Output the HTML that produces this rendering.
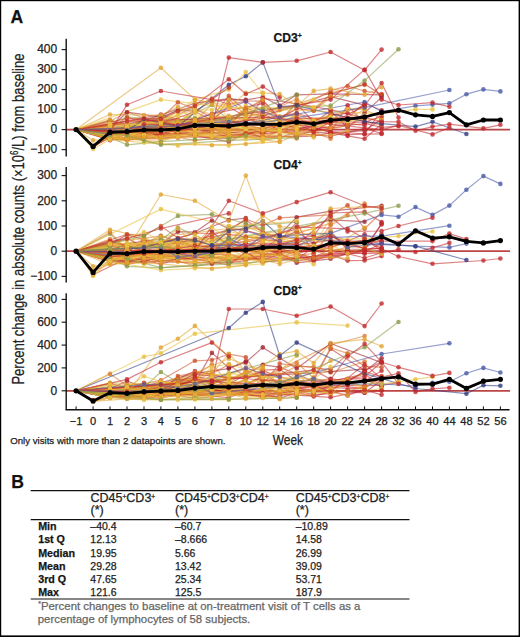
<!DOCTYPE html><html><head><meta charset="utf-8"><style>html,body{margin:0;padding:0;background:#fff}svg{display:block}text{font-family:"Liberation Sans",sans-serif;stroke:#222;stroke-width:0.25px}text.g{stroke:#666}</style></head><body>
<svg width="520" height="637" viewBox="0 0 520 637">
<rect x="0" y="0" width="520" height="637" fill="#fff"/>
<defs><filter id="bl" x="-5%" y="-5%" width="110%" height="110%"><feGaussianBlur stdDeviation="0.35"/></filter></defs><g filter="url(#bl)"><line x1="66.2" y1="129.6" x2="510" y2="129.6" stroke="#BC4444" stroke-width="1.8"/>
<line x1="66.2" y1="251.2" x2="510" y2="251.2" stroke="#BC4444" stroke-width="1.8"/>
<line x1="66.2" y1="390.8" x2="510" y2="390.8" stroke="#BC4444" stroke-width="1.8"/>
<g fill="none" stroke-width="1.2" stroke-opacity="0.58" stroke-linejoin="round"><polyline points="76.1,129.6 110.0,133.2 127.0,139.3 144.0,137.7 160.9,138.0 177.9,131.5 228.8,127.0 262.8,133.1 279.7,124.2 296.7,128.2 313.7,127.1 330.6,131.8 347.6,105.3 364.6,123.3 381.6,121.7" stroke="#C22A2D"/><polyline points="76.1,129.6 127.0,134.3 144.0,133.4 160.9,137.0 177.9,131.9 194.9,134.1 211.9,128.9 228.8,134.6 245.8,133.8 262.8,137.0 279.7,137.7 296.7,131.7 330.6,133.2 364.6,130.7 381.6,119.3" stroke="#A0242F"/><polyline points="76.1,129.6 110.0,140.2 127.0,137.1 177.9,137.8 194.9,135.2 211.9,130.1 228.8,132.1 262.8,134.0 279.7,124.4 313.7,130.8 347.6,125.5 364.6,123.5 381.6,127.4 398.5,126.2" stroke="#C22A2D"/><polyline points="76.1,129.6 110.0,135.8 127.0,133.7 144.0,132.5 160.9,129.7 194.9,133.5 228.8,136.4 245.8,133.3 296.7,128.8 330.6,122.2 364.6,125.2" stroke="#C22A2D"/><polyline points="76.1,129.6 110.0,126.8 127.0,127.9 144.0,126.7 160.9,121.6 177.9,122.0 194.9,120.3 228.8,123.2 245.8,120.3" stroke="#C22A2D"/><polyline points="76.1,129.6 110.0,138.6 127.0,134.6 144.0,138.1 160.9,135.8 228.8,138.2 245.8,134.3 262.8,130.3 279.7,127.7 296.7,136.6 313.7,136.1 330.6,132.9 347.6,135.9 364.6,138.8 381.6,124.0" stroke="#C22A2D"/><polyline points="76.1,129.6 110.0,133.0 127.0,131.4 144.0,137.0 160.9,130.1 245.8,130.4 262.8,133.5 296.7,131.4 347.6,124.1" stroke="#C22A2D"/><polyline points="76.1,129.6 110.0,132.3 160.9,129.7 211.9,126.8 228.8,128.2 262.8,114.6 279.7,120.7 296.7,103.6 313.7,122.4 330.6,111.1 347.6,127.6 364.6,112.7 381.6,97.4" stroke="#A0242F"/><polyline points="76.1,129.6 110.0,138.6 127.0,137.6 160.9,134.4 177.9,133.5 194.9,135.2 211.9,132.1 228.8,137.3 262.8,136.7 296.7,136.3 313.7,130.0 364.6,134.0 381.6,110.5" stroke="#C22A2D"/><polyline points="76.1,129.6 110.0,135.9 160.9,128.6 177.9,126.5 194.9,121.2 228.8,125.4 245.8,125.7 262.8,121.1 279.7,130.6 296.7,125.0 330.6,127.8" stroke="#C22A2D"/><polyline points="76.1,129.6 110.0,134.8 127.0,134.5 160.9,130.9 194.9,122.1 211.9,128.9 228.8,118.9 262.8,133.8 313.7,127.6 330.6,113.5 381.6,125.2" stroke="#D0532C"/><polyline points="76.1,129.6 144.0,129.1 160.9,125.4 177.9,120.0 194.9,119.1 211.9,113.9 262.8,103.6 279.7,119.6 296.7,121.9 313.7,120.9 330.6,115.7 347.6,113.2" stroke="#C22A2D"/><polyline points="76.1,129.6 110.0,123.6 127.0,117.1 160.9,119.2 177.9,109.6 194.9,109.2" stroke="#8A9C4A"/><polyline points="76.1,129.6 110.0,131.7 127.0,127.7 177.9,126.8 194.9,123.3 211.9,117.4 228.8,117.6 245.8,119.5 279.7,123.3 296.7,114.4 313.7,121.3 330.6,115.1 364.6,106.1" stroke="#DC7C2C"/><polyline points="76.1,129.6 127.0,139.4 144.0,131.6 160.9,135.7 211.9,132.4 228.8,132.9 245.8,130.6 262.8,138.0 296.7,123.9 313.7,127.6 330.6,132.1 347.6,134.6 364.6,134.2 381.6,133.9" stroke="#C22A2D"/><polyline points="76.1,129.6 110.0,127.0 144.0,131.5 160.9,133.9 177.9,130.1" stroke="#DC7C2C"/><polyline points="76.1,129.6 110.0,138.2 127.0,138.4 144.0,137.8 194.9,130.2 228.8,134.2 245.8,133.9 262.8,135.5 279.7,131.3 296.7,133.3 313.7,132.1 330.6,138.8" stroke="#DC7C2C"/><polyline points="76.1,129.6 110.0,130.0 127.0,125.8 160.9,127.0 194.9,125.9 211.9,122.7 228.8,121.0 245.8,112.8 262.8,115.6 330.6,96.7 364.6,105.2" stroke="#A0242F"/><polyline points="76.1,129.6 110.0,121.2 127.0,112.3 144.0,117.9 160.9,118.2 177.9,125.9 211.9,122.6 228.8,99.0 245.8,115.9 279.7,110.0 330.6,92.9 364.6,84.9" stroke="#DC7C2C"/><polyline points="76.1,129.6 110.0,139.3 127.0,136.7 144.0,135.5 160.9,136.1 177.9,134.5 194.9,134.2 211.9,136.5 228.8,136.3 245.8,136.8 262.8,139.7 279.7,141.9 296.7,134.8" stroke="#E2A532"/><polyline points="76.1,129.6 110.0,123.8 160.9,114.5 194.9,125.3 228.8,124.5 245.8,109.2 262.8,100.1 279.7,118.2 296.7,108.4 313.7,110.7 330.6,94.3 364.6,84.1 381.6,95.0" stroke="#C22A2D"/><polyline points="76.1,129.6 110.0,139.3 127.0,140.1 144.0,138.4 160.9,136.8 177.9,134.0 211.9,137.2 228.8,134.6" stroke="#D0532C"/><polyline points="76.1,129.6 110.0,128.3 127.0,112.2 160.9,117.1 177.9,110.5 194.9,110.9 211.9,101.5 228.8,99.6 245.8,99.9 262.8,97.0 279.7,105.6 296.7,94.8 330.6,93.9 381.6,94.9" stroke="#A0242F"/><polyline points="76.1,129.6 110.0,131.4 127.0,133.0 160.9,130.4 194.9,119.9 211.9,128.7 228.8,126.9 245.8,123.0 262.8,98.2 330.6,109.7 364.6,118.2 381.6,111.9" stroke="#C22A2D"/><polyline points="76.1,129.6 110.0,120.3 127.0,125.2 144.0,120.6 194.9,103.2 228.8,98.6 245.8,100.5" stroke="#A0242F"/><polyline points="76.1,129.6 110.0,128.6 127.0,117.6 144.0,120.8 160.9,123.4 194.9,106.3 211.9,98.6 228.8,104.4 245.8,101.2 262.8,100.9 279.7,118.3 330.6,90.7 347.6,86.0 364.6,91.0 381.6,94.0" stroke="#D0532C"/><polyline points="76.1,129.6 110.0,138.6 127.0,134.9 144.0,135.9 160.9,132.2 177.9,134.4 194.9,128.2 228.8,128.5" stroke="#E2A532"/><polyline points="76.1,129.6 127.0,120.9 160.9,120.3 177.9,112.3 194.9,106.6 211.9,99.9 228.8,117.9" stroke="#E9C13E"/><polyline points="76.1,129.6 110.0,133.5 127.0,132.8 160.9,133.4 211.9,134.3 228.8,133.8 296.7,129.4" stroke="#E9C13E"/><polyline points="76.1,129.6 110.0,132.8 127.0,129.5 144.0,122.0 160.9,121.2 177.9,126.4 194.9,121.1" stroke="#D0532C"/><polyline points="76.1,129.6 93.1,146.4 127.0,127.6 144.0,117.9 160.9,127.2 177.9,115.7 194.9,118.0 228.8,125.2 245.8,105.5 262.8,123.4 296.7,114.1" stroke="#E9C13E"/><polyline points="76.1,129.6 110.0,132.2 127.0,128.0 144.0,131.9 160.9,130.4 177.9,126.8 194.9,126.9 211.9,124.0 228.8,118.3 245.8,117.5 262.8,126.0 279.7,132.3 296.7,132.8 330.6,123.4 347.6,121.6 364.6,115.6" stroke="#E9C13E"/><polyline points="76.1,129.6 110.0,119.7 127.0,125.3 144.0,122.0 160.9,123.3 228.8,119.1 262.8,99.6" stroke="#E2A532"/><polyline points="76.1,129.6 110.0,137.2 127.0,134.2 160.9,133.6 177.9,127.0 194.9,127.2 228.8,132.9" stroke="#E9C13E"/><polyline points="76.1,129.6 93.1,145.9 110.0,138.2 127.0,140.6 144.0,136.0 160.9,139.5 194.9,131.6 262.8,137.9 296.7,136.1 313.7,134.3" stroke="#DC7C2C"/><polyline points="76.1,129.6 110.0,129.9 144.0,133.9 160.9,129.5 177.9,125.3 194.9,126.2 211.9,120.0 228.8,120.4 262.8,129.2 296.7,119.4 313.7,122.5 347.6,118.0 364.6,103.2 381.6,110.5" stroke="#C22A2D"/><polyline points="76.1,129.6 110.0,134.5 127.0,132.8 144.0,131.8 160.9,126.0 211.9,134.1 228.8,129.2 245.8,130.3 279.7,128.8 296.7,116.2 313.7,127.7 330.6,121.6 347.6,109.1 364.6,109.3 381.6,118.2" stroke="#E2A532"/><polyline points="76.1,129.6 110.0,134.1 127.0,129.2 160.9,124.1 194.9,118.3 228.8,120.0 245.8,129.3" stroke="#8A9C4A"/><polyline points="76.1,129.6 110.0,136.4 127.0,132.0 144.0,131.2 160.9,133.7 177.9,128.9 228.8,127.2" stroke="#DC7C2C"/><polyline points="76.1,129.6 110.0,131.4 127.0,134.6 160.9,130.9 177.9,125.4 194.9,127.4 228.8,129.9 262.8,121.1 279.7,119.8 296.7,125.5 313.7,119.8 330.6,117.0" stroke="#E2A532"/><polyline points="76.1,129.6 127.0,135.3 160.9,127.0 177.9,130.2 194.9,122.8 211.9,129.3 245.8,125.8 262.8,130.7 279.7,129.9" stroke="#E9C13E"/><polyline points="76.1,129.6 110.0,135.4 127.0,134.0 177.9,127.3 194.9,128.1 211.9,129.9 228.8,130.9 245.8,131.7 279.7,130.2 296.7,120.3" stroke="#E9C13E"/><polyline points="76.1,129.6 110.0,128.7 127.0,126.5 144.0,125.3 160.9,116.6 177.9,123.5 194.9,108.7 211.9,114.5 228.8,119.2 245.8,110.5 262.8,107.5 279.7,122.1 296.7,101.3 313.7,108.1 330.6,95.8" stroke="#E2A532"/><polyline points="76.1,129.6 110.0,129.1 127.0,123.8 144.0,123.3 160.9,115.9 177.9,121.5 211.9,105.0 228.8,120.1 296.7,94.9" stroke="#8A9C4A"/><polyline points="76.1,129.6 110.0,136.6 127.0,131.0 144.0,135.0 177.9,131.0 194.9,131.2 228.8,121.2 245.8,129.5 262.8,135.7 279.7,133.5 296.7,119.8 330.6,116.8 347.6,120.9 364.6,119.4 381.6,118.7" stroke="#E9C13E"/><polyline points="76.1,129.6 110.0,133.4 160.9,130.2 177.9,129.5 194.9,126.2 211.9,120.7 228.8,130.1 279.7,126.1 313.7,132.2 347.6,125.6 364.6,118.1" stroke="#DC7C2C"/><polyline points="76.1,129.6 110.0,114.5 144.0,115.1 160.9,115.4 177.9,106.9 194.9,121.3 211.9,104.5 228.8,107.6 245.8,92.7 262.8,92.8 279.7,94.1 296.7,106.4 313.7,90.9 330.6,88.6 364.6,94.7 381.6,87.3" stroke="#E2A532"/><polyline points="76.1,129.6 110.0,138.6 127.0,138.4 144.0,135.4 160.9,133.8 177.9,133.1 194.9,135.4 228.8,141.9 245.8,133.3 262.8,131.0 330.6,136.2 364.6,128.3 381.6,133.3" stroke="#C22A2D"/><polyline points="76.1,129.6 110.0,128.9 127.0,128.2 160.9,135.8" stroke="#C22A2D"/><polyline points="76.1,129.6 110.0,125.3 144.0,124.6 160.9,122.2 177.9,123.8 211.9,124.4" stroke="#E2A532"/><polyline points="76.1,129.6 110.0,137.4 127.0,139.3 144.0,137.6 160.9,138.4" stroke="#E9C13E"/><polyline points="76.1,129.6 110.0,138.2 160.9,141.4 177.9,135.6 194.9,135.0 211.9,137.7 228.8,136.3 245.8,136.8 262.8,140.4 279.7,137.5 296.7,133.8 330.6,135.3 347.6,130.8" stroke="#E2A532"/><polyline points="76.1,129.6 93.1,147.3 127.0,126.1 144.0,129.7 194.9,111.7 211.9,119.8 228.8,107.1 262.8,126.1 296.7,123.2 313.7,131.9 330.6,121.5 364.6,122.4 381.6,116.2" stroke="#C22A2D"/><polyline points="76.1,129.6 127.0,118.5 144.0,119.2 160.9,118.4 177.9,102.3 194.9,108.9 211.9,117.3 228.8,95.9 245.8,111.0 262.8,113.1" stroke="#D0532C"/><polyline points="76.1,129.6 110.0,133.6 127.0,127.3 144.0,136.0 160.9,126.3 177.9,130.9 194.9,126.8 211.9,129.3 228.8,124.7 245.8,127.0 262.8,127.7 279.7,126.4 296.7,115.3" stroke="#DC7C2C"/><polyline points="76.1,129.6 110.0,125.8 127.0,125.9 144.0,130.4 177.9,129.1 194.9,119.6 228.8,126.7 245.8,107.8 262.8,114.4 296.7,99.0 313.7,110.5 330.6,97.7 347.6,94.5" stroke="#DC7C2C"/><polyline points="76.1,129.6 110.0,134.6 127.0,138.3 144.0,134.2 160.9,138.5 177.9,130.9" stroke="#E9C13E"/><polyline points="76.1,129.6 110.0,128.9 127.0,131.5 194.9,119.9 228.8,131.1 262.8,127.2" stroke="#E2A532"/><polyline points="76.1,129.6 127.0,130.1 144.0,126.7 160.9,130.6 177.9,123.5 194.9,127.2 211.9,125.0 245.8,129.0 262.8,123.9 296.7,128.3 313.7,120.9 330.6,117.7" stroke="#E9C13E"/><polyline points="76.1,129.6 110.0,138.1 127.0,139.9 144.0,135.1 160.9,137.1 194.9,133.4 228.8,137.2 245.8,137.2 262.8,137.2 296.7,132.3 313.7,137.4" stroke="#E9C13E"/><polyline points="76.1,129.6 110.0,127.6 127.0,133.0 144.0,128.0 194.9,121.1 228.8,125.2 262.8,130.1 279.7,127.7 296.7,112.9" stroke="#E9C13E"/><polyline points="76.1,129.6 110.0,133.0 127.0,134.5 160.9,136.0 228.8,132.1 245.8,115.9 262.8,115.3 279.7,125.9" stroke="#E2A532"/><polyline points="76.1,129.6 110.0,123.9 127.0,124.4 144.0,122.6 177.9,125.9 194.9,111.0 211.9,121.3 228.8,99.5 262.8,118.8 296.7,127.0" stroke="#E9C13E"/><polyline points="76.1,129.6 110.0,139.0 127.0,139.3 144.0,138.7 160.9,138.8 177.9,137.2 194.9,140.6 245.8,134.9 262.8,136.1 279.7,135.5 296.7,138.4" stroke="#DC7C2C"/><polyline points="76.1,129.6 110.0,124.0 127.0,127.6 144.0,124.4 160.9,127.3 194.9,113.5 211.9,125.1 228.8,121.2 262.8,117.7 313.7,99.5 330.6,107.8" stroke="#E9C13E"/><polyline points="76.1,129.6 110.0,138.3 127.0,138.0 144.0,129.7 160.9,140.5 177.9,137.4 194.9,135.7 211.9,136.2 228.8,139.2 245.8,138.9 262.8,138.3 279.7,137.7" stroke="#E9C13E"/><polyline points="76.1,129.6 127.0,127.6 160.9,120.1 194.9,109.9 211.9,110.0 228.8,107.6 313.7,107.2" stroke="#E9C13E"/><polyline points="76.1,129.6 93.1,146.7 110.0,134.7 127.0,135.5 144.0,138.2 160.9,136.4 194.9,137.1" stroke="#E2A532"/><polyline points="76.1,129.6 110.0,126.6 127.0,129.3 144.0,120.2 160.9,126.9 211.9,116.9 228.8,115.9 245.8,124.7 279.7,116.2 296.7,124.6 313.7,123.1 330.6,128.0 364.6,109.6" stroke="#E2A532"/><polyline points="76.1,129.6 110.0,129.6 144.0,131.6 160.9,121.2 177.9,120.8 194.9,120.9 228.8,131.9 245.8,112.1 262.8,127.8" stroke="#E2A532"/><polyline points="76.1,129.6 110.0,137.2 127.0,137.6 144.0,137.2 160.9,130.8 194.9,131.9 211.9,124.3 228.8,136.8 245.8,136.5 262.8,130.6 296.7,133.9" stroke="#E2A532"/><polyline points="76.1,129.6 127.0,130.8 144.0,119.2 177.9,126.5 228.8,84.8 245.8,76.2 262.8,62.4 279.7,106.6 296.7,105.6 364.6,121.6 381.6,123.6 415.5,126.6 432.5,121.8 466.4,134.0" stroke="#2F3B82"/><polyline points="76.1,129.6 144.0,118.6 177.9,125.1 211.9,126.0 228.8,57.6 262.8,62.4 296.7,60.8 330.6,52.0 364.6,70.2 381.6,49.6" stroke="#C22A2D"/><polyline points="76.1,129.6 110.0,129.7 144.0,126.2 228.8,121.9 262.8,122.6 364.6,107.6 449.4,90.0" stroke="#4A5BA8"/><polyline points="76.1,129.6 110.0,134.1 127.0,130.2 177.9,128.8 245.8,123.2 364.6,102.0 381.6,111.6 415.5,105.8 432.5,104.6 449.4,103.4 466.4,94.2 483.4,89.4 500.4,91.4" stroke="#4A5BA8"/><polyline points="76.1,129.6 160.9,99.6 194.9,103.6 228.8,107.6 381.6,113.6 415.5,109.4 432.5,109.4" stroke="#E9C13E"/><polyline points="76.1,129.6 160.9,127.7 330.6,99.6 364.6,69.6 381.6,99.6 398.5,105.0 432.5,102.6 449.4,106.8" stroke="#C22A2D"/><polyline points="76.1,129.6 110.0,125.6 160.9,123.1 194.9,99.6 228.8,89.6 245.8,72.0 262.8,93.6" stroke="#E9C13E"/><polyline points="76.1,129.6 160.9,119.0 177.9,111.3 194.9,105.6 228.8,79.2 245.8,94.0 262.8,86.6 279.7,97.6" stroke="#C22A2D"/><polyline points="76.1,129.6 127.0,133.9 144.0,124.2 228.8,125.2 279.7,124.1 296.7,118.7 364.6,117.6 381.6,121.6 398.5,121.8 415.5,130.8 432.5,126.6 449.4,124.2 483.4,128.4 500.4,124.8" stroke="#C22A2D"/><polyline points="76.1,129.6 127.0,121.4 262.8,117.0 381.6,129.6 398.5,125.4 432.5,134.4 449.4,127.6" stroke="#C22A2D"/><polyline points="76.1,129.6 194.9,125.9 262.8,109.0 330.6,105.6 364.6,80.6 398.5,49.2" stroke="#8A9C4A"/><polyline points="76.1,129.6 127.0,131.8 160.9,133.1 296.7,113.3 330.6,123.8 364.6,105.6 381.6,83.0 398.5,117.6" stroke="#C22A2D"/><polyline points="76.1,129.6 160.9,67.8 194.9,99.6 228.8,105.6" stroke="#E2A532"/><polyline points="76.1,129.6 110.0,131.1 127.0,104.8 160.9,91.0 211.9,99.6 228.8,87.6" stroke="#C22A2D"/><polyline points="76.1,129.6 177.9,126.2 245.8,101.6 262.8,111.6 279.7,117.6 296.7,113.6" stroke="#6B4C94"/><polyline points="76.1,129.6 110.0,137.6 127.0,144.8 160.9,141.6 194.9,139.6 228.8,138.6 245.8,135.6" stroke="#8A9C4A"/><polyline points="76.1,129.6 93.1,149.0 110.0,139.6 144.0,142.6 177.9,145.6 194.9,143.6 228.8,145.6 262.8,141.6" stroke="#E9C13E"/><polyline points="76.1,129.6 93.1,140.4 127.0,137.6 160.9,143.6 211.9,145.2 245.8,144.0 279.7,141.6" stroke="#E2A532"/><polyline points="76.1,129.6 127.0,135.6 144.0,140.6 160.9,144.8 228.8,140.6 296.7,137.6" stroke="#8A9C4A"/></g>
<g fill-opacity="0.8"><g fill="#C22A2D"><circle cx="110.0" cy="133.2" r="2.3"/><circle cx="127.0" cy="139.3" r="2.3"/><circle cx="144.0" cy="137.7" r="2.3"/><circle cx="160.9" cy="138.0" r="2.3"/><circle cx="177.9" cy="131.5" r="2.3"/><circle cx="228.8" cy="127.0" r="2.3"/><circle cx="262.8" cy="133.1" r="2.3"/><circle cx="279.7" cy="124.2" r="2.3"/><circle cx="296.7" cy="128.2" r="2.3"/><circle cx="313.7" cy="127.1" r="2.3"/><circle cx="330.6" cy="131.8" r="2.3"/><circle cx="347.6" cy="105.3" r="2.3"/><circle cx="364.6" cy="123.3" r="2.3"/><circle cx="381.6" cy="121.7" r="2.3"/></g><g fill="#A0242F"><circle cx="127.0" cy="134.3" r="2.3"/><circle cx="144.0" cy="133.4" r="2.3"/><circle cx="160.9" cy="137.0" r="2.3"/><circle cx="177.9" cy="131.9" r="2.3"/><circle cx="194.9" cy="134.1" r="2.3"/><circle cx="211.9" cy="128.9" r="2.3"/><circle cx="228.8" cy="134.6" r="2.3"/><circle cx="245.8" cy="133.8" r="2.3"/><circle cx="262.8" cy="137.0" r="2.3"/><circle cx="279.7" cy="137.7" r="2.3"/><circle cx="296.7" cy="131.7" r="2.3"/><circle cx="330.6" cy="133.2" r="2.3"/><circle cx="364.6" cy="130.7" r="2.3"/><circle cx="381.6" cy="119.3" r="2.3"/></g><g fill="#C22A2D"><circle cx="110.0" cy="140.2" r="2.3"/><circle cx="127.0" cy="137.1" r="2.3"/><circle cx="177.9" cy="137.8" r="2.3"/><circle cx="194.9" cy="135.2" r="2.3"/><circle cx="211.9" cy="130.1" r="2.3"/><circle cx="228.8" cy="132.1" r="2.3"/><circle cx="262.8" cy="134.0" r="2.3"/><circle cx="279.7" cy="124.4" r="2.3"/><circle cx="313.7" cy="130.8" r="2.3"/><circle cx="347.6" cy="125.5" r="2.3"/><circle cx="364.6" cy="123.5" r="2.3"/><circle cx="381.6" cy="127.4" r="2.3"/><circle cx="398.5" cy="126.2" r="2.3"/></g><g fill="#C22A2D"><circle cx="110.0" cy="135.8" r="2.3"/><circle cx="127.0" cy="133.7" r="2.3"/><circle cx="144.0" cy="132.5" r="2.3"/><circle cx="160.9" cy="129.7" r="2.3"/><circle cx="194.9" cy="133.5" r="2.3"/><circle cx="228.8" cy="136.4" r="2.3"/><circle cx="245.8" cy="133.3" r="2.3"/><circle cx="296.7" cy="128.8" r="2.3"/><circle cx="330.6" cy="122.2" r="2.3"/><circle cx="364.6" cy="125.2" r="2.3"/></g><g fill="#C22A2D"><circle cx="110.0" cy="126.8" r="2.3"/><circle cx="127.0" cy="127.9" r="2.3"/><circle cx="144.0" cy="126.7" r="2.3"/><circle cx="160.9" cy="121.6" r="2.3"/><circle cx="177.9" cy="122.0" r="2.3"/><circle cx="194.9" cy="120.3" r="2.3"/><circle cx="228.8" cy="123.2" r="2.3"/><circle cx="245.8" cy="120.3" r="2.3"/></g><g fill="#C22A2D"><circle cx="110.0" cy="138.6" r="2.3"/><circle cx="127.0" cy="134.6" r="2.3"/><circle cx="144.0" cy="138.1" r="2.3"/><circle cx="160.9" cy="135.8" r="2.3"/><circle cx="228.8" cy="138.2" r="2.3"/><circle cx="245.8" cy="134.3" r="2.3"/><circle cx="262.8" cy="130.3" r="2.3"/><circle cx="279.7" cy="127.7" r="2.3"/><circle cx="296.7" cy="136.6" r="2.3"/><circle cx="313.7" cy="136.1" r="2.3"/><circle cx="330.6" cy="132.9" r="2.3"/><circle cx="347.6" cy="135.9" r="2.3"/><circle cx="364.6" cy="138.8" r="2.3"/><circle cx="381.6" cy="124.0" r="2.3"/></g><g fill="#C22A2D"><circle cx="110.0" cy="133.0" r="2.3"/><circle cx="127.0" cy="131.4" r="2.3"/><circle cx="144.0" cy="137.0" r="2.3"/><circle cx="160.9" cy="130.1" r="2.3"/><circle cx="245.8" cy="130.4" r="2.3"/><circle cx="262.8" cy="133.5" r="2.3"/><circle cx="296.7" cy="131.4" r="2.3"/><circle cx="347.6" cy="124.1" r="2.3"/></g><g fill="#A0242F"><circle cx="110.0" cy="132.3" r="2.3"/><circle cx="160.9" cy="129.7" r="2.3"/><circle cx="211.9" cy="126.8" r="2.3"/><circle cx="228.8" cy="128.2" r="2.3"/><circle cx="262.8" cy="114.6" r="2.3"/><circle cx="279.7" cy="120.7" r="2.3"/><circle cx="296.7" cy="103.6" r="2.3"/><circle cx="313.7" cy="122.4" r="2.3"/><circle cx="330.6" cy="111.1" r="2.3"/><circle cx="347.6" cy="127.6" r="2.3"/><circle cx="364.6" cy="112.7" r="2.3"/><circle cx="381.6" cy="97.4" r="2.3"/></g><g fill="#C22A2D"><circle cx="110.0" cy="138.6" r="2.3"/><circle cx="127.0" cy="137.6" r="2.3"/><circle cx="160.9" cy="134.4" r="2.3"/><circle cx="177.9" cy="133.5" r="2.3"/><circle cx="194.9" cy="135.2" r="2.3"/><circle cx="211.9" cy="132.1" r="2.3"/><circle cx="228.8" cy="137.3" r="2.3"/><circle cx="262.8" cy="136.7" r="2.3"/><circle cx="296.7" cy="136.3" r="2.3"/><circle cx="313.7" cy="130.0" r="2.3"/><circle cx="364.6" cy="134.0" r="2.3"/><circle cx="381.6" cy="110.5" r="2.3"/></g><g fill="#C22A2D"><circle cx="110.0" cy="135.9" r="2.3"/><circle cx="160.9" cy="128.6" r="2.3"/><circle cx="177.9" cy="126.5" r="2.3"/><circle cx="194.9" cy="121.2" r="2.3"/><circle cx="228.8" cy="125.4" r="2.3"/><circle cx="245.8" cy="125.7" r="2.3"/><circle cx="262.8" cy="121.1" r="2.3"/><circle cx="279.7" cy="130.6" r="2.3"/><circle cx="296.7" cy="125.0" r="2.3"/><circle cx="330.6" cy="127.8" r="2.3"/></g><g fill="#D0532C"><circle cx="110.0" cy="134.8" r="2.3"/><circle cx="127.0" cy="134.5" r="2.3"/><circle cx="160.9" cy="130.9" r="2.3"/><circle cx="194.9" cy="122.1" r="2.3"/><circle cx="211.9" cy="128.9" r="2.3"/><circle cx="228.8" cy="118.9" r="2.3"/><circle cx="262.8" cy="133.8" r="2.3"/><circle cx="313.7" cy="127.6" r="2.3"/><circle cx="330.6" cy="113.5" r="2.3"/><circle cx="381.6" cy="125.2" r="2.3"/></g><g fill="#C22A2D"><circle cx="144.0" cy="129.1" r="2.3"/><circle cx="160.9" cy="125.4" r="2.3"/><circle cx="177.9" cy="120.0" r="2.3"/><circle cx="194.9" cy="119.1" r="2.3"/><circle cx="211.9" cy="113.9" r="2.3"/><circle cx="262.8" cy="103.6" r="2.3"/><circle cx="279.7" cy="119.6" r="2.3"/><circle cx="296.7" cy="121.9" r="2.3"/><circle cx="313.7" cy="120.9" r="2.3"/><circle cx="330.6" cy="115.7" r="2.3"/><circle cx="347.6" cy="113.2" r="2.3"/></g><g fill="#8A9C4A"><circle cx="110.0" cy="123.6" r="2.3"/><circle cx="127.0" cy="117.1" r="2.3"/><circle cx="160.9" cy="119.2" r="2.3"/><circle cx="177.9" cy="109.6" r="2.3"/><circle cx="194.9" cy="109.2" r="2.3"/></g><g fill="#DC7C2C"><circle cx="110.0" cy="131.7" r="2.3"/><circle cx="127.0" cy="127.7" r="2.3"/><circle cx="177.9" cy="126.8" r="2.3"/><circle cx="194.9" cy="123.3" r="2.3"/><circle cx="211.9" cy="117.4" r="2.3"/><circle cx="228.8" cy="117.6" r="2.3"/><circle cx="245.8" cy="119.5" r="2.3"/><circle cx="279.7" cy="123.3" r="2.3"/><circle cx="296.7" cy="114.4" r="2.3"/><circle cx="313.7" cy="121.3" r="2.3"/><circle cx="330.6" cy="115.1" r="2.3"/><circle cx="364.6" cy="106.1" r="2.3"/></g><g fill="#C22A2D"><circle cx="127.0" cy="139.4" r="2.3"/><circle cx="144.0" cy="131.6" r="2.3"/><circle cx="160.9" cy="135.7" r="2.3"/><circle cx="211.9" cy="132.4" r="2.3"/><circle cx="228.8" cy="132.9" r="2.3"/><circle cx="245.8" cy="130.6" r="2.3"/><circle cx="262.8" cy="138.0" r="2.3"/><circle cx="296.7" cy="123.9" r="2.3"/><circle cx="313.7" cy="127.6" r="2.3"/><circle cx="330.6" cy="132.1" r="2.3"/><circle cx="347.6" cy="134.6" r="2.3"/><circle cx="364.6" cy="134.2" r="2.3"/><circle cx="381.6" cy="133.9" r="2.3"/></g><g fill="#DC7C2C"><circle cx="110.0" cy="127.0" r="2.3"/><circle cx="144.0" cy="131.5" r="2.3"/><circle cx="160.9" cy="133.9" r="2.3"/><circle cx="177.9" cy="130.1" r="2.3"/></g><g fill="#DC7C2C"><circle cx="110.0" cy="138.2" r="2.3"/><circle cx="127.0" cy="138.4" r="2.3"/><circle cx="144.0" cy="137.8" r="2.3"/><circle cx="194.9" cy="130.2" r="2.3"/><circle cx="228.8" cy="134.2" r="2.3"/><circle cx="245.8" cy="133.9" r="2.3"/><circle cx="262.8" cy="135.5" r="2.3"/><circle cx="279.7" cy="131.3" r="2.3"/><circle cx="296.7" cy="133.3" r="2.3"/><circle cx="313.7" cy="132.1" r="2.3"/><circle cx="330.6" cy="138.8" r="2.3"/></g><g fill="#A0242F"><circle cx="110.0" cy="130.0" r="2.3"/><circle cx="127.0" cy="125.8" r="2.3"/><circle cx="160.9" cy="127.0" r="2.3"/><circle cx="194.9" cy="125.9" r="2.3"/><circle cx="211.9" cy="122.7" r="2.3"/><circle cx="228.8" cy="121.0" r="2.3"/><circle cx="245.8" cy="112.8" r="2.3"/><circle cx="262.8" cy="115.6" r="2.3"/><circle cx="330.6" cy="96.7" r="2.3"/><circle cx="364.6" cy="105.2" r="2.3"/></g><g fill="#DC7C2C"><circle cx="110.0" cy="121.2" r="2.3"/><circle cx="127.0" cy="112.3" r="2.3"/><circle cx="144.0" cy="117.9" r="2.3"/><circle cx="160.9" cy="118.2" r="2.3"/><circle cx="177.9" cy="125.9" r="2.3"/><circle cx="211.9" cy="122.6" r="2.3"/><circle cx="228.8" cy="99.0" r="2.3"/><circle cx="245.8" cy="115.9" r="2.3"/><circle cx="279.7" cy="110.0" r="2.3"/><circle cx="330.6" cy="92.9" r="2.3"/><circle cx="364.6" cy="84.9" r="2.3"/></g><g fill="#E2A532"><circle cx="110.0" cy="139.3" r="2.3"/><circle cx="127.0" cy="136.7" r="2.3"/><circle cx="144.0" cy="135.5" r="2.3"/><circle cx="160.9" cy="136.1" r="2.3"/><circle cx="177.9" cy="134.5" r="2.3"/><circle cx="194.9" cy="134.2" r="2.3"/><circle cx="211.9" cy="136.5" r="2.3"/><circle cx="228.8" cy="136.3" r="2.3"/><circle cx="245.8" cy="136.8" r="2.3"/><circle cx="262.8" cy="139.7" r="2.3"/><circle cx="279.7" cy="141.9" r="2.3"/><circle cx="296.7" cy="134.8" r="2.3"/></g><g fill="#C22A2D"><circle cx="110.0" cy="123.8" r="2.3"/><circle cx="160.9" cy="114.5" r="2.3"/><circle cx="194.9" cy="125.3" r="2.3"/><circle cx="228.8" cy="124.5" r="2.3"/><circle cx="245.8" cy="109.2" r="2.3"/><circle cx="262.8" cy="100.1" r="2.3"/><circle cx="279.7" cy="118.2" r="2.3"/><circle cx="296.7" cy="108.4" r="2.3"/><circle cx="313.7" cy="110.7" r="2.3"/><circle cx="330.6" cy="94.3" r="2.3"/><circle cx="364.6" cy="84.1" r="2.3"/><circle cx="381.6" cy="95.0" r="2.3"/></g><g fill="#D0532C"><circle cx="110.0" cy="139.3" r="2.3"/><circle cx="127.0" cy="140.1" r="2.3"/><circle cx="144.0" cy="138.4" r="2.3"/><circle cx="160.9" cy="136.8" r="2.3"/><circle cx="177.9" cy="134.0" r="2.3"/><circle cx="211.9" cy="137.2" r="2.3"/><circle cx="228.8" cy="134.6" r="2.3"/></g><g fill="#A0242F"><circle cx="110.0" cy="128.3" r="2.3"/><circle cx="127.0" cy="112.2" r="2.3"/><circle cx="160.9" cy="117.1" r="2.3"/><circle cx="177.9" cy="110.5" r="2.3"/><circle cx="194.9" cy="110.9" r="2.3"/><circle cx="211.9" cy="101.5" r="2.3"/><circle cx="228.8" cy="99.6" r="2.3"/><circle cx="245.8" cy="99.9" r="2.3"/><circle cx="262.8" cy="97.0" r="2.3"/><circle cx="279.7" cy="105.6" r="2.3"/><circle cx="296.7" cy="94.8" r="2.3"/><circle cx="330.6" cy="93.9" r="2.3"/><circle cx="381.6" cy="94.9" r="2.3"/></g><g fill="#C22A2D"><circle cx="110.0" cy="131.4" r="2.3"/><circle cx="127.0" cy="133.0" r="2.3"/><circle cx="160.9" cy="130.4" r="2.3"/><circle cx="194.9" cy="119.9" r="2.3"/><circle cx="211.9" cy="128.7" r="2.3"/><circle cx="228.8" cy="126.9" r="2.3"/><circle cx="245.8" cy="123.0" r="2.3"/><circle cx="262.8" cy="98.2" r="2.3"/><circle cx="330.6" cy="109.7" r="2.3"/><circle cx="364.6" cy="118.2" r="2.3"/><circle cx="381.6" cy="111.9" r="2.3"/></g><g fill="#A0242F"><circle cx="110.0" cy="120.3" r="2.3"/><circle cx="127.0" cy="125.2" r="2.3"/><circle cx="144.0" cy="120.6" r="2.3"/><circle cx="194.9" cy="103.2" r="2.3"/><circle cx="228.8" cy="98.6" r="2.3"/><circle cx="245.8" cy="100.5" r="2.3"/></g><g fill="#D0532C"><circle cx="110.0" cy="128.6" r="2.3"/><circle cx="127.0" cy="117.6" r="2.3"/><circle cx="144.0" cy="120.8" r="2.3"/><circle cx="160.9" cy="123.4" r="2.3"/><circle cx="194.9" cy="106.3" r="2.3"/><circle cx="211.9" cy="98.6" r="2.3"/><circle cx="228.8" cy="104.4" r="2.3"/><circle cx="245.8" cy="101.2" r="2.3"/><circle cx="262.8" cy="100.9" r="2.3"/><circle cx="279.7" cy="118.3" r="2.3"/><circle cx="330.6" cy="90.7" r="2.3"/><circle cx="347.6" cy="86.0" r="2.3"/><circle cx="364.6" cy="91.0" r="2.3"/><circle cx="381.6" cy="94.0" r="2.3"/></g><g fill="#E2A532"><circle cx="110.0" cy="138.6" r="2.3"/><circle cx="127.0" cy="134.9" r="2.3"/><circle cx="144.0" cy="135.9" r="2.3"/><circle cx="160.9" cy="132.2" r="2.3"/><circle cx="177.9" cy="134.4" r="2.3"/><circle cx="194.9" cy="128.2" r="2.3"/><circle cx="228.8" cy="128.5" r="2.3"/></g><g fill="#E9C13E"><circle cx="127.0" cy="120.9" r="2.3"/><circle cx="160.9" cy="120.3" r="2.3"/><circle cx="177.9" cy="112.3" r="2.3"/><circle cx="194.9" cy="106.6" r="2.3"/><circle cx="211.9" cy="99.9" r="2.3"/><circle cx="228.8" cy="117.9" r="2.3"/></g><g fill="#E9C13E"><circle cx="110.0" cy="133.5" r="2.3"/><circle cx="127.0" cy="132.8" r="2.3"/><circle cx="160.9" cy="133.4" r="2.3"/><circle cx="211.9" cy="134.3" r="2.3"/><circle cx="228.8" cy="133.8" r="2.3"/><circle cx="296.7" cy="129.4" r="2.3"/></g><g fill="#D0532C"><circle cx="110.0" cy="132.8" r="2.3"/><circle cx="127.0" cy="129.5" r="2.3"/><circle cx="144.0" cy="122.0" r="2.3"/><circle cx="160.9" cy="121.2" r="2.3"/><circle cx="177.9" cy="126.4" r="2.3"/><circle cx="194.9" cy="121.1" r="2.3"/></g><g fill="#E9C13E"><circle cx="93.1" cy="146.4" r="2.3"/><circle cx="127.0" cy="127.6" r="2.3"/><circle cx="144.0" cy="117.9" r="2.3"/><circle cx="160.9" cy="127.2" r="2.3"/><circle cx="177.9" cy="115.7" r="2.3"/><circle cx="194.9" cy="118.0" r="2.3"/><circle cx="228.8" cy="125.2" r="2.3"/><circle cx="245.8" cy="105.5" r="2.3"/><circle cx="262.8" cy="123.4" r="2.3"/><circle cx="296.7" cy="114.1" r="2.3"/></g><g fill="#E9C13E"><circle cx="110.0" cy="132.2" r="2.3"/><circle cx="127.0" cy="128.0" r="2.3"/><circle cx="144.0" cy="131.9" r="2.3"/><circle cx="160.9" cy="130.4" r="2.3"/><circle cx="177.9" cy="126.8" r="2.3"/><circle cx="194.9" cy="126.9" r="2.3"/><circle cx="211.9" cy="124.0" r="2.3"/><circle cx="228.8" cy="118.3" r="2.3"/><circle cx="245.8" cy="117.5" r="2.3"/><circle cx="262.8" cy="126.0" r="2.3"/><circle cx="279.7" cy="132.3" r="2.3"/><circle cx="296.7" cy="132.8" r="2.3"/><circle cx="330.6" cy="123.4" r="2.3"/><circle cx="347.6" cy="121.6" r="2.3"/><circle cx="364.6" cy="115.6" r="2.3"/></g><g fill="#E2A532"><circle cx="110.0" cy="119.7" r="2.3"/><circle cx="127.0" cy="125.3" r="2.3"/><circle cx="144.0" cy="122.0" r="2.3"/><circle cx="160.9" cy="123.3" r="2.3"/><circle cx="228.8" cy="119.1" r="2.3"/><circle cx="262.8" cy="99.6" r="2.3"/></g><g fill="#E9C13E"><circle cx="110.0" cy="137.2" r="2.3"/><circle cx="127.0" cy="134.2" r="2.3"/><circle cx="160.9" cy="133.6" r="2.3"/><circle cx="177.9" cy="127.0" r="2.3"/><circle cx="194.9" cy="127.2" r="2.3"/><circle cx="228.8" cy="132.9" r="2.3"/></g><g fill="#DC7C2C"><circle cx="93.1" cy="145.9" r="2.3"/><circle cx="110.0" cy="138.2" r="2.3"/><circle cx="127.0" cy="140.6" r="2.3"/><circle cx="144.0" cy="136.0" r="2.3"/><circle cx="160.9" cy="139.5" r="2.3"/><circle cx="194.9" cy="131.6" r="2.3"/><circle cx="262.8" cy="137.9" r="2.3"/><circle cx="296.7" cy="136.1" r="2.3"/><circle cx="313.7" cy="134.3" r="2.3"/></g><g fill="#C22A2D"><circle cx="110.0" cy="129.9" r="2.3"/><circle cx="144.0" cy="133.9" r="2.3"/><circle cx="160.9" cy="129.5" r="2.3"/><circle cx="177.9" cy="125.3" r="2.3"/><circle cx="194.9" cy="126.2" r="2.3"/><circle cx="211.9" cy="120.0" r="2.3"/><circle cx="228.8" cy="120.4" r="2.3"/><circle cx="262.8" cy="129.2" r="2.3"/><circle cx="296.7" cy="119.4" r="2.3"/><circle cx="313.7" cy="122.5" r="2.3"/><circle cx="347.6" cy="118.0" r="2.3"/><circle cx="364.6" cy="103.2" r="2.3"/><circle cx="381.6" cy="110.5" r="2.3"/></g><g fill="#E2A532"><circle cx="110.0" cy="134.5" r="2.3"/><circle cx="127.0" cy="132.8" r="2.3"/><circle cx="144.0" cy="131.8" r="2.3"/><circle cx="160.9" cy="126.0" r="2.3"/><circle cx="211.9" cy="134.1" r="2.3"/><circle cx="228.8" cy="129.2" r="2.3"/><circle cx="245.8" cy="130.3" r="2.3"/><circle cx="279.7" cy="128.8" r="2.3"/><circle cx="296.7" cy="116.2" r="2.3"/><circle cx="313.7" cy="127.7" r="2.3"/><circle cx="330.6" cy="121.6" r="2.3"/><circle cx="347.6" cy="109.1" r="2.3"/><circle cx="364.6" cy="109.3" r="2.3"/><circle cx="381.6" cy="118.2" r="2.3"/></g><g fill="#8A9C4A"><circle cx="110.0" cy="134.1" r="2.3"/><circle cx="127.0" cy="129.2" r="2.3"/><circle cx="160.9" cy="124.1" r="2.3"/><circle cx="194.9" cy="118.3" r="2.3"/><circle cx="228.8" cy="120.0" r="2.3"/><circle cx="245.8" cy="129.3" r="2.3"/></g><g fill="#DC7C2C"><circle cx="110.0" cy="136.4" r="2.3"/><circle cx="127.0" cy="132.0" r="2.3"/><circle cx="144.0" cy="131.2" r="2.3"/><circle cx="160.9" cy="133.7" r="2.3"/><circle cx="177.9" cy="128.9" r="2.3"/><circle cx="228.8" cy="127.2" r="2.3"/></g><g fill="#E2A532"><circle cx="110.0" cy="131.4" r="2.3"/><circle cx="127.0" cy="134.6" r="2.3"/><circle cx="160.9" cy="130.9" r="2.3"/><circle cx="177.9" cy="125.4" r="2.3"/><circle cx="194.9" cy="127.4" r="2.3"/><circle cx="228.8" cy="129.9" r="2.3"/><circle cx="262.8" cy="121.1" r="2.3"/><circle cx="279.7" cy="119.8" r="2.3"/><circle cx="296.7" cy="125.5" r="2.3"/><circle cx="313.7" cy="119.8" r="2.3"/><circle cx="330.6" cy="117.0" r="2.3"/></g><g fill="#E9C13E"><circle cx="127.0" cy="135.3" r="2.3"/><circle cx="160.9" cy="127.0" r="2.3"/><circle cx="177.9" cy="130.2" r="2.3"/><circle cx="194.9" cy="122.8" r="2.3"/><circle cx="211.9" cy="129.3" r="2.3"/><circle cx="245.8" cy="125.8" r="2.3"/><circle cx="262.8" cy="130.7" r="2.3"/><circle cx="279.7" cy="129.9" r="2.3"/></g><g fill="#E9C13E"><circle cx="110.0" cy="135.4" r="2.3"/><circle cx="127.0" cy="134.0" r="2.3"/><circle cx="177.9" cy="127.3" r="2.3"/><circle cx="194.9" cy="128.1" r="2.3"/><circle cx="211.9" cy="129.9" r="2.3"/><circle cx="228.8" cy="130.9" r="2.3"/><circle cx="245.8" cy="131.7" r="2.3"/><circle cx="279.7" cy="130.2" r="2.3"/><circle cx="296.7" cy="120.3" r="2.3"/></g><g fill="#E2A532"><circle cx="110.0" cy="128.7" r="2.3"/><circle cx="127.0" cy="126.5" r="2.3"/><circle cx="144.0" cy="125.3" r="2.3"/><circle cx="160.9" cy="116.6" r="2.3"/><circle cx="177.9" cy="123.5" r="2.3"/><circle cx="194.9" cy="108.7" r="2.3"/><circle cx="211.9" cy="114.5" r="2.3"/><circle cx="228.8" cy="119.2" r="2.3"/><circle cx="245.8" cy="110.5" r="2.3"/><circle cx="262.8" cy="107.5" r="2.3"/><circle cx="279.7" cy="122.1" r="2.3"/><circle cx="296.7" cy="101.3" r="2.3"/><circle cx="313.7" cy="108.1" r="2.3"/><circle cx="330.6" cy="95.8" r="2.3"/></g><g fill="#8A9C4A"><circle cx="110.0" cy="129.1" r="2.3"/><circle cx="127.0" cy="123.8" r="2.3"/><circle cx="144.0" cy="123.3" r="2.3"/><circle cx="160.9" cy="115.9" r="2.3"/><circle cx="177.9" cy="121.5" r="2.3"/><circle cx="211.9" cy="105.0" r="2.3"/><circle cx="228.8" cy="120.1" r="2.3"/><circle cx="296.7" cy="94.9" r="2.3"/></g><g fill="#E9C13E"><circle cx="110.0" cy="136.6" r="2.3"/><circle cx="127.0" cy="131.0" r="2.3"/><circle cx="144.0" cy="135.0" r="2.3"/><circle cx="177.9" cy="131.0" r="2.3"/><circle cx="194.9" cy="131.2" r="2.3"/><circle cx="228.8" cy="121.2" r="2.3"/><circle cx="245.8" cy="129.5" r="2.3"/><circle cx="262.8" cy="135.7" r="2.3"/><circle cx="279.7" cy="133.5" r="2.3"/><circle cx="296.7" cy="119.8" r="2.3"/><circle cx="330.6" cy="116.8" r="2.3"/><circle cx="347.6" cy="120.9" r="2.3"/><circle cx="364.6" cy="119.4" r="2.3"/><circle cx="381.6" cy="118.7" r="2.3"/></g><g fill="#DC7C2C"><circle cx="110.0" cy="133.4" r="2.3"/><circle cx="160.9" cy="130.2" r="2.3"/><circle cx="177.9" cy="129.5" r="2.3"/><circle cx="194.9" cy="126.2" r="2.3"/><circle cx="211.9" cy="120.7" r="2.3"/><circle cx="228.8" cy="130.1" r="2.3"/><circle cx="279.7" cy="126.1" r="2.3"/><circle cx="313.7" cy="132.2" r="2.3"/><circle cx="347.6" cy="125.6" r="2.3"/><circle cx="364.6" cy="118.1" r="2.3"/></g><g fill="#E2A532"><circle cx="110.0" cy="114.5" r="2.3"/><circle cx="144.0" cy="115.1" r="2.3"/><circle cx="160.9" cy="115.4" r="2.3"/><circle cx="177.9" cy="106.9" r="2.3"/><circle cx="194.9" cy="121.3" r="2.3"/><circle cx="211.9" cy="104.5" r="2.3"/><circle cx="228.8" cy="107.6" r="2.3"/><circle cx="245.8" cy="92.7" r="2.3"/><circle cx="262.8" cy="92.8" r="2.3"/><circle cx="279.7" cy="94.1" r="2.3"/><circle cx="296.7" cy="106.4" r="2.3"/><circle cx="313.7" cy="90.9" r="2.3"/><circle cx="330.6" cy="88.6" r="2.3"/><circle cx="364.6" cy="94.7" r="2.3"/><circle cx="381.6" cy="87.3" r="2.3"/></g><g fill="#C22A2D"><circle cx="110.0" cy="138.6" r="2.3"/><circle cx="127.0" cy="138.4" r="2.3"/><circle cx="144.0" cy="135.4" r="2.3"/><circle cx="160.9" cy="133.8" r="2.3"/><circle cx="177.9" cy="133.1" r="2.3"/><circle cx="194.9" cy="135.4" r="2.3"/><circle cx="228.8" cy="141.9" r="2.3"/><circle cx="245.8" cy="133.3" r="2.3"/><circle cx="262.8" cy="131.0" r="2.3"/><circle cx="330.6" cy="136.2" r="2.3"/><circle cx="364.6" cy="128.3" r="2.3"/><circle cx="381.6" cy="133.3" r="2.3"/></g><g fill="#C22A2D"><circle cx="110.0" cy="128.9" r="2.3"/><circle cx="127.0" cy="128.2" r="2.3"/><circle cx="160.9" cy="135.8" r="2.3"/></g><g fill="#E2A532"><circle cx="110.0" cy="125.3" r="2.3"/><circle cx="144.0" cy="124.6" r="2.3"/><circle cx="160.9" cy="122.2" r="2.3"/><circle cx="177.9" cy="123.8" r="2.3"/><circle cx="211.9" cy="124.4" r="2.3"/></g><g fill="#E9C13E"><circle cx="110.0" cy="137.4" r="2.3"/><circle cx="127.0" cy="139.3" r="2.3"/><circle cx="144.0" cy="137.6" r="2.3"/><circle cx="160.9" cy="138.4" r="2.3"/></g><g fill="#E2A532"><circle cx="110.0" cy="138.2" r="2.3"/><circle cx="160.9" cy="141.4" r="2.3"/><circle cx="177.9" cy="135.6" r="2.3"/><circle cx="194.9" cy="135.0" r="2.3"/><circle cx="211.9" cy="137.7" r="2.3"/><circle cx="228.8" cy="136.3" r="2.3"/><circle cx="245.8" cy="136.8" r="2.3"/><circle cx="262.8" cy="140.4" r="2.3"/><circle cx="279.7" cy="137.5" r="2.3"/><circle cx="296.7" cy="133.8" r="2.3"/><circle cx="330.6" cy="135.3" r="2.3"/><circle cx="347.6" cy="130.8" r="2.3"/></g><g fill="#C22A2D"><circle cx="93.1" cy="147.3" r="2.3"/><circle cx="127.0" cy="126.1" r="2.3"/><circle cx="144.0" cy="129.7" r="2.3"/><circle cx="194.9" cy="111.7" r="2.3"/><circle cx="211.9" cy="119.8" r="2.3"/><circle cx="228.8" cy="107.1" r="2.3"/><circle cx="262.8" cy="126.1" r="2.3"/><circle cx="296.7" cy="123.2" r="2.3"/><circle cx="313.7" cy="131.9" r="2.3"/><circle cx="330.6" cy="121.5" r="2.3"/><circle cx="364.6" cy="122.4" r="2.3"/><circle cx="381.6" cy="116.2" r="2.3"/></g><g fill="#D0532C"><circle cx="127.0" cy="118.5" r="2.3"/><circle cx="144.0" cy="119.2" r="2.3"/><circle cx="160.9" cy="118.4" r="2.3"/><circle cx="177.9" cy="102.3" r="2.3"/><circle cx="194.9" cy="108.9" r="2.3"/><circle cx="211.9" cy="117.3" r="2.3"/><circle cx="228.8" cy="95.9" r="2.3"/><circle cx="245.8" cy="111.0" r="2.3"/><circle cx="262.8" cy="113.1" r="2.3"/></g><g fill="#DC7C2C"><circle cx="110.0" cy="133.6" r="2.3"/><circle cx="127.0" cy="127.3" r="2.3"/><circle cx="144.0" cy="136.0" r="2.3"/><circle cx="160.9" cy="126.3" r="2.3"/><circle cx="177.9" cy="130.9" r="2.3"/><circle cx="194.9" cy="126.8" r="2.3"/><circle cx="211.9" cy="129.3" r="2.3"/><circle cx="228.8" cy="124.7" r="2.3"/><circle cx="245.8" cy="127.0" r="2.3"/><circle cx="262.8" cy="127.7" r="2.3"/><circle cx="279.7" cy="126.4" r="2.3"/><circle cx="296.7" cy="115.3" r="2.3"/></g><g fill="#DC7C2C"><circle cx="110.0" cy="125.8" r="2.3"/><circle cx="127.0" cy="125.9" r="2.3"/><circle cx="144.0" cy="130.4" r="2.3"/><circle cx="177.9" cy="129.1" r="2.3"/><circle cx="194.9" cy="119.6" r="2.3"/><circle cx="228.8" cy="126.7" r="2.3"/><circle cx="245.8" cy="107.8" r="2.3"/><circle cx="262.8" cy="114.4" r="2.3"/><circle cx="296.7" cy="99.0" r="2.3"/><circle cx="313.7" cy="110.5" r="2.3"/><circle cx="330.6" cy="97.7" r="2.3"/><circle cx="347.6" cy="94.5" r="2.3"/></g><g fill="#E9C13E"><circle cx="110.0" cy="134.6" r="2.3"/><circle cx="127.0" cy="138.3" r="2.3"/><circle cx="144.0" cy="134.2" r="2.3"/><circle cx="160.9" cy="138.5" r="2.3"/><circle cx="177.9" cy="130.9" r="2.3"/></g><g fill="#E2A532"><circle cx="110.0" cy="128.9" r="2.3"/><circle cx="127.0" cy="131.5" r="2.3"/><circle cx="194.9" cy="119.9" r="2.3"/><circle cx="228.8" cy="131.1" r="2.3"/><circle cx="262.8" cy="127.2" r="2.3"/></g><g fill="#E9C13E"><circle cx="127.0" cy="130.1" r="2.3"/><circle cx="144.0" cy="126.7" r="2.3"/><circle cx="160.9" cy="130.6" r="2.3"/><circle cx="177.9" cy="123.5" r="2.3"/><circle cx="194.9" cy="127.2" r="2.3"/><circle cx="211.9" cy="125.0" r="2.3"/><circle cx="245.8" cy="129.0" r="2.3"/><circle cx="262.8" cy="123.9" r="2.3"/><circle cx="296.7" cy="128.3" r="2.3"/><circle cx="313.7" cy="120.9" r="2.3"/><circle cx="330.6" cy="117.7" r="2.3"/></g><g fill="#E9C13E"><circle cx="110.0" cy="138.1" r="2.3"/><circle cx="127.0" cy="139.9" r="2.3"/><circle cx="144.0" cy="135.1" r="2.3"/><circle cx="160.9" cy="137.1" r="2.3"/><circle cx="194.9" cy="133.4" r="2.3"/><circle cx="228.8" cy="137.2" r="2.3"/><circle cx="245.8" cy="137.2" r="2.3"/><circle cx="262.8" cy="137.2" r="2.3"/><circle cx="296.7" cy="132.3" r="2.3"/><circle cx="313.7" cy="137.4" r="2.3"/></g><g fill="#E9C13E"><circle cx="110.0" cy="127.6" r="2.3"/><circle cx="127.0" cy="133.0" r="2.3"/><circle cx="144.0" cy="128.0" r="2.3"/><circle cx="194.9" cy="121.1" r="2.3"/><circle cx="228.8" cy="125.2" r="2.3"/><circle cx="262.8" cy="130.1" r="2.3"/><circle cx="279.7" cy="127.7" r="2.3"/><circle cx="296.7" cy="112.9" r="2.3"/></g><g fill="#E2A532"><circle cx="110.0" cy="133.0" r="2.3"/><circle cx="127.0" cy="134.5" r="2.3"/><circle cx="160.9" cy="136.0" r="2.3"/><circle cx="228.8" cy="132.1" r="2.3"/><circle cx="245.8" cy="115.9" r="2.3"/><circle cx="262.8" cy="115.3" r="2.3"/><circle cx="279.7" cy="125.9" r="2.3"/></g><g fill="#E9C13E"><circle cx="110.0" cy="123.9" r="2.3"/><circle cx="127.0" cy="124.4" r="2.3"/><circle cx="144.0" cy="122.6" r="2.3"/><circle cx="177.9" cy="125.9" r="2.3"/><circle cx="194.9" cy="111.0" r="2.3"/><circle cx="211.9" cy="121.3" r="2.3"/><circle cx="228.8" cy="99.5" r="2.3"/><circle cx="262.8" cy="118.8" r="2.3"/><circle cx="296.7" cy="127.0" r="2.3"/></g><g fill="#DC7C2C"><circle cx="110.0" cy="139.0" r="2.3"/><circle cx="127.0" cy="139.3" r="2.3"/><circle cx="144.0" cy="138.7" r="2.3"/><circle cx="160.9" cy="138.8" r="2.3"/><circle cx="177.9" cy="137.2" r="2.3"/><circle cx="194.9" cy="140.6" r="2.3"/><circle cx="245.8" cy="134.9" r="2.3"/><circle cx="262.8" cy="136.1" r="2.3"/><circle cx="279.7" cy="135.5" r="2.3"/><circle cx="296.7" cy="138.4" r="2.3"/></g><g fill="#E9C13E"><circle cx="110.0" cy="124.0" r="2.3"/><circle cx="127.0" cy="127.6" r="2.3"/><circle cx="144.0" cy="124.4" r="2.3"/><circle cx="160.9" cy="127.3" r="2.3"/><circle cx="194.9" cy="113.5" r="2.3"/><circle cx="211.9" cy="125.1" r="2.3"/><circle cx="228.8" cy="121.2" r="2.3"/><circle cx="262.8" cy="117.7" r="2.3"/><circle cx="313.7" cy="99.5" r="2.3"/><circle cx="330.6" cy="107.8" r="2.3"/></g><g fill="#E9C13E"><circle cx="110.0" cy="138.3" r="2.3"/><circle cx="127.0" cy="138.0" r="2.3"/><circle cx="144.0" cy="129.7" r="2.3"/><circle cx="160.9" cy="140.5" r="2.3"/><circle cx="177.9" cy="137.4" r="2.3"/><circle cx="194.9" cy="135.7" r="2.3"/><circle cx="211.9" cy="136.2" r="2.3"/><circle cx="228.8" cy="139.2" r="2.3"/><circle cx="245.8" cy="138.9" r="2.3"/><circle cx="262.8" cy="138.3" r="2.3"/><circle cx="279.7" cy="137.7" r="2.3"/></g><g fill="#E9C13E"><circle cx="127.0" cy="127.6" r="2.3"/><circle cx="160.9" cy="120.1" r="2.3"/><circle cx="194.9" cy="109.9" r="2.3"/><circle cx="211.9" cy="110.0" r="2.3"/><circle cx="228.8" cy="107.6" r="2.3"/><circle cx="313.7" cy="107.2" r="2.3"/></g><g fill="#E2A532"><circle cx="93.1" cy="146.7" r="2.3"/><circle cx="110.0" cy="134.7" r="2.3"/><circle cx="127.0" cy="135.5" r="2.3"/><circle cx="144.0" cy="138.2" r="2.3"/><circle cx="160.9" cy="136.4" r="2.3"/><circle cx="194.9" cy="137.1" r="2.3"/></g><g fill="#E2A532"><circle cx="110.0" cy="126.6" r="2.3"/><circle cx="127.0" cy="129.3" r="2.3"/><circle cx="144.0" cy="120.2" r="2.3"/><circle cx="160.9" cy="126.9" r="2.3"/><circle cx="211.9" cy="116.9" r="2.3"/><circle cx="228.8" cy="115.9" r="2.3"/><circle cx="245.8" cy="124.7" r="2.3"/><circle cx="279.7" cy="116.2" r="2.3"/><circle cx="296.7" cy="124.6" r="2.3"/><circle cx="313.7" cy="123.1" r="2.3"/><circle cx="330.6" cy="128.0" r="2.3"/><circle cx="364.6" cy="109.6" r="2.3"/></g><g fill="#E2A532"><circle cx="110.0" cy="129.6" r="2.3"/><circle cx="144.0" cy="131.6" r="2.3"/><circle cx="160.9" cy="121.2" r="2.3"/><circle cx="177.9" cy="120.8" r="2.3"/><circle cx="194.9" cy="120.9" r="2.3"/><circle cx="228.8" cy="131.9" r="2.3"/><circle cx="245.8" cy="112.1" r="2.3"/><circle cx="262.8" cy="127.8" r="2.3"/></g><g fill="#E2A532"><circle cx="110.0" cy="137.2" r="2.3"/><circle cx="127.0" cy="137.6" r="2.3"/><circle cx="144.0" cy="137.2" r="2.3"/><circle cx="160.9" cy="130.8" r="2.3"/><circle cx="194.9" cy="131.9" r="2.3"/><circle cx="211.9" cy="124.3" r="2.3"/><circle cx="228.8" cy="136.8" r="2.3"/><circle cx="245.8" cy="136.5" r="2.3"/><circle cx="262.8" cy="130.6" r="2.3"/><circle cx="296.7" cy="133.9" r="2.3"/></g><g fill="#2F3B82"><circle cx="127.0" cy="130.8" r="2.3"/><circle cx="144.0" cy="119.2" r="2.3"/><circle cx="177.9" cy="126.5" r="2.3"/><circle cx="228.8" cy="84.8" r="2.3"/><circle cx="245.8" cy="76.2" r="2.3"/><circle cx="262.8" cy="62.4" r="2.3"/><circle cx="279.7" cy="106.6" r="2.3"/><circle cx="296.7" cy="105.6" r="2.3"/><circle cx="364.6" cy="121.6" r="2.3"/><circle cx="381.6" cy="123.6" r="2.3"/><circle cx="415.5" cy="126.6" r="2.3"/><circle cx="432.5" cy="121.8" r="2.3"/><circle cx="466.4" cy="134.0" r="2.3"/></g><g fill="#C22A2D"><circle cx="144.0" cy="118.6" r="2.3"/><circle cx="177.9" cy="125.1" r="2.3"/><circle cx="211.9" cy="126.0" r="2.3"/><circle cx="228.8" cy="57.6" r="2.3"/><circle cx="262.8" cy="62.4" r="2.3"/><circle cx="296.7" cy="60.8" r="2.3"/><circle cx="330.6" cy="52.0" r="2.3"/><circle cx="364.6" cy="70.2" r="2.3"/><circle cx="381.6" cy="49.6" r="2.3"/></g><g fill="#4A5BA8"><circle cx="110.0" cy="129.7" r="2.3"/><circle cx="144.0" cy="126.2" r="2.3"/><circle cx="228.8" cy="121.9" r="2.3"/><circle cx="262.8" cy="122.6" r="2.3"/><circle cx="364.6" cy="107.6" r="2.3"/><circle cx="449.4" cy="90.0" r="2.3"/></g><g fill="#4A5BA8"><circle cx="110.0" cy="134.1" r="2.3"/><circle cx="127.0" cy="130.2" r="2.3"/><circle cx="177.9" cy="128.8" r="2.3"/><circle cx="245.8" cy="123.2" r="2.3"/><circle cx="364.6" cy="102.0" r="2.3"/><circle cx="381.6" cy="111.6" r="2.3"/><circle cx="415.5" cy="105.8" r="2.3"/><circle cx="432.5" cy="104.6" r="2.3"/><circle cx="449.4" cy="103.4" r="2.3"/><circle cx="466.4" cy="94.2" r="2.3"/><circle cx="483.4" cy="89.4" r="2.3"/><circle cx="500.4" cy="91.4" r="2.3"/></g><g fill="#E9C13E"><circle cx="160.9" cy="99.6" r="2.3"/><circle cx="194.9" cy="103.6" r="2.3"/><circle cx="228.8" cy="107.6" r="2.3"/><circle cx="381.6" cy="113.6" r="2.3"/><circle cx="415.5" cy="109.4" r="2.3"/><circle cx="432.5" cy="109.4" r="2.3"/></g><g fill="#C22A2D"><circle cx="160.9" cy="127.7" r="2.3"/><circle cx="330.6" cy="99.6" r="2.3"/><circle cx="364.6" cy="69.6" r="2.3"/><circle cx="381.6" cy="99.6" r="2.3"/><circle cx="398.5" cy="105.0" r="2.3"/><circle cx="432.5" cy="102.6" r="2.3"/><circle cx="449.4" cy="106.8" r="2.3"/></g><g fill="#E9C13E"><circle cx="110.0" cy="125.6" r="2.3"/><circle cx="160.9" cy="123.1" r="2.3"/><circle cx="194.9" cy="99.6" r="2.3"/><circle cx="228.8" cy="89.6" r="2.3"/><circle cx="245.8" cy="72.0" r="2.3"/><circle cx="262.8" cy="93.6" r="2.3"/></g><g fill="#C22A2D"><circle cx="160.9" cy="119.0" r="2.3"/><circle cx="177.9" cy="111.3" r="2.3"/><circle cx="194.9" cy="105.6" r="2.3"/><circle cx="228.8" cy="79.2" r="2.3"/><circle cx="245.8" cy="94.0" r="2.3"/><circle cx="262.8" cy="86.6" r="2.3"/><circle cx="279.7" cy="97.6" r="2.3"/></g><g fill="#C22A2D"><circle cx="127.0" cy="133.9" r="2.3"/><circle cx="144.0" cy="124.2" r="2.3"/><circle cx="228.8" cy="125.2" r="2.3"/><circle cx="279.7" cy="124.1" r="2.3"/><circle cx="296.7" cy="118.7" r="2.3"/><circle cx="364.6" cy="117.6" r="2.3"/><circle cx="381.6" cy="121.6" r="2.3"/><circle cx="398.5" cy="121.8" r="2.3"/><circle cx="415.5" cy="130.8" r="2.3"/><circle cx="432.5" cy="126.6" r="2.3"/><circle cx="449.4" cy="124.2" r="2.3"/><circle cx="483.4" cy="128.4" r="2.3"/><circle cx="500.4" cy="124.8" r="2.3"/></g><g fill="#C22A2D"><circle cx="127.0" cy="121.4" r="2.3"/><circle cx="262.8" cy="117.0" r="2.3"/><circle cx="381.6" cy="129.6" r="2.3"/><circle cx="398.5" cy="125.4" r="2.3"/><circle cx="432.5" cy="134.4" r="2.3"/><circle cx="449.4" cy="127.6" r="2.3"/></g><g fill="#8A9C4A"><circle cx="194.9" cy="125.9" r="2.3"/><circle cx="262.8" cy="109.0" r="2.3"/><circle cx="330.6" cy="105.6" r="2.3"/><circle cx="364.6" cy="80.6" r="2.3"/><circle cx="398.5" cy="49.2" r="2.3"/></g><g fill="#C22A2D"><circle cx="127.0" cy="131.8" r="2.3"/><circle cx="160.9" cy="133.1" r="2.3"/><circle cx="296.7" cy="113.3" r="2.3"/><circle cx="330.6" cy="123.8" r="2.3"/><circle cx="364.6" cy="105.6" r="2.3"/><circle cx="381.6" cy="83.0" r="2.3"/><circle cx="398.5" cy="117.6" r="2.3"/></g><g fill="#E2A532"><circle cx="160.9" cy="67.8" r="2.3"/><circle cx="194.9" cy="99.6" r="2.3"/><circle cx="228.8" cy="105.6" r="2.3"/></g><g fill="#C22A2D"><circle cx="110.0" cy="131.1" r="2.3"/><circle cx="127.0" cy="104.8" r="2.3"/><circle cx="160.9" cy="91.0" r="2.3"/><circle cx="211.9" cy="99.6" r="2.3"/><circle cx="228.8" cy="87.6" r="2.3"/></g><g fill="#6B4C94"><circle cx="177.9" cy="126.2" r="2.3"/><circle cx="245.8" cy="101.6" r="2.3"/><circle cx="262.8" cy="111.6" r="2.3"/><circle cx="279.7" cy="117.6" r="2.3"/><circle cx="296.7" cy="113.6" r="2.3"/></g><g fill="#8A9C4A"><circle cx="110.0" cy="137.6" r="2.3"/><circle cx="127.0" cy="144.8" r="2.3"/><circle cx="160.9" cy="141.6" r="2.3"/><circle cx="194.9" cy="139.6" r="2.3"/><circle cx="228.8" cy="138.6" r="2.3"/><circle cx="245.8" cy="135.6" r="2.3"/></g><g fill="#E9C13E"><circle cx="93.1" cy="149.0" r="2.3"/><circle cx="110.0" cy="139.6" r="2.3"/><circle cx="144.0" cy="142.6" r="2.3"/><circle cx="177.9" cy="145.6" r="2.3"/><circle cx="194.9" cy="143.6" r="2.3"/><circle cx="228.8" cy="145.6" r="2.3"/><circle cx="262.8" cy="141.6" r="2.3"/></g><g fill="#E2A532"><circle cx="93.1" cy="140.4" r="2.3"/><circle cx="127.0" cy="137.6" r="2.3"/><circle cx="160.9" cy="143.6" r="2.3"/><circle cx="211.9" cy="145.2" r="2.3"/><circle cx="245.8" cy="144.0" r="2.3"/><circle cx="279.7" cy="141.6" r="2.3"/></g><g fill="#8A9C4A"><circle cx="127.0" cy="135.6" r="2.3"/><circle cx="144.0" cy="140.6" r="2.3"/><circle cx="160.9" cy="144.8" r="2.3"/><circle cx="228.8" cy="140.6" r="2.3"/><circle cx="296.7" cy="137.6" r="2.3"/></g></g>
<polyline points="76.1,129.6 93.1,146.4 110.0,132.4 127.0,131.6 144.0,130.0 160.9,130.0 177.9,129.0 194.9,125.4 211.9,125.4 228.8,126.0 245.8,123.8 262.8,124.4 279.7,124.4 296.7,122.2 313.7,123.8 330.6,120.2 347.6,119.2 364.6,117.0 381.6,112.6 398.5,110.2 415.5,114.8 432.5,116.4 449.4,112.6 466.4,124.8 483.4,120.0 500.4,120.0" fill="none" stroke="#000" stroke-width="2.8" stroke-linejoin="round"/>
<g fill="#000"><circle cx="76.1" cy="129.6" r="2.6"/><circle cx="93.1" cy="146.4" r="2.6"/><circle cx="110.0" cy="132.4" r="2.6"/><circle cx="127.0" cy="131.6" r="2.6"/><circle cx="144.0" cy="130.0" r="2.6"/><circle cx="160.9" cy="130.0" r="2.6"/><circle cx="177.9" cy="129.0" r="2.6"/><circle cx="194.9" cy="125.4" r="2.6"/><circle cx="211.9" cy="125.4" r="2.6"/><circle cx="228.8" cy="126.0" r="2.6"/><circle cx="245.8" cy="123.8" r="2.6"/><circle cx="262.8" cy="124.4" r="2.6"/><circle cx="279.7" cy="124.4" r="2.6"/><circle cx="296.7" cy="122.2" r="2.6"/><circle cx="313.7" cy="123.8" r="2.6"/><circle cx="330.6" cy="120.2" r="2.6"/><circle cx="347.6" cy="119.2" r="2.6"/><circle cx="364.6" cy="117.0" r="2.6"/><circle cx="381.6" cy="112.6" r="2.6"/><circle cx="398.5" cy="110.2" r="2.6"/><circle cx="415.5" cy="114.8" r="2.6"/><circle cx="432.5" cy="116.4" r="2.6"/><circle cx="449.4" cy="112.6" r="2.6"/><circle cx="466.4" cy="124.8" r="2.6"/><circle cx="483.4" cy="120.0" r="2.6"/><circle cx="500.4" cy="120.0" r="2.6"/></g>
<g fill="none" stroke-width="1.2" stroke-opacity="0.58" stroke-linejoin="round"><polyline points="76.1,251.2 110.0,256.7 127.0,262.6 144.0,256.4 160.9,256.7 177.9,250.5 228.8,242.0 262.8,254.2 279.7,252.4 296.7,251.1 313.7,249.5 330.6,246.3 347.6,243.5 364.6,240.0 381.6,248.4" stroke="#C22A2D"/><polyline points="76.1,251.2 127.0,257.8 144.0,252.7 160.9,253.4 177.9,259.8 194.9,257.6 211.9,257.7 228.8,258.6 245.8,260.0 262.8,259.0 279.7,254.8 296.7,262.8 330.6,258.8 364.6,248.7 381.6,234.3" stroke="#A0242F"/><polyline points="76.1,251.2 110.0,261.4 127.0,259.6 177.9,256.6 194.9,259.8 211.9,257.5 228.8,260.0 262.8,257.6 279.7,251.0 313.7,259.2 347.6,253.5 364.6,253.5 381.6,253.1 398.5,249.4" stroke="#C22A2D"/><polyline points="76.1,251.2 110.0,257.9 127.0,256.2 144.0,248.8 160.9,251.1 194.9,255.2 228.8,254.0 245.8,258.6 296.7,251.1 330.6,251.2 364.6,253.4" stroke="#C22A2D"/><polyline points="76.1,251.2 110.0,248.8 127.0,252.7 144.0,240.2 160.9,250.1 177.9,238.2 194.9,239.9 228.8,250.3 245.8,242.9" stroke="#C22A2D"/><polyline points="76.1,251.2 110.0,261.8 127.0,261.9 144.0,258.0 160.9,262.0 228.8,262.8 245.8,260.7 262.8,254.5 279.7,254.1 296.7,261.1 313.7,258.2 330.6,254.7 347.6,260.6 364.6,260.4 381.6,256.1" stroke="#C22A2D"/><polyline points="76.1,251.2 110.0,261.0 127.0,261.2 144.0,261.6 160.9,256.6 245.8,257.6 262.8,256.0 296.7,258.9 347.6,250.6" stroke="#C22A2D"/><polyline points="76.1,251.2 110.0,249.5 160.9,261.0 211.9,254.6 228.8,250.4 262.8,249.4 279.7,237.5 296.7,231.7 313.7,243.5 330.6,234.1 347.6,249.0 364.6,249.5 381.6,223.4" stroke="#A0242F"/><polyline points="76.1,251.2 110.0,260.0 127.0,264.3 160.9,257.2 177.9,258.2 194.9,249.7 211.9,263.8 228.8,258.5 262.8,258.6 296.7,257.2 313.7,259.3 364.6,251.4 381.6,243.7" stroke="#C22A2D"/><polyline points="76.1,251.2 110.0,252.1 160.9,250.4 177.9,241.2 194.9,248.1 228.8,244.2 245.8,255.1 262.8,249.2 279.7,248.3 296.7,253.6 330.6,245.0" stroke="#C22A2D"/><polyline points="76.1,251.2 110.0,253.4 127.0,259.5 160.9,257.4 194.9,249.9 211.9,252.0 228.8,250.9 262.8,244.7 313.7,257.6 330.6,249.0 381.6,252.8" stroke="#D0532C"/><polyline points="76.1,251.2 144.0,255.7 160.9,249.5 177.9,249.8 194.9,250.1 211.9,245.6 262.8,239.6 279.7,241.1 296.7,222.2 313.7,254.7 330.6,231.5 347.6,249.3" stroke="#C22A2D"/><polyline points="76.1,251.2 110.0,233.8 127.0,250.7 160.9,235.7 177.9,241.2 194.9,241.3" stroke="#8A9C4A"/><polyline points="76.1,251.2 110.0,248.7 127.0,248.7 177.9,246.8 194.9,248.1 211.9,249.7 228.8,226.6 245.8,239.4 279.7,241.2 296.7,231.2 313.7,236.7 330.6,235.7 364.6,244.9" stroke="#DC7C2C"/><polyline points="76.1,251.2 127.0,259.8 144.0,262.6 160.9,261.1 211.9,256.0 228.8,262.0 245.8,257.9 262.8,259.8 296.7,258.0 313.7,261.1 330.6,254.0 347.6,253.6 364.6,258.0 381.6,252.7" stroke="#C22A2D"/><polyline points="76.1,251.2 110.0,249.7 144.0,255.3 160.9,251.3 177.9,250.0" stroke="#DC7C2C"/><polyline points="76.1,251.2 110.0,258.6 127.0,260.2 144.0,260.2 194.9,256.7 228.8,259.8 245.8,257.5 262.8,258.9 279.7,261.1 296.7,247.0 313.7,250.8 330.6,255.1" stroke="#DC7C2C"/><polyline points="76.1,251.2 110.0,251.7 127.0,243.5 160.9,239.1 194.9,247.7 211.9,231.5 228.8,246.1 245.8,236.8 262.8,238.2 330.6,219.9 364.6,221.7" stroke="#A0242F"/><polyline points="76.1,251.2 110.0,232.2 127.0,249.3 144.0,238.4 160.9,235.8 177.9,242.6 211.9,235.7 228.8,243.8 245.8,224.1 279.7,238.4 330.6,223.4 364.6,203.6" stroke="#DC7C2C"/><polyline points="76.1,251.2 110.0,260.8 127.0,264.2 144.0,259.7 160.9,255.7 177.9,258.0 194.9,262.4 211.9,255.5 228.8,258.1 245.8,256.9 262.8,262.5 279.7,259.9 296.7,258.1" stroke="#E2A532"/><polyline points="76.1,251.2 110.0,243.7 160.9,244.1 194.9,241.7 228.8,229.3 245.8,219.9 262.8,232.0 279.7,242.7 296.7,239.5 313.7,235.6 330.6,213.0 364.6,211.9 381.6,222.0" stroke="#C22A2D"/><polyline points="76.1,251.2 110.0,256.5 127.0,261.3 144.0,258.6 160.9,252.7 177.9,253.2 211.9,251.6 228.8,256.0" stroke="#D0532C"/><polyline points="76.1,251.2 110.0,244.3 127.0,234.8 160.9,244.1 177.9,231.7 194.9,232.2 211.9,220.5 228.8,228.7 245.8,230.5 262.8,234.8 279.7,234.5 296.7,217.2 330.6,211.1 381.6,205.9" stroke="#A0242F"/><polyline points="76.1,251.2 110.0,246.3 127.0,246.3 160.9,257.2 194.9,248.7 211.9,251.0 228.8,252.1 245.8,242.8 262.8,249.5 330.6,240.4 364.6,248.3 381.6,224.4" stroke="#C22A2D"/><polyline points="76.1,251.2 110.0,241.6 127.0,238.2 144.0,247.1 194.9,233.3 228.8,220.0 245.8,218.1" stroke="#A0242F"/><polyline points="76.1,251.2 110.0,244.9 127.0,247.2 144.0,247.4 160.9,243.3 194.9,233.1 211.9,233.7 228.8,230.8 245.8,219.1 262.8,225.3 279.7,217.9 330.6,214.9 347.6,205.3 364.6,228.8 381.6,212.2" stroke="#D0532C"/><polyline points="76.1,251.2 110.0,255.3 127.0,255.8 144.0,256.5 160.9,253.7 177.9,253.6 194.9,259.9 228.8,257.3" stroke="#E2A532"/><polyline points="76.1,251.2 127.0,243.2 160.9,246.4 177.9,239.7 194.9,246.4 211.9,236.9 228.8,244.6" stroke="#E9C13E"/><polyline points="76.1,251.2 110.0,258.7 127.0,251.8 160.9,253.8 211.9,257.4 228.8,259.3 296.7,250.8" stroke="#E9C13E"/><polyline points="76.1,251.2 110.0,243.7 127.0,251.9 144.0,241.1 160.9,244.6 177.9,243.2 194.9,238.8" stroke="#D0532C"/><polyline points="76.1,251.2 93.1,274.2 127.0,246.6 144.0,242.5 160.9,239.0 177.9,246.7 194.9,243.0 228.8,245.7 245.8,236.2 262.8,240.3 296.7,238.3" stroke="#E9C13E"/><polyline points="76.1,251.2 110.0,251.4 127.0,251.2 144.0,253.6 160.9,254.3 177.9,241.7 194.9,248.6 211.9,249.9 228.8,245.3 245.8,248.1 262.8,251.9 279.7,248.2 296.7,249.3 330.6,248.5 347.6,240.6 364.6,243.7" stroke="#E9C13E"/><polyline points="76.1,251.2 110.0,244.2 127.0,244.7 144.0,243.8 160.9,236.9 228.8,228.5 262.8,228.7" stroke="#E2A532"/><polyline points="76.1,251.2 110.0,259.4 127.0,252.6 160.9,257.9 177.9,248.5 194.9,253.2 228.8,256.3" stroke="#E9C13E"/><polyline points="76.1,251.2 93.1,271.5 110.0,263.7 127.0,255.0 144.0,255.2 160.9,260.5 194.9,263.8 262.8,254.1 296.7,255.7 313.7,253.3" stroke="#DC7C2C"/><polyline points="76.1,251.2 110.0,246.1 144.0,254.7 160.9,255.0 177.9,255.1 194.9,250.3 211.9,254.9 228.8,251.7 262.8,248.9 296.7,259.5 313.7,247.1 347.6,241.3 364.6,240.5 381.6,243.6" stroke="#C22A2D"/><polyline points="76.1,251.2 110.0,260.7 127.0,250.7 144.0,251.9 160.9,255.6 211.9,255.6 228.8,249.6 245.8,256.3 279.7,246.7 296.7,247.0 313.7,245.9 330.6,252.2 347.6,247.8 364.6,242.3 381.6,239.1" stroke="#E2A532"/><polyline points="76.1,251.2 110.0,253.3 127.0,253.0 160.9,246.2 194.9,254.6 228.8,239.5 245.8,252.6" stroke="#8A9C4A"/><polyline points="76.1,251.2 110.0,256.0 127.0,255.8 144.0,253.3 160.9,257.6 177.9,250.3 228.8,248.3" stroke="#DC7C2C"/><polyline points="76.1,251.2 110.0,249.8 127.0,253.8 160.9,242.3 177.9,250.6 194.9,254.1 228.8,248.3 262.8,247.0 279.7,245.7 296.7,242.5 313.7,238.5 330.6,230.9" stroke="#E2A532"/><polyline points="76.1,251.2 127.0,260.7 160.9,248.5 177.9,250.5 194.9,255.3 211.9,253.3 245.8,250.3 262.8,251.3 279.7,239.6" stroke="#E9C13E"/><polyline points="76.1,251.2 110.0,257.8 127.0,257.8 177.9,254.1 194.9,256.6 211.9,249.3 228.8,257.9 245.8,255.3 279.7,255.3 296.7,260.4" stroke="#E9C13E"/><polyline points="76.1,251.2 110.0,247.8 127.0,253.1 144.0,246.5 160.9,241.1 177.9,238.7 194.9,240.6 211.9,237.8 228.8,241.9 245.8,241.6 262.8,233.4 279.7,231.3 296.7,235.8 313.7,232.7 330.6,234.4" stroke="#E2A532"/><polyline points="76.1,251.2 110.0,246.5 127.0,246.7 144.0,246.8 160.9,239.8 177.9,227.6 211.9,243.0 228.8,227.3 296.7,222.1" stroke="#8A9C4A"/><polyline points="76.1,251.2 110.0,260.2 127.0,257.5 144.0,255.9 177.9,258.0 194.9,260.0 228.8,259.5 245.8,256.1 262.8,252.9 279.7,244.9 296.7,247.0 330.6,244.5 347.6,253.6 364.6,248.0 381.6,253.8" stroke="#E9C13E"/><polyline points="76.1,251.2 110.0,254.9 160.9,258.5 177.9,258.2 194.9,254.9 211.9,249.3 228.8,257.4 279.7,249.7 313.7,258.0 347.6,246.5 364.6,247.6" stroke="#DC7C2C"/><polyline points="76.1,251.2 110.0,229.7 144.0,237.4 160.9,245.7 177.9,228.4 194.9,245.9 211.9,240.1 228.8,237.1 245.8,231.3 262.8,215.8 279.7,226.4 296.7,228.9 313.7,224.6 330.6,208.5 364.6,206.6 381.6,207.4" stroke="#E2A532"/><polyline points="76.1,251.2 110.0,256.6 127.0,258.4 144.0,259.9 160.9,264.1 177.9,258.8 194.9,258.8 228.8,265.0 245.8,251.9 262.8,262.2 330.6,254.6 364.6,250.1 381.6,247.8" stroke="#C22A2D"/><polyline points="76.1,251.2 110.0,254.9 127.0,252.9 160.9,253.8" stroke="#C22A2D"/><polyline points="76.1,251.2 110.0,242.2 144.0,238.6 160.9,247.1 177.9,239.9 211.9,238.3" stroke="#E2A532"/><polyline points="76.1,251.2 110.0,260.6 127.0,255.5 144.0,264.3 160.9,257.3" stroke="#E9C13E"/><polyline points="76.1,251.2 110.0,264.4 160.9,261.5 177.9,261.7 194.9,262.4 211.9,261.7 228.8,260.1 245.8,264.2 262.8,259.9 279.7,264.0 296.7,259.7 330.6,257.2 347.6,258.3" stroke="#E2A532"/><polyline points="76.1,251.2 93.1,274.7 127.0,258.3 144.0,253.2 194.9,252.4 211.9,245.3 228.8,244.8 262.8,243.4 296.7,243.8 313.7,251.7 330.6,247.7 364.6,234.2 381.6,241.6" stroke="#C22A2D"/><polyline points="76.1,251.2 127.0,234.4 144.0,235.7 160.9,226.0 177.9,238.3 194.9,248.0 211.9,236.8 228.8,234.2 245.8,237.0 262.8,238.7" stroke="#D0532C"/><polyline points="76.1,251.2 110.0,253.8 127.0,251.1 144.0,254.1 160.9,249.9 177.9,246.7 194.9,256.1 211.9,248.4 228.8,246.7 245.8,249.9 262.8,254.2 279.7,247.8 296.7,249.5" stroke="#DC7C2C"/><polyline points="76.1,251.2 110.0,239.1 127.0,249.8 144.0,246.5 177.9,248.7 194.9,253.0 228.8,252.2 245.8,250.1 262.8,234.0 296.7,239.5 313.7,246.6 330.6,225.4 347.6,215.3" stroke="#DC7C2C"/><polyline points="76.1,251.2 110.0,257.8 127.0,257.3 144.0,254.9 160.9,256.8 177.9,258.4" stroke="#E9C13E"/><polyline points="76.1,251.2 110.0,252.5 127.0,245.3 194.9,248.6 228.8,250.9 262.8,252.5" stroke="#E2A532"/><polyline points="76.1,251.2 127.0,244.7 144.0,247.2 160.9,248.6 177.9,255.3 194.9,258.5 211.9,253.1 245.8,255.3 262.8,246.2 296.7,249.2 313.7,249.4 330.6,235.4" stroke="#E9C13E"/><polyline points="76.1,251.2 110.0,259.5 127.0,259.1 144.0,258.5 160.9,258.6 194.9,255.3 228.8,257.3 245.8,260.4 262.8,259.1 296.7,256.9 313.7,264.3" stroke="#E9C13E"/><polyline points="76.1,251.2 110.0,254.8 127.0,251.7 144.0,255.7 194.9,246.8 228.8,251.6 262.8,248.8 279.7,256.2 296.7,253.4" stroke="#E9C13E"/><polyline points="76.1,251.2 110.0,249.7 127.0,251.5 160.9,250.0 228.8,237.9 245.8,239.8 262.8,249.4 279.7,243.6" stroke="#E2A532"/><polyline points="76.1,251.2 110.0,244.3 127.0,238.4 144.0,232.0 177.9,250.8 194.9,234.7 211.9,243.7 228.8,231.4 262.8,239.6 296.7,249.1" stroke="#E9C13E"/><polyline points="76.1,251.2 110.0,261.1 127.0,262.6 144.0,262.4 160.9,260.5 177.9,260.8 194.9,266.2 245.8,259.0 262.8,260.1 279.7,253.7 296.7,261.0" stroke="#DC7C2C"/><polyline points="76.1,251.2 110.0,251.4 127.0,246.6 144.0,249.5 160.9,242.8 194.9,242.1 211.9,244.0 228.8,238.6 262.8,234.3 313.7,246.3 330.6,217.7" stroke="#E9C13E"/><polyline points="76.1,251.2 110.0,256.6 127.0,259.2 144.0,255.6 160.9,257.9 177.9,258.1 194.9,264.1 211.9,259.9 228.8,265.0 245.8,264.1 262.8,260.3 279.7,260.4" stroke="#E9C13E"/><polyline points="76.1,251.2 127.0,243.8 160.9,242.4 194.9,244.5 211.9,226.9 228.8,239.7 313.7,229.1" stroke="#E9C13E"/><polyline points="76.1,251.2 93.1,270.4 110.0,260.4 127.0,254.6 144.0,256.0 160.9,256.2 194.9,255.8" stroke="#E2A532"/><polyline points="76.1,251.2 110.0,244.3 127.0,253.9 144.0,246.1 160.9,246.1 211.9,246.3 228.8,244.0 245.8,226.4 279.7,239.4 296.7,246.1 313.7,250.0 330.6,248.2 364.6,227.5" stroke="#E2A532"/><polyline points="76.1,251.2 110.0,250.6 144.0,245.1 160.9,249.2 177.9,243.0 194.9,244.1 228.8,248.3 245.8,248.5 262.8,240.5" stroke="#E2A532"/><polyline points="76.1,251.2 110.0,260.0 127.0,258.7 144.0,252.2 160.9,259.6 194.9,260.0 211.9,258.6 228.8,254.7 245.8,257.9 262.8,256.7 296.7,251.1" stroke="#E2A532"/><polyline points="76.1,251.2 110.0,241.1 144.0,250.7 194.9,251.5 228.8,200.8 262.8,213.4 296.7,202.1 330.6,192.2 364.6,205.8 381.6,208.4" stroke="#C22A2D"/><polyline points="76.1,251.2 110.0,255.0 160.9,251.0 194.9,252.6 211.9,245.5 296.7,245.6 381.6,214.9 398.5,216.7 415.5,207.1 432.5,214.9 449.4,205.6 466.4,189.7 483.4,176.1 500.4,183.9" stroke="#4A5BA8"/><polyline points="76.1,251.2 211.9,249.5 245.8,251.3 262.8,244.5 296.7,244.4 330.6,216.5 347.6,231.4 381.6,231.0 398.5,226.0 432.5,217.7" stroke="#C22A2D"/><polyline points="76.1,251.2 160.9,247.3 177.9,257.3 330.6,237.6 364.6,236.1 381.6,236.1 449.4,225.7" stroke="#4A5BA8"/><polyline points="76.1,251.2 110.0,243.5 160.9,243.4 245.8,251.1 262.8,242.5 364.6,238.6 398.5,236.1 432.5,231.5" stroke="#E9C13E"/><polyline points="76.1,251.2 110.0,256.9 160.9,251.2 177.9,250.2 296.7,246.8 381.6,241.1 432.5,241.1 449.4,233.6 466.4,239.1" stroke="#C22A2D"/><polyline points="76.1,251.2 211.9,252.7 228.8,238.3 245.8,246.9 262.8,236.5 330.6,233.3 347.6,247.2 381.6,243.6 415.5,246.2 449.4,247.4 466.4,243.6" stroke="#4A5BA8"/><polyline points="76.1,251.2 211.9,249.9 245.8,246.8 296.7,226.8 347.6,228.9 364.6,238.6 381.6,251.2 415.5,252.0 432.5,247.9 449.4,242.9" stroke="#C22A2D"/><polyline points="76.1,251.2 144.0,247.4 177.9,238.9 194.9,240.4 211.9,245.4 228.8,231.0 245.8,228.5 262.8,221.0 279.7,236.1 364.6,243.6 415.5,246.2 466.4,260.0" stroke="#2F3B82"/><polyline points="76.1,251.2 144.0,253.8 194.9,245.6 245.8,249.6 279.7,244.4 296.7,240.1 330.6,236.4 364.6,248.7 381.6,248.7 398.5,256.5 432.5,263.8 483.4,260.5 500.4,258.5" stroke="#C22A2D"/><polyline points="76.1,251.2 160.9,245.8 211.9,256.0 228.8,239.3 364.6,213.4 398.5,205.8" stroke="#8A9C4A"/><polyline points="76.1,251.2 144.0,236.1 177.9,215.9 211.9,214.4 245.8,223.5 262.8,228.5" stroke="#8A9C4A"/><polyline points="76.1,251.2 127.0,249.9 160.9,194.5 194.9,200.8 228.8,221.0 245.8,175.6 262.8,221.0" stroke="#E2A532"/><polyline points="76.1,251.2 160.9,209.1 228.8,226.0 296.7,221.0" stroke="#E9C13E"/><polyline points="76.1,251.2 127.0,238.6 160.9,228.5 228.8,213.4" stroke="#C22A2D"/><polyline points="76.1,251.2 160.9,251.8 194.9,256.4 228.8,245.7 245.8,231.0 262.8,236.1 279.7,241.1" stroke="#6B4C94"/><polyline points="76.1,251.2 110.0,258.8 127.0,266.3 160.9,267.8 194.9,265.1 228.8,261.3" stroke="#8A9C4A"/><polyline points="76.1,251.2 93.1,275.9 110.0,261.3 160.9,270.1 194.9,268.3 228.8,266.8 262.8,263.8" stroke="#E9C13E"/><polyline points="76.1,251.2 93.1,266.3 127.0,262.5 160.9,263.8 211.9,268.8 245.8,265.1" stroke="#E2A532"/><polyline points="76.1,251.2 110.0,248.7 127.0,258.8 160.9,267.6 228.8,263.8 296.7,260.0" stroke="#8A9C4A"/></g>
<g fill-opacity="0.8"><g fill="#C22A2D"><circle cx="110.0" cy="256.7" r="2.3"/><circle cx="127.0" cy="262.6" r="2.3"/><circle cx="144.0" cy="256.4" r="2.3"/><circle cx="160.9" cy="256.7" r="2.3"/><circle cx="177.9" cy="250.5" r="2.3"/><circle cx="228.8" cy="242.0" r="2.3"/><circle cx="262.8" cy="254.2" r="2.3"/><circle cx="279.7" cy="252.4" r="2.3"/><circle cx="296.7" cy="251.1" r="2.3"/><circle cx="313.7" cy="249.5" r="2.3"/><circle cx="330.6" cy="246.3" r="2.3"/><circle cx="347.6" cy="243.5" r="2.3"/><circle cx="364.6" cy="240.0" r="2.3"/><circle cx="381.6" cy="248.4" r="2.3"/></g><g fill="#A0242F"><circle cx="127.0" cy="257.8" r="2.3"/><circle cx="144.0" cy="252.7" r="2.3"/><circle cx="160.9" cy="253.4" r="2.3"/><circle cx="177.9" cy="259.8" r="2.3"/><circle cx="194.9" cy="257.6" r="2.3"/><circle cx="211.9" cy="257.7" r="2.3"/><circle cx="228.8" cy="258.6" r="2.3"/><circle cx="245.8" cy="260.0" r="2.3"/><circle cx="262.8" cy="259.0" r="2.3"/><circle cx="279.7" cy="254.8" r="2.3"/><circle cx="296.7" cy="262.8" r="2.3"/><circle cx="330.6" cy="258.8" r="2.3"/><circle cx="364.6" cy="248.7" r="2.3"/><circle cx="381.6" cy="234.3" r="2.3"/></g><g fill="#C22A2D"><circle cx="110.0" cy="261.4" r="2.3"/><circle cx="127.0" cy="259.6" r="2.3"/><circle cx="177.9" cy="256.6" r="2.3"/><circle cx="194.9" cy="259.8" r="2.3"/><circle cx="211.9" cy="257.5" r="2.3"/><circle cx="228.8" cy="260.0" r="2.3"/><circle cx="262.8" cy="257.6" r="2.3"/><circle cx="279.7" cy="251.0" r="2.3"/><circle cx="313.7" cy="259.2" r="2.3"/><circle cx="347.6" cy="253.5" r="2.3"/><circle cx="364.6" cy="253.5" r="2.3"/><circle cx="381.6" cy="253.1" r="2.3"/><circle cx="398.5" cy="249.4" r="2.3"/></g><g fill="#C22A2D"><circle cx="110.0" cy="257.9" r="2.3"/><circle cx="127.0" cy="256.2" r="2.3"/><circle cx="144.0" cy="248.8" r="2.3"/><circle cx="160.9" cy="251.1" r="2.3"/><circle cx="194.9" cy="255.2" r="2.3"/><circle cx="228.8" cy="254.0" r="2.3"/><circle cx="245.8" cy="258.6" r="2.3"/><circle cx="296.7" cy="251.1" r="2.3"/><circle cx="330.6" cy="251.2" r="2.3"/><circle cx="364.6" cy="253.4" r="2.3"/></g><g fill="#C22A2D"><circle cx="110.0" cy="248.8" r="2.3"/><circle cx="127.0" cy="252.7" r="2.3"/><circle cx="144.0" cy="240.2" r="2.3"/><circle cx="160.9" cy="250.1" r="2.3"/><circle cx="177.9" cy="238.2" r="2.3"/><circle cx="194.9" cy="239.9" r="2.3"/><circle cx="228.8" cy="250.3" r="2.3"/><circle cx="245.8" cy="242.9" r="2.3"/></g><g fill="#C22A2D"><circle cx="110.0" cy="261.8" r="2.3"/><circle cx="127.0" cy="261.9" r="2.3"/><circle cx="144.0" cy="258.0" r="2.3"/><circle cx="160.9" cy="262.0" r="2.3"/><circle cx="228.8" cy="262.8" r="2.3"/><circle cx="245.8" cy="260.7" r="2.3"/><circle cx="262.8" cy="254.5" r="2.3"/><circle cx="279.7" cy="254.1" r="2.3"/><circle cx="296.7" cy="261.1" r="2.3"/><circle cx="313.7" cy="258.2" r="2.3"/><circle cx="330.6" cy="254.7" r="2.3"/><circle cx="347.6" cy="260.6" r="2.3"/><circle cx="364.6" cy="260.4" r="2.3"/><circle cx="381.6" cy="256.1" r="2.3"/></g><g fill="#C22A2D"><circle cx="110.0" cy="261.0" r="2.3"/><circle cx="127.0" cy="261.2" r="2.3"/><circle cx="144.0" cy="261.6" r="2.3"/><circle cx="160.9" cy="256.6" r="2.3"/><circle cx="245.8" cy="257.6" r="2.3"/><circle cx="262.8" cy="256.0" r="2.3"/><circle cx="296.7" cy="258.9" r="2.3"/><circle cx="347.6" cy="250.6" r="2.3"/></g><g fill="#A0242F"><circle cx="110.0" cy="249.5" r="2.3"/><circle cx="160.9" cy="261.0" r="2.3"/><circle cx="211.9" cy="254.6" r="2.3"/><circle cx="228.8" cy="250.4" r="2.3"/><circle cx="262.8" cy="249.4" r="2.3"/><circle cx="279.7" cy="237.5" r="2.3"/><circle cx="296.7" cy="231.7" r="2.3"/><circle cx="313.7" cy="243.5" r="2.3"/><circle cx="330.6" cy="234.1" r="2.3"/><circle cx="347.6" cy="249.0" r="2.3"/><circle cx="364.6" cy="249.5" r="2.3"/><circle cx="381.6" cy="223.4" r="2.3"/></g><g fill="#C22A2D"><circle cx="110.0" cy="260.0" r="2.3"/><circle cx="127.0" cy="264.3" r="2.3"/><circle cx="160.9" cy="257.2" r="2.3"/><circle cx="177.9" cy="258.2" r="2.3"/><circle cx="194.9" cy="249.7" r="2.3"/><circle cx="211.9" cy="263.8" r="2.3"/><circle cx="228.8" cy="258.5" r="2.3"/><circle cx="262.8" cy="258.6" r="2.3"/><circle cx="296.7" cy="257.2" r="2.3"/><circle cx="313.7" cy="259.3" r="2.3"/><circle cx="364.6" cy="251.4" r="2.3"/><circle cx="381.6" cy="243.7" r="2.3"/></g><g fill="#C22A2D"><circle cx="110.0" cy="252.1" r="2.3"/><circle cx="160.9" cy="250.4" r="2.3"/><circle cx="177.9" cy="241.2" r="2.3"/><circle cx="194.9" cy="248.1" r="2.3"/><circle cx="228.8" cy="244.2" r="2.3"/><circle cx="245.8" cy="255.1" r="2.3"/><circle cx="262.8" cy="249.2" r="2.3"/><circle cx="279.7" cy="248.3" r="2.3"/><circle cx="296.7" cy="253.6" r="2.3"/><circle cx="330.6" cy="245.0" r="2.3"/></g><g fill="#D0532C"><circle cx="110.0" cy="253.4" r="2.3"/><circle cx="127.0" cy="259.5" r="2.3"/><circle cx="160.9" cy="257.4" r="2.3"/><circle cx="194.9" cy="249.9" r="2.3"/><circle cx="211.9" cy="252.0" r="2.3"/><circle cx="228.8" cy="250.9" r="2.3"/><circle cx="262.8" cy="244.7" r="2.3"/><circle cx="313.7" cy="257.6" r="2.3"/><circle cx="330.6" cy="249.0" r="2.3"/><circle cx="381.6" cy="252.8" r="2.3"/></g><g fill="#C22A2D"><circle cx="144.0" cy="255.7" r="2.3"/><circle cx="160.9" cy="249.5" r="2.3"/><circle cx="177.9" cy="249.8" r="2.3"/><circle cx="194.9" cy="250.1" r="2.3"/><circle cx="211.9" cy="245.6" r="2.3"/><circle cx="262.8" cy="239.6" r="2.3"/><circle cx="279.7" cy="241.1" r="2.3"/><circle cx="296.7" cy="222.2" r="2.3"/><circle cx="313.7" cy="254.7" r="2.3"/><circle cx="330.6" cy="231.5" r="2.3"/><circle cx="347.6" cy="249.3" r="2.3"/></g><g fill="#8A9C4A"><circle cx="110.0" cy="233.8" r="2.3"/><circle cx="127.0" cy="250.7" r="2.3"/><circle cx="160.9" cy="235.7" r="2.3"/><circle cx="177.9" cy="241.2" r="2.3"/><circle cx="194.9" cy="241.3" r="2.3"/></g><g fill="#DC7C2C"><circle cx="110.0" cy="248.7" r="2.3"/><circle cx="127.0" cy="248.7" r="2.3"/><circle cx="177.9" cy="246.8" r="2.3"/><circle cx="194.9" cy="248.1" r="2.3"/><circle cx="211.9" cy="249.7" r="2.3"/><circle cx="228.8" cy="226.6" r="2.3"/><circle cx="245.8" cy="239.4" r="2.3"/><circle cx="279.7" cy="241.2" r="2.3"/><circle cx="296.7" cy="231.2" r="2.3"/><circle cx="313.7" cy="236.7" r="2.3"/><circle cx="330.6" cy="235.7" r="2.3"/><circle cx="364.6" cy="244.9" r="2.3"/></g><g fill="#C22A2D"><circle cx="127.0" cy="259.8" r="2.3"/><circle cx="144.0" cy="262.6" r="2.3"/><circle cx="160.9" cy="261.1" r="2.3"/><circle cx="211.9" cy="256.0" r="2.3"/><circle cx="228.8" cy="262.0" r="2.3"/><circle cx="245.8" cy="257.9" r="2.3"/><circle cx="262.8" cy="259.8" r="2.3"/><circle cx="296.7" cy="258.0" r="2.3"/><circle cx="313.7" cy="261.1" r="2.3"/><circle cx="330.6" cy="254.0" r="2.3"/><circle cx="347.6" cy="253.6" r="2.3"/><circle cx="364.6" cy="258.0" r="2.3"/><circle cx="381.6" cy="252.7" r="2.3"/></g><g fill="#DC7C2C"><circle cx="110.0" cy="249.7" r="2.3"/><circle cx="144.0" cy="255.3" r="2.3"/><circle cx="160.9" cy="251.3" r="2.3"/><circle cx="177.9" cy="250.0" r="2.3"/></g><g fill="#DC7C2C"><circle cx="110.0" cy="258.6" r="2.3"/><circle cx="127.0" cy="260.2" r="2.3"/><circle cx="144.0" cy="260.2" r="2.3"/><circle cx="194.9" cy="256.7" r="2.3"/><circle cx="228.8" cy="259.8" r="2.3"/><circle cx="245.8" cy="257.5" r="2.3"/><circle cx="262.8" cy="258.9" r="2.3"/><circle cx="279.7" cy="261.1" r="2.3"/><circle cx="296.7" cy="247.0" r="2.3"/><circle cx="313.7" cy="250.8" r="2.3"/><circle cx="330.6" cy="255.1" r="2.3"/></g><g fill="#A0242F"><circle cx="110.0" cy="251.7" r="2.3"/><circle cx="127.0" cy="243.5" r="2.3"/><circle cx="160.9" cy="239.1" r="2.3"/><circle cx="194.9" cy="247.7" r="2.3"/><circle cx="211.9" cy="231.5" r="2.3"/><circle cx="228.8" cy="246.1" r="2.3"/><circle cx="245.8" cy="236.8" r="2.3"/><circle cx="262.8" cy="238.2" r="2.3"/><circle cx="330.6" cy="219.9" r="2.3"/><circle cx="364.6" cy="221.7" r="2.3"/></g><g fill="#DC7C2C"><circle cx="110.0" cy="232.2" r="2.3"/><circle cx="127.0" cy="249.3" r="2.3"/><circle cx="144.0" cy="238.4" r="2.3"/><circle cx="160.9" cy="235.8" r="2.3"/><circle cx="177.9" cy="242.6" r="2.3"/><circle cx="211.9" cy="235.7" r="2.3"/><circle cx="228.8" cy="243.8" r="2.3"/><circle cx="245.8" cy="224.1" r="2.3"/><circle cx="279.7" cy="238.4" r="2.3"/><circle cx="330.6" cy="223.4" r="2.3"/><circle cx="364.6" cy="203.6" r="2.3"/></g><g fill="#E2A532"><circle cx="110.0" cy="260.8" r="2.3"/><circle cx="127.0" cy="264.2" r="2.3"/><circle cx="144.0" cy="259.7" r="2.3"/><circle cx="160.9" cy="255.7" r="2.3"/><circle cx="177.9" cy="258.0" r="2.3"/><circle cx="194.9" cy="262.4" r="2.3"/><circle cx="211.9" cy="255.5" r="2.3"/><circle cx="228.8" cy="258.1" r="2.3"/><circle cx="245.8" cy="256.9" r="2.3"/><circle cx="262.8" cy="262.5" r="2.3"/><circle cx="279.7" cy="259.9" r="2.3"/><circle cx="296.7" cy="258.1" r="2.3"/></g><g fill="#C22A2D"><circle cx="110.0" cy="243.7" r="2.3"/><circle cx="160.9" cy="244.1" r="2.3"/><circle cx="194.9" cy="241.7" r="2.3"/><circle cx="228.8" cy="229.3" r="2.3"/><circle cx="245.8" cy="219.9" r="2.3"/><circle cx="262.8" cy="232.0" r="2.3"/><circle cx="279.7" cy="242.7" r="2.3"/><circle cx="296.7" cy="239.5" r="2.3"/><circle cx="313.7" cy="235.6" r="2.3"/><circle cx="330.6" cy="213.0" r="2.3"/><circle cx="364.6" cy="211.9" r="2.3"/><circle cx="381.6" cy="222.0" r="2.3"/></g><g fill="#D0532C"><circle cx="110.0" cy="256.5" r="2.3"/><circle cx="127.0" cy="261.3" r="2.3"/><circle cx="144.0" cy="258.6" r="2.3"/><circle cx="160.9" cy="252.7" r="2.3"/><circle cx="177.9" cy="253.2" r="2.3"/><circle cx="211.9" cy="251.6" r="2.3"/><circle cx="228.8" cy="256.0" r="2.3"/></g><g fill="#A0242F"><circle cx="110.0" cy="244.3" r="2.3"/><circle cx="127.0" cy="234.8" r="2.3"/><circle cx="160.9" cy="244.1" r="2.3"/><circle cx="177.9" cy="231.7" r="2.3"/><circle cx="194.9" cy="232.2" r="2.3"/><circle cx="211.9" cy="220.5" r="2.3"/><circle cx="228.8" cy="228.7" r="2.3"/><circle cx="245.8" cy="230.5" r="2.3"/><circle cx="262.8" cy="234.8" r="2.3"/><circle cx="279.7" cy="234.5" r="2.3"/><circle cx="296.7" cy="217.2" r="2.3"/><circle cx="330.6" cy="211.1" r="2.3"/><circle cx="381.6" cy="205.9" r="2.3"/></g><g fill="#C22A2D"><circle cx="110.0" cy="246.3" r="2.3"/><circle cx="127.0" cy="246.3" r="2.3"/><circle cx="160.9" cy="257.2" r="2.3"/><circle cx="194.9" cy="248.7" r="2.3"/><circle cx="211.9" cy="251.0" r="2.3"/><circle cx="228.8" cy="252.1" r="2.3"/><circle cx="245.8" cy="242.8" r="2.3"/><circle cx="262.8" cy="249.5" r="2.3"/><circle cx="330.6" cy="240.4" r="2.3"/><circle cx="364.6" cy="248.3" r="2.3"/><circle cx="381.6" cy="224.4" r="2.3"/></g><g fill="#A0242F"><circle cx="110.0" cy="241.6" r="2.3"/><circle cx="127.0" cy="238.2" r="2.3"/><circle cx="144.0" cy="247.1" r="2.3"/><circle cx="194.9" cy="233.3" r="2.3"/><circle cx="228.8" cy="220.0" r="2.3"/><circle cx="245.8" cy="218.1" r="2.3"/></g><g fill="#D0532C"><circle cx="110.0" cy="244.9" r="2.3"/><circle cx="127.0" cy="247.2" r="2.3"/><circle cx="144.0" cy="247.4" r="2.3"/><circle cx="160.9" cy="243.3" r="2.3"/><circle cx="194.9" cy="233.1" r="2.3"/><circle cx="211.9" cy="233.7" r="2.3"/><circle cx="228.8" cy="230.8" r="2.3"/><circle cx="245.8" cy="219.1" r="2.3"/><circle cx="262.8" cy="225.3" r="2.3"/><circle cx="279.7" cy="217.9" r="2.3"/><circle cx="330.6" cy="214.9" r="2.3"/><circle cx="347.6" cy="205.3" r="2.3"/><circle cx="364.6" cy="228.8" r="2.3"/><circle cx="381.6" cy="212.2" r="2.3"/></g><g fill="#E2A532"><circle cx="110.0" cy="255.3" r="2.3"/><circle cx="127.0" cy="255.8" r="2.3"/><circle cx="144.0" cy="256.5" r="2.3"/><circle cx="160.9" cy="253.7" r="2.3"/><circle cx="177.9" cy="253.6" r="2.3"/><circle cx="194.9" cy="259.9" r="2.3"/><circle cx="228.8" cy="257.3" r="2.3"/></g><g fill="#E9C13E"><circle cx="127.0" cy="243.2" r="2.3"/><circle cx="160.9" cy="246.4" r="2.3"/><circle cx="177.9" cy="239.7" r="2.3"/><circle cx="194.9" cy="246.4" r="2.3"/><circle cx="211.9" cy="236.9" r="2.3"/><circle cx="228.8" cy="244.6" r="2.3"/></g><g fill="#E9C13E"><circle cx="110.0" cy="258.7" r="2.3"/><circle cx="127.0" cy="251.8" r="2.3"/><circle cx="160.9" cy="253.8" r="2.3"/><circle cx="211.9" cy="257.4" r="2.3"/><circle cx="228.8" cy="259.3" r="2.3"/><circle cx="296.7" cy="250.8" r="2.3"/></g><g fill="#D0532C"><circle cx="110.0" cy="243.7" r="2.3"/><circle cx="127.0" cy="251.9" r="2.3"/><circle cx="144.0" cy="241.1" r="2.3"/><circle cx="160.9" cy="244.6" r="2.3"/><circle cx="177.9" cy="243.2" r="2.3"/><circle cx="194.9" cy="238.8" r="2.3"/></g><g fill="#E9C13E"><circle cx="93.1" cy="274.2" r="2.3"/><circle cx="127.0" cy="246.6" r="2.3"/><circle cx="144.0" cy="242.5" r="2.3"/><circle cx="160.9" cy="239.0" r="2.3"/><circle cx="177.9" cy="246.7" r="2.3"/><circle cx="194.9" cy="243.0" r="2.3"/><circle cx="228.8" cy="245.7" r="2.3"/><circle cx="245.8" cy="236.2" r="2.3"/><circle cx="262.8" cy="240.3" r="2.3"/><circle cx="296.7" cy="238.3" r="2.3"/></g><g fill="#E9C13E"><circle cx="110.0" cy="251.4" r="2.3"/><circle cx="127.0" cy="251.2" r="2.3"/><circle cx="144.0" cy="253.6" r="2.3"/><circle cx="160.9" cy="254.3" r="2.3"/><circle cx="177.9" cy="241.7" r="2.3"/><circle cx="194.9" cy="248.6" r="2.3"/><circle cx="211.9" cy="249.9" r="2.3"/><circle cx="228.8" cy="245.3" r="2.3"/><circle cx="245.8" cy="248.1" r="2.3"/><circle cx="262.8" cy="251.9" r="2.3"/><circle cx="279.7" cy="248.2" r="2.3"/><circle cx="296.7" cy="249.3" r="2.3"/><circle cx="330.6" cy="248.5" r="2.3"/><circle cx="347.6" cy="240.6" r="2.3"/><circle cx="364.6" cy="243.7" r="2.3"/></g><g fill="#E2A532"><circle cx="110.0" cy="244.2" r="2.3"/><circle cx="127.0" cy="244.7" r="2.3"/><circle cx="144.0" cy="243.8" r="2.3"/><circle cx="160.9" cy="236.9" r="2.3"/><circle cx="228.8" cy="228.5" r="2.3"/><circle cx="262.8" cy="228.7" r="2.3"/></g><g fill="#E9C13E"><circle cx="110.0" cy="259.4" r="2.3"/><circle cx="127.0" cy="252.6" r="2.3"/><circle cx="160.9" cy="257.9" r="2.3"/><circle cx="177.9" cy="248.5" r="2.3"/><circle cx="194.9" cy="253.2" r="2.3"/><circle cx="228.8" cy="256.3" r="2.3"/></g><g fill="#DC7C2C"><circle cx="93.1" cy="271.5" r="2.3"/><circle cx="110.0" cy="263.7" r="2.3"/><circle cx="127.0" cy="255.0" r="2.3"/><circle cx="144.0" cy="255.2" r="2.3"/><circle cx="160.9" cy="260.5" r="2.3"/><circle cx="194.9" cy="263.8" r="2.3"/><circle cx="262.8" cy="254.1" r="2.3"/><circle cx="296.7" cy="255.7" r="2.3"/><circle cx="313.7" cy="253.3" r="2.3"/></g><g fill="#C22A2D"><circle cx="110.0" cy="246.1" r="2.3"/><circle cx="144.0" cy="254.7" r="2.3"/><circle cx="160.9" cy="255.0" r="2.3"/><circle cx="177.9" cy="255.1" r="2.3"/><circle cx="194.9" cy="250.3" r="2.3"/><circle cx="211.9" cy="254.9" r="2.3"/><circle cx="228.8" cy="251.7" r="2.3"/><circle cx="262.8" cy="248.9" r="2.3"/><circle cx="296.7" cy="259.5" r="2.3"/><circle cx="313.7" cy="247.1" r="2.3"/><circle cx="347.6" cy="241.3" r="2.3"/><circle cx="364.6" cy="240.5" r="2.3"/><circle cx="381.6" cy="243.6" r="2.3"/></g><g fill="#E2A532"><circle cx="110.0" cy="260.7" r="2.3"/><circle cx="127.0" cy="250.7" r="2.3"/><circle cx="144.0" cy="251.9" r="2.3"/><circle cx="160.9" cy="255.6" r="2.3"/><circle cx="211.9" cy="255.6" r="2.3"/><circle cx="228.8" cy="249.6" r="2.3"/><circle cx="245.8" cy="256.3" r="2.3"/><circle cx="279.7" cy="246.7" r="2.3"/><circle cx="296.7" cy="247.0" r="2.3"/><circle cx="313.7" cy="245.9" r="2.3"/><circle cx="330.6" cy="252.2" r="2.3"/><circle cx="347.6" cy="247.8" r="2.3"/><circle cx="364.6" cy="242.3" r="2.3"/><circle cx="381.6" cy="239.1" r="2.3"/></g><g fill="#8A9C4A"><circle cx="110.0" cy="253.3" r="2.3"/><circle cx="127.0" cy="253.0" r="2.3"/><circle cx="160.9" cy="246.2" r="2.3"/><circle cx="194.9" cy="254.6" r="2.3"/><circle cx="228.8" cy="239.5" r="2.3"/><circle cx="245.8" cy="252.6" r="2.3"/></g><g fill="#DC7C2C"><circle cx="110.0" cy="256.0" r="2.3"/><circle cx="127.0" cy="255.8" r="2.3"/><circle cx="144.0" cy="253.3" r="2.3"/><circle cx="160.9" cy="257.6" r="2.3"/><circle cx="177.9" cy="250.3" r="2.3"/><circle cx="228.8" cy="248.3" r="2.3"/></g><g fill="#E2A532"><circle cx="110.0" cy="249.8" r="2.3"/><circle cx="127.0" cy="253.8" r="2.3"/><circle cx="160.9" cy="242.3" r="2.3"/><circle cx="177.9" cy="250.6" r="2.3"/><circle cx="194.9" cy="254.1" r="2.3"/><circle cx="228.8" cy="248.3" r="2.3"/><circle cx="262.8" cy="247.0" r="2.3"/><circle cx="279.7" cy="245.7" r="2.3"/><circle cx="296.7" cy="242.5" r="2.3"/><circle cx="313.7" cy="238.5" r="2.3"/><circle cx="330.6" cy="230.9" r="2.3"/></g><g fill="#E9C13E"><circle cx="127.0" cy="260.7" r="2.3"/><circle cx="160.9" cy="248.5" r="2.3"/><circle cx="177.9" cy="250.5" r="2.3"/><circle cx="194.9" cy="255.3" r="2.3"/><circle cx="211.9" cy="253.3" r="2.3"/><circle cx="245.8" cy="250.3" r="2.3"/><circle cx="262.8" cy="251.3" r="2.3"/><circle cx="279.7" cy="239.6" r="2.3"/></g><g fill="#E9C13E"><circle cx="110.0" cy="257.8" r="2.3"/><circle cx="127.0" cy="257.8" r="2.3"/><circle cx="177.9" cy="254.1" r="2.3"/><circle cx="194.9" cy="256.6" r="2.3"/><circle cx="211.9" cy="249.3" r="2.3"/><circle cx="228.8" cy="257.9" r="2.3"/><circle cx="245.8" cy="255.3" r="2.3"/><circle cx="279.7" cy="255.3" r="2.3"/><circle cx="296.7" cy="260.4" r="2.3"/></g><g fill="#E2A532"><circle cx="110.0" cy="247.8" r="2.3"/><circle cx="127.0" cy="253.1" r="2.3"/><circle cx="144.0" cy="246.5" r="2.3"/><circle cx="160.9" cy="241.1" r="2.3"/><circle cx="177.9" cy="238.7" r="2.3"/><circle cx="194.9" cy="240.6" r="2.3"/><circle cx="211.9" cy="237.8" r="2.3"/><circle cx="228.8" cy="241.9" r="2.3"/><circle cx="245.8" cy="241.6" r="2.3"/><circle cx="262.8" cy="233.4" r="2.3"/><circle cx="279.7" cy="231.3" r="2.3"/><circle cx="296.7" cy="235.8" r="2.3"/><circle cx="313.7" cy="232.7" r="2.3"/><circle cx="330.6" cy="234.4" r="2.3"/></g><g fill="#8A9C4A"><circle cx="110.0" cy="246.5" r="2.3"/><circle cx="127.0" cy="246.7" r="2.3"/><circle cx="144.0" cy="246.8" r="2.3"/><circle cx="160.9" cy="239.8" r="2.3"/><circle cx="177.9" cy="227.6" r="2.3"/><circle cx="211.9" cy="243.0" r="2.3"/><circle cx="228.8" cy="227.3" r="2.3"/><circle cx="296.7" cy="222.1" r="2.3"/></g><g fill="#E9C13E"><circle cx="110.0" cy="260.2" r="2.3"/><circle cx="127.0" cy="257.5" r="2.3"/><circle cx="144.0" cy="255.9" r="2.3"/><circle cx="177.9" cy="258.0" r="2.3"/><circle cx="194.9" cy="260.0" r="2.3"/><circle cx="228.8" cy="259.5" r="2.3"/><circle cx="245.8" cy="256.1" r="2.3"/><circle cx="262.8" cy="252.9" r="2.3"/><circle cx="279.7" cy="244.9" r="2.3"/><circle cx="296.7" cy="247.0" r="2.3"/><circle cx="330.6" cy="244.5" r="2.3"/><circle cx="347.6" cy="253.6" r="2.3"/><circle cx="364.6" cy="248.0" r="2.3"/><circle cx="381.6" cy="253.8" r="2.3"/></g><g fill="#DC7C2C"><circle cx="110.0" cy="254.9" r="2.3"/><circle cx="160.9" cy="258.5" r="2.3"/><circle cx="177.9" cy="258.2" r="2.3"/><circle cx="194.9" cy="254.9" r="2.3"/><circle cx="211.9" cy="249.3" r="2.3"/><circle cx="228.8" cy="257.4" r="2.3"/><circle cx="279.7" cy="249.7" r="2.3"/><circle cx="313.7" cy="258.0" r="2.3"/><circle cx="347.6" cy="246.5" r="2.3"/><circle cx="364.6" cy="247.6" r="2.3"/></g><g fill="#E2A532"><circle cx="110.0" cy="229.7" r="2.3"/><circle cx="144.0" cy="237.4" r="2.3"/><circle cx="160.9" cy="245.7" r="2.3"/><circle cx="177.9" cy="228.4" r="2.3"/><circle cx="194.9" cy="245.9" r="2.3"/><circle cx="211.9" cy="240.1" r="2.3"/><circle cx="228.8" cy="237.1" r="2.3"/><circle cx="245.8" cy="231.3" r="2.3"/><circle cx="262.8" cy="215.8" r="2.3"/><circle cx="279.7" cy="226.4" r="2.3"/><circle cx="296.7" cy="228.9" r="2.3"/><circle cx="313.7" cy="224.6" r="2.3"/><circle cx="330.6" cy="208.5" r="2.3"/><circle cx="364.6" cy="206.6" r="2.3"/><circle cx="381.6" cy="207.4" r="2.3"/></g><g fill="#C22A2D"><circle cx="110.0" cy="256.6" r="2.3"/><circle cx="127.0" cy="258.4" r="2.3"/><circle cx="144.0" cy="259.9" r="2.3"/><circle cx="160.9" cy="264.1" r="2.3"/><circle cx="177.9" cy="258.8" r="2.3"/><circle cx="194.9" cy="258.8" r="2.3"/><circle cx="228.8" cy="265.0" r="2.3"/><circle cx="245.8" cy="251.9" r="2.3"/><circle cx="262.8" cy="262.2" r="2.3"/><circle cx="330.6" cy="254.6" r="2.3"/><circle cx="364.6" cy="250.1" r="2.3"/><circle cx="381.6" cy="247.8" r="2.3"/></g><g fill="#C22A2D"><circle cx="110.0" cy="254.9" r="2.3"/><circle cx="127.0" cy="252.9" r="2.3"/><circle cx="160.9" cy="253.8" r="2.3"/></g><g fill="#E2A532"><circle cx="110.0" cy="242.2" r="2.3"/><circle cx="144.0" cy="238.6" r="2.3"/><circle cx="160.9" cy="247.1" r="2.3"/><circle cx="177.9" cy="239.9" r="2.3"/><circle cx="211.9" cy="238.3" r="2.3"/></g><g fill="#E9C13E"><circle cx="110.0" cy="260.6" r="2.3"/><circle cx="127.0" cy="255.5" r="2.3"/><circle cx="144.0" cy="264.3" r="2.3"/><circle cx="160.9" cy="257.3" r="2.3"/></g><g fill="#E2A532"><circle cx="110.0" cy="264.4" r="2.3"/><circle cx="160.9" cy="261.5" r="2.3"/><circle cx="177.9" cy="261.7" r="2.3"/><circle cx="194.9" cy="262.4" r="2.3"/><circle cx="211.9" cy="261.7" r="2.3"/><circle cx="228.8" cy="260.1" r="2.3"/><circle cx="245.8" cy="264.2" r="2.3"/><circle cx="262.8" cy="259.9" r="2.3"/><circle cx="279.7" cy="264.0" r="2.3"/><circle cx="296.7" cy="259.7" r="2.3"/><circle cx="330.6" cy="257.2" r="2.3"/><circle cx="347.6" cy="258.3" r="2.3"/></g><g fill="#C22A2D"><circle cx="93.1" cy="274.7" r="2.3"/><circle cx="127.0" cy="258.3" r="2.3"/><circle cx="144.0" cy="253.2" r="2.3"/><circle cx="194.9" cy="252.4" r="2.3"/><circle cx="211.9" cy="245.3" r="2.3"/><circle cx="228.8" cy="244.8" r="2.3"/><circle cx="262.8" cy="243.4" r="2.3"/><circle cx="296.7" cy="243.8" r="2.3"/><circle cx="313.7" cy="251.7" r="2.3"/><circle cx="330.6" cy="247.7" r="2.3"/><circle cx="364.6" cy="234.2" r="2.3"/><circle cx="381.6" cy="241.6" r="2.3"/></g><g fill="#D0532C"><circle cx="127.0" cy="234.4" r="2.3"/><circle cx="144.0" cy="235.7" r="2.3"/><circle cx="160.9" cy="226.0" r="2.3"/><circle cx="177.9" cy="238.3" r="2.3"/><circle cx="194.9" cy="248.0" r="2.3"/><circle cx="211.9" cy="236.8" r="2.3"/><circle cx="228.8" cy="234.2" r="2.3"/><circle cx="245.8" cy="237.0" r="2.3"/><circle cx="262.8" cy="238.7" r="2.3"/></g><g fill="#DC7C2C"><circle cx="110.0" cy="253.8" r="2.3"/><circle cx="127.0" cy="251.1" r="2.3"/><circle cx="144.0" cy="254.1" r="2.3"/><circle cx="160.9" cy="249.9" r="2.3"/><circle cx="177.9" cy="246.7" r="2.3"/><circle cx="194.9" cy="256.1" r="2.3"/><circle cx="211.9" cy="248.4" r="2.3"/><circle cx="228.8" cy="246.7" r="2.3"/><circle cx="245.8" cy="249.9" r="2.3"/><circle cx="262.8" cy="254.2" r="2.3"/><circle cx="279.7" cy="247.8" r="2.3"/><circle cx="296.7" cy="249.5" r="2.3"/></g><g fill="#DC7C2C"><circle cx="110.0" cy="239.1" r="2.3"/><circle cx="127.0" cy="249.8" r="2.3"/><circle cx="144.0" cy="246.5" r="2.3"/><circle cx="177.9" cy="248.7" r="2.3"/><circle cx="194.9" cy="253.0" r="2.3"/><circle cx="228.8" cy="252.2" r="2.3"/><circle cx="245.8" cy="250.1" r="2.3"/><circle cx="262.8" cy="234.0" r="2.3"/><circle cx="296.7" cy="239.5" r="2.3"/><circle cx="313.7" cy="246.6" r="2.3"/><circle cx="330.6" cy="225.4" r="2.3"/><circle cx="347.6" cy="215.3" r="2.3"/></g><g fill="#E9C13E"><circle cx="110.0" cy="257.8" r="2.3"/><circle cx="127.0" cy="257.3" r="2.3"/><circle cx="144.0" cy="254.9" r="2.3"/><circle cx="160.9" cy="256.8" r="2.3"/><circle cx="177.9" cy="258.4" r="2.3"/></g><g fill="#E2A532"><circle cx="110.0" cy="252.5" r="2.3"/><circle cx="127.0" cy="245.3" r="2.3"/><circle cx="194.9" cy="248.6" r="2.3"/><circle cx="228.8" cy="250.9" r="2.3"/><circle cx="262.8" cy="252.5" r="2.3"/></g><g fill="#E9C13E"><circle cx="127.0" cy="244.7" r="2.3"/><circle cx="144.0" cy="247.2" r="2.3"/><circle cx="160.9" cy="248.6" r="2.3"/><circle cx="177.9" cy="255.3" r="2.3"/><circle cx="194.9" cy="258.5" r="2.3"/><circle cx="211.9" cy="253.1" r="2.3"/><circle cx="245.8" cy="255.3" r="2.3"/><circle cx="262.8" cy="246.2" r="2.3"/><circle cx="296.7" cy="249.2" r="2.3"/><circle cx="313.7" cy="249.4" r="2.3"/><circle cx="330.6" cy="235.4" r="2.3"/></g><g fill="#E9C13E"><circle cx="110.0" cy="259.5" r="2.3"/><circle cx="127.0" cy="259.1" r="2.3"/><circle cx="144.0" cy="258.5" r="2.3"/><circle cx="160.9" cy="258.6" r="2.3"/><circle cx="194.9" cy="255.3" r="2.3"/><circle cx="228.8" cy="257.3" r="2.3"/><circle cx="245.8" cy="260.4" r="2.3"/><circle cx="262.8" cy="259.1" r="2.3"/><circle cx="296.7" cy="256.9" r="2.3"/><circle cx="313.7" cy="264.3" r="2.3"/></g><g fill="#E9C13E"><circle cx="110.0" cy="254.8" r="2.3"/><circle cx="127.0" cy="251.7" r="2.3"/><circle cx="144.0" cy="255.7" r="2.3"/><circle cx="194.9" cy="246.8" r="2.3"/><circle cx="228.8" cy="251.6" r="2.3"/><circle cx="262.8" cy="248.8" r="2.3"/><circle cx="279.7" cy="256.2" r="2.3"/><circle cx="296.7" cy="253.4" r="2.3"/></g><g fill="#E2A532"><circle cx="110.0" cy="249.7" r="2.3"/><circle cx="127.0" cy="251.5" r="2.3"/><circle cx="160.9" cy="250.0" r="2.3"/><circle cx="228.8" cy="237.9" r="2.3"/><circle cx="245.8" cy="239.8" r="2.3"/><circle cx="262.8" cy="249.4" r="2.3"/><circle cx="279.7" cy="243.6" r="2.3"/></g><g fill="#E9C13E"><circle cx="110.0" cy="244.3" r="2.3"/><circle cx="127.0" cy="238.4" r="2.3"/><circle cx="144.0" cy="232.0" r="2.3"/><circle cx="177.9" cy="250.8" r="2.3"/><circle cx="194.9" cy="234.7" r="2.3"/><circle cx="211.9" cy="243.7" r="2.3"/><circle cx="228.8" cy="231.4" r="2.3"/><circle cx="262.8" cy="239.6" r="2.3"/><circle cx="296.7" cy="249.1" r="2.3"/></g><g fill="#DC7C2C"><circle cx="110.0" cy="261.1" r="2.3"/><circle cx="127.0" cy="262.6" r="2.3"/><circle cx="144.0" cy="262.4" r="2.3"/><circle cx="160.9" cy="260.5" r="2.3"/><circle cx="177.9" cy="260.8" r="2.3"/><circle cx="194.9" cy="266.2" r="2.3"/><circle cx="245.8" cy="259.0" r="2.3"/><circle cx="262.8" cy="260.1" r="2.3"/><circle cx="279.7" cy="253.7" r="2.3"/><circle cx="296.7" cy="261.0" r="2.3"/></g><g fill="#E9C13E"><circle cx="110.0" cy="251.4" r="2.3"/><circle cx="127.0" cy="246.6" r="2.3"/><circle cx="144.0" cy="249.5" r="2.3"/><circle cx="160.9" cy="242.8" r="2.3"/><circle cx="194.9" cy="242.1" r="2.3"/><circle cx="211.9" cy="244.0" r="2.3"/><circle cx="228.8" cy="238.6" r="2.3"/><circle cx="262.8" cy="234.3" r="2.3"/><circle cx="313.7" cy="246.3" r="2.3"/><circle cx="330.6" cy="217.7" r="2.3"/></g><g fill="#E9C13E"><circle cx="110.0" cy="256.6" r="2.3"/><circle cx="127.0" cy="259.2" r="2.3"/><circle cx="144.0" cy="255.6" r="2.3"/><circle cx="160.9" cy="257.9" r="2.3"/><circle cx="177.9" cy="258.1" r="2.3"/><circle cx="194.9" cy="264.1" r="2.3"/><circle cx="211.9" cy="259.9" r="2.3"/><circle cx="228.8" cy="265.0" r="2.3"/><circle cx="245.8" cy="264.1" r="2.3"/><circle cx="262.8" cy="260.3" r="2.3"/><circle cx="279.7" cy="260.4" r="2.3"/></g><g fill="#E9C13E"><circle cx="127.0" cy="243.8" r="2.3"/><circle cx="160.9" cy="242.4" r="2.3"/><circle cx="194.9" cy="244.5" r="2.3"/><circle cx="211.9" cy="226.9" r="2.3"/><circle cx="228.8" cy="239.7" r="2.3"/><circle cx="313.7" cy="229.1" r="2.3"/></g><g fill="#E2A532"><circle cx="93.1" cy="270.4" r="2.3"/><circle cx="110.0" cy="260.4" r="2.3"/><circle cx="127.0" cy="254.6" r="2.3"/><circle cx="144.0" cy="256.0" r="2.3"/><circle cx="160.9" cy="256.2" r="2.3"/><circle cx="194.9" cy="255.8" r="2.3"/></g><g fill="#E2A532"><circle cx="110.0" cy="244.3" r="2.3"/><circle cx="127.0" cy="253.9" r="2.3"/><circle cx="144.0" cy="246.1" r="2.3"/><circle cx="160.9" cy="246.1" r="2.3"/><circle cx="211.9" cy="246.3" r="2.3"/><circle cx="228.8" cy="244.0" r="2.3"/><circle cx="245.8" cy="226.4" r="2.3"/><circle cx="279.7" cy="239.4" r="2.3"/><circle cx="296.7" cy="246.1" r="2.3"/><circle cx="313.7" cy="250.0" r="2.3"/><circle cx="330.6" cy="248.2" r="2.3"/><circle cx="364.6" cy="227.5" r="2.3"/></g><g fill="#E2A532"><circle cx="110.0" cy="250.6" r="2.3"/><circle cx="144.0" cy="245.1" r="2.3"/><circle cx="160.9" cy="249.2" r="2.3"/><circle cx="177.9" cy="243.0" r="2.3"/><circle cx="194.9" cy="244.1" r="2.3"/><circle cx="228.8" cy="248.3" r="2.3"/><circle cx="245.8" cy="248.5" r="2.3"/><circle cx="262.8" cy="240.5" r="2.3"/></g><g fill="#E2A532"><circle cx="110.0" cy="260.0" r="2.3"/><circle cx="127.0" cy="258.7" r="2.3"/><circle cx="144.0" cy="252.2" r="2.3"/><circle cx="160.9" cy="259.6" r="2.3"/><circle cx="194.9" cy="260.0" r="2.3"/><circle cx="211.9" cy="258.6" r="2.3"/><circle cx="228.8" cy="254.7" r="2.3"/><circle cx="245.8" cy="257.9" r="2.3"/><circle cx="262.8" cy="256.7" r="2.3"/><circle cx="296.7" cy="251.1" r="2.3"/></g><g fill="#C22A2D"><circle cx="110.0" cy="241.1" r="2.3"/><circle cx="144.0" cy="250.7" r="2.3"/><circle cx="194.9" cy="251.5" r="2.3"/><circle cx="228.8" cy="200.8" r="2.3"/><circle cx="262.8" cy="213.4" r="2.3"/><circle cx="296.7" cy="202.1" r="2.3"/><circle cx="330.6" cy="192.2" r="2.3"/><circle cx="364.6" cy="205.8" r="2.3"/><circle cx="381.6" cy="208.4" r="2.3"/></g><g fill="#4A5BA8"><circle cx="110.0" cy="255.0" r="2.3"/><circle cx="160.9" cy="251.0" r="2.3"/><circle cx="194.9" cy="252.6" r="2.3"/><circle cx="211.9" cy="245.5" r="2.3"/><circle cx="296.7" cy="245.6" r="2.3"/><circle cx="381.6" cy="214.9" r="2.3"/><circle cx="398.5" cy="216.7" r="2.3"/><circle cx="415.5" cy="207.1" r="2.3"/><circle cx="432.5" cy="214.9" r="2.3"/><circle cx="449.4" cy="205.6" r="2.3"/><circle cx="466.4" cy="189.7" r="2.3"/><circle cx="483.4" cy="176.1" r="2.3"/><circle cx="500.4" cy="183.9" r="2.3"/></g><g fill="#C22A2D"><circle cx="211.9" cy="249.5" r="2.3"/><circle cx="245.8" cy="251.3" r="2.3"/><circle cx="262.8" cy="244.5" r="2.3"/><circle cx="296.7" cy="244.4" r="2.3"/><circle cx="330.6" cy="216.5" r="2.3"/><circle cx="347.6" cy="231.4" r="2.3"/><circle cx="381.6" cy="231.0" r="2.3"/><circle cx="398.5" cy="226.0" r="2.3"/><circle cx="432.5" cy="217.7" r="2.3"/></g><g fill="#4A5BA8"><circle cx="160.9" cy="247.3" r="2.3"/><circle cx="177.9" cy="257.3" r="2.3"/><circle cx="330.6" cy="237.6" r="2.3"/><circle cx="364.6" cy="236.1" r="2.3"/><circle cx="381.6" cy="236.1" r="2.3"/><circle cx="449.4" cy="225.7" r="2.3"/></g><g fill="#E9C13E"><circle cx="110.0" cy="243.5" r="2.3"/><circle cx="160.9" cy="243.4" r="2.3"/><circle cx="245.8" cy="251.1" r="2.3"/><circle cx="262.8" cy="242.5" r="2.3"/><circle cx="364.6" cy="238.6" r="2.3"/><circle cx="398.5" cy="236.1" r="2.3"/><circle cx="432.5" cy="231.5" r="2.3"/></g><g fill="#C22A2D"><circle cx="110.0" cy="256.9" r="2.3"/><circle cx="160.9" cy="251.2" r="2.3"/><circle cx="177.9" cy="250.2" r="2.3"/><circle cx="296.7" cy="246.8" r="2.3"/><circle cx="381.6" cy="241.1" r="2.3"/><circle cx="432.5" cy="241.1" r="2.3"/><circle cx="449.4" cy="233.6" r="2.3"/><circle cx="466.4" cy="239.1" r="2.3"/></g><g fill="#4A5BA8"><circle cx="211.9" cy="252.7" r="2.3"/><circle cx="228.8" cy="238.3" r="2.3"/><circle cx="245.8" cy="246.9" r="2.3"/><circle cx="262.8" cy="236.5" r="2.3"/><circle cx="330.6" cy="233.3" r="2.3"/><circle cx="347.6" cy="247.2" r="2.3"/><circle cx="381.6" cy="243.6" r="2.3"/><circle cx="415.5" cy="246.2" r="2.3"/><circle cx="449.4" cy="247.4" r="2.3"/><circle cx="466.4" cy="243.6" r="2.3"/></g><g fill="#C22A2D"><circle cx="211.9" cy="249.9" r="2.3"/><circle cx="245.8" cy="246.8" r="2.3"/><circle cx="296.7" cy="226.8" r="2.3"/><circle cx="347.6" cy="228.9" r="2.3"/><circle cx="364.6" cy="238.6" r="2.3"/><circle cx="381.6" cy="251.2" r="2.3"/><circle cx="415.5" cy="252.0" r="2.3"/><circle cx="432.5" cy="247.9" r="2.3"/><circle cx="449.4" cy="242.9" r="2.3"/></g><g fill="#2F3B82"><circle cx="144.0" cy="247.4" r="2.3"/><circle cx="177.9" cy="238.9" r="2.3"/><circle cx="194.9" cy="240.4" r="2.3"/><circle cx="211.9" cy="245.4" r="2.3"/><circle cx="228.8" cy="231.0" r="2.3"/><circle cx="245.8" cy="228.5" r="2.3"/><circle cx="262.8" cy="221.0" r="2.3"/><circle cx="279.7" cy="236.1" r="2.3"/><circle cx="364.6" cy="243.6" r="2.3"/><circle cx="415.5" cy="246.2" r="2.3"/><circle cx="466.4" cy="260.0" r="2.3"/></g><g fill="#C22A2D"><circle cx="144.0" cy="253.8" r="2.3"/><circle cx="194.9" cy="245.6" r="2.3"/><circle cx="245.8" cy="249.6" r="2.3"/><circle cx="279.7" cy="244.4" r="2.3"/><circle cx="296.7" cy="240.1" r="2.3"/><circle cx="330.6" cy="236.4" r="2.3"/><circle cx="364.6" cy="248.7" r="2.3"/><circle cx="381.6" cy="248.7" r="2.3"/><circle cx="398.5" cy="256.5" r="2.3"/><circle cx="432.5" cy="263.8" r="2.3"/><circle cx="483.4" cy="260.5" r="2.3"/><circle cx="500.4" cy="258.5" r="2.3"/></g><g fill="#8A9C4A"><circle cx="160.9" cy="245.8" r="2.3"/><circle cx="211.9" cy="256.0" r="2.3"/><circle cx="228.8" cy="239.3" r="2.3"/><circle cx="364.6" cy="213.4" r="2.3"/><circle cx="398.5" cy="205.8" r="2.3"/></g><g fill="#8A9C4A"><circle cx="144.0" cy="236.1" r="2.3"/><circle cx="177.9" cy="215.9" r="2.3"/><circle cx="211.9" cy="214.4" r="2.3"/><circle cx="245.8" cy="223.5" r="2.3"/><circle cx="262.8" cy="228.5" r="2.3"/></g><g fill="#E2A532"><circle cx="127.0" cy="249.9" r="2.3"/><circle cx="160.9" cy="194.5" r="2.3"/><circle cx="194.9" cy="200.8" r="2.3"/><circle cx="228.8" cy="221.0" r="2.3"/><circle cx="245.8" cy="175.6" r="2.3"/><circle cx="262.8" cy="221.0" r="2.3"/></g><g fill="#E9C13E"><circle cx="160.9" cy="209.1" r="2.3"/><circle cx="228.8" cy="226.0" r="2.3"/><circle cx="296.7" cy="221.0" r="2.3"/></g><g fill="#C22A2D"><circle cx="127.0" cy="238.6" r="2.3"/><circle cx="160.9" cy="228.5" r="2.3"/><circle cx="228.8" cy="213.4" r="2.3"/></g><g fill="#6B4C94"><circle cx="160.9" cy="251.8" r="2.3"/><circle cx="194.9" cy="256.4" r="2.3"/><circle cx="228.8" cy="245.7" r="2.3"/><circle cx="245.8" cy="231.0" r="2.3"/><circle cx="262.8" cy="236.1" r="2.3"/><circle cx="279.7" cy="241.1" r="2.3"/></g><g fill="#8A9C4A"><circle cx="110.0" cy="258.8" r="2.3"/><circle cx="127.0" cy="266.3" r="2.3"/><circle cx="160.9" cy="267.8" r="2.3"/><circle cx="194.9" cy="265.1" r="2.3"/><circle cx="228.8" cy="261.3" r="2.3"/></g><g fill="#E9C13E"><circle cx="93.1" cy="275.9" r="2.3"/><circle cx="110.0" cy="261.3" r="2.3"/><circle cx="160.9" cy="270.1" r="2.3"/><circle cx="194.9" cy="268.3" r="2.3"/><circle cx="228.8" cy="266.8" r="2.3"/><circle cx="262.8" cy="263.8" r="2.3"/></g><g fill="#E2A532"><circle cx="93.1" cy="266.3" r="2.3"/><circle cx="127.0" cy="262.5" r="2.3"/><circle cx="160.9" cy="263.8" r="2.3"/><circle cx="211.9" cy="268.8" r="2.3"/><circle cx="245.8" cy="265.1" r="2.3"/></g><g fill="#8A9C4A"><circle cx="110.0" cy="248.7" r="2.3"/><circle cx="127.0" cy="258.8" r="2.3"/><circle cx="160.9" cy="267.6" r="2.3"/><circle cx="228.8" cy="263.8" r="2.3"/><circle cx="296.7" cy="260.0" r="2.3"/></g></g>
<polyline points="76.1,251.2 93.1,272.4 110.0,253.2 127.0,253.7 144.0,251.7 160.9,251.7 177.9,251.7 194.9,251.2 211.9,251.2 228.8,250.2 245.8,250.2 262.8,247.7 279.7,247.2 296.7,247.7 313.7,249.2 330.6,242.9 347.6,243.6 364.6,242.4 381.6,236.8 398.5,244.1 415.5,230.8 432.5,238.1 449.4,236.8 466.4,241.4 483.4,242.9 500.4,240.6" fill="none" stroke="#000" stroke-width="2.8" stroke-linejoin="round"/>
<g fill="#000"><circle cx="76.1" cy="251.2" r="2.6"/><circle cx="93.1" cy="272.4" r="2.6"/><circle cx="110.0" cy="253.2" r="2.6"/><circle cx="127.0" cy="253.7" r="2.6"/><circle cx="144.0" cy="251.7" r="2.6"/><circle cx="160.9" cy="251.7" r="2.6"/><circle cx="177.9" cy="251.7" r="2.6"/><circle cx="194.9" cy="251.2" r="2.6"/><circle cx="211.9" cy="251.2" r="2.6"/><circle cx="228.8" cy="250.2" r="2.6"/><circle cx="245.8" cy="250.2" r="2.6"/><circle cx="262.8" cy="247.7" r="2.6"/><circle cx="279.7" cy="247.2" r="2.6"/><circle cx="296.7" cy="247.7" r="2.6"/><circle cx="313.7" cy="249.2" r="2.6"/><circle cx="330.6" cy="242.9" r="2.6"/><circle cx="347.6" cy="243.6" r="2.6"/><circle cx="364.6" cy="242.4" r="2.6"/><circle cx="381.6" cy="236.8" r="2.6"/><circle cx="398.5" cy="244.1" r="2.6"/><circle cx="415.5" cy="230.8" r="2.6"/><circle cx="432.5" cy="238.1" r="2.6"/><circle cx="449.4" cy="236.8" r="2.6"/><circle cx="466.4" cy="241.4" r="2.6"/><circle cx="483.4" cy="242.9" r="2.6"/><circle cx="500.4" cy="240.6" r="2.6"/></g>
<g fill="none" stroke-width="1.2" stroke-opacity="0.58" stroke-linejoin="round"><polyline points="76.1,390.8 110.0,393.0 127.0,395.3 144.0,395.9 160.9,395.6 177.9,392.7 228.8,391.1 262.8,394.1 279.7,389.4 296.7,387.3 313.7,393.0 330.6,385.1 347.6,378.7 364.6,378.9 381.6,387.0" stroke="#C22A2D"/><polyline points="76.1,390.8 127.0,393.9 144.0,391.3 160.9,393.5 177.9,393.7 194.9,394.0 211.9,388.4 228.8,393.8 245.8,394.2 262.8,396.5 279.7,396.2 296.7,390.1 330.6,390.8 364.6,392.8 381.6,380.2" stroke="#A0242F"/><polyline points="76.1,390.8 110.0,396.4 127.0,396.7 177.9,394.3 194.9,387.5 211.9,391.5 228.8,390.6 262.8,390.6 279.7,384.6 313.7,390.4 347.6,385.3 364.6,385.5 381.6,385.3 398.5,382.6" stroke="#C22A2D"/><polyline points="76.1,390.8 110.0,394.6 127.0,394.6 144.0,392.6 160.9,394.2 194.9,391.2 228.8,388.3 245.8,389.1 296.7,393.6 330.6,385.7 364.6,388.1" stroke="#C22A2D"/><polyline points="76.1,390.8 110.0,389.4 127.0,393.2 144.0,392.3 160.9,389.6 177.9,385.9 194.9,377.9 228.8,391.8 245.8,390.7" stroke="#C22A2D"/><polyline points="76.1,390.8 110.0,397.4 127.0,398.2 144.0,398.1 160.9,396.4 228.8,392.5 245.8,392.0 262.8,392.9 279.7,398.4 296.7,392.2 313.7,396.5 330.6,391.4 347.6,395.4 364.6,389.8 381.6,394.8" stroke="#C22A2D"/><polyline points="76.1,390.8 110.0,394.5 127.0,397.5 144.0,396.0 160.9,393.7 245.8,394.1 262.8,383.5 296.7,391.6 347.6,391.1" stroke="#C22A2D"/><polyline points="76.1,390.8 110.0,391.9 160.9,392.2 211.9,388.5 228.8,384.2 262.8,364.8 279.7,367.2 296.7,374.0 313.7,381.6 330.6,378.7 347.6,381.5 364.6,371.5 381.6,358.3" stroke="#A0242F"/><polyline points="76.1,390.8 110.0,397.3 127.0,397.2 160.9,394.8 177.9,389.8 194.9,397.0 211.9,392.7 228.8,394.3 262.8,395.8 296.7,387.9 313.7,387.0 364.6,388.8 381.6,376.1" stroke="#C22A2D"/><polyline points="76.1,390.8 110.0,396.1 160.9,394.0 177.9,390.5 194.9,386.8 228.8,391.9 245.8,389.5 262.8,392.2 279.7,386.3 296.7,383.8 330.6,391.5" stroke="#C22A2D"/><polyline points="76.1,390.8 110.0,395.8 127.0,395.8 160.9,389.8 194.9,392.4 211.9,390.8 228.8,384.6 262.8,386.2 313.7,387.8 330.6,382.7 381.6,380.8" stroke="#D0532C"/><polyline points="76.1,390.8 144.0,388.9 160.9,386.4 177.9,386.0 194.9,379.4 211.9,383.3 262.8,372.1 279.7,385.0 296.7,383.8 313.7,378.3 330.6,382.0 347.6,383.3" stroke="#C22A2D"/><polyline points="76.1,390.8 110.0,386.5 127.0,385.4 160.9,384.3 177.9,380.8 194.9,374.5" stroke="#8A9C4A"/><polyline points="76.1,390.8 110.0,393.1 127.0,389.7 177.9,388.0 194.9,376.8 211.9,381.3 228.8,377.4 245.8,376.1 279.7,374.9 296.7,366.3 313.7,366.7 330.6,372.5 364.6,361.6" stroke="#DC7C2C"/><polyline points="76.1,390.8 127.0,395.8 144.0,394.0 160.9,390.9 211.9,392.3 228.8,394.8 245.8,394.8 262.8,396.4 296.7,390.4 313.7,394.8 330.6,393.7 347.6,389.9 364.6,392.7 381.6,390.4" stroke="#C22A2D"/><polyline points="76.1,390.8 110.0,392.1 144.0,393.5 160.9,393.5 177.9,393.0" stroke="#DC7C2C"/><polyline points="76.1,390.8 110.0,395.7 127.0,396.8 144.0,393.7 194.9,393.8 228.8,393.4 245.8,394.0 262.8,394.5 279.7,393.1 296.7,389.1 313.7,391.6 330.6,394.1" stroke="#DC7C2C"/><polyline points="76.1,390.8 110.0,391.9 127.0,390.6 160.9,381.9 194.9,386.1 211.9,374.9 228.8,389.7 245.8,384.8 262.8,375.9 330.6,371.7 364.6,369.1" stroke="#A0242F"/><polyline points="76.1,390.8 110.0,373.9 127.0,385.4 144.0,387.5 160.9,383.5 177.9,387.1 211.9,364.2 228.8,382.8 245.8,384.4 279.7,369.2 330.6,344.9 364.6,336.0" stroke="#DC7C2C"/><polyline points="76.1,390.8 110.0,395.3 127.0,396.0 144.0,394.3 160.9,394.1 177.9,393.0 194.9,393.9 211.9,396.5 228.8,394.0 245.8,398.0 262.8,395.5 279.7,399.2 296.7,397.0" stroke="#E2A532"/><polyline points="76.1,390.8 110.0,387.6 160.9,386.5 194.9,371.0 228.8,378.0 245.8,378.3 262.8,370.1 279.7,369.3 296.7,381.1 313.7,380.1 330.6,348.7 364.6,370.6 381.6,361.9" stroke="#C22A2D"/><polyline points="76.1,390.8 110.0,397.5 127.0,395.7 144.0,396.3 160.9,392.9 177.9,392.9 211.9,393.8 228.8,388.7" stroke="#D0532C"/><polyline points="76.1,390.8 110.0,383.4 127.0,388.0 160.9,388.5 177.9,378.6 194.9,383.0 211.9,352.9 228.8,367.9 245.8,362.4 262.8,347.4 279.7,358.1 296.7,368.5 330.6,343.5 381.6,362.6" stroke="#A0242F"/><polyline points="76.1,390.8 110.0,394.6 127.0,393.2 160.9,391.8 194.9,380.1 211.9,387.5 228.8,388.4 245.8,389.7 262.8,379.8 330.6,381.3 364.6,374.1 381.6,386.3" stroke="#C22A2D"/><polyline points="76.1,390.8 110.0,388.8 127.0,381.0 144.0,387.4 194.9,373.3 228.8,368.6 245.8,361.3" stroke="#A0242F"/><polyline points="76.1,390.8 110.0,390.6 127.0,385.5 144.0,383.5 160.9,380.3 194.9,360.8 211.9,360.0 228.8,354.2 245.8,357.2 262.8,384.2 279.7,363.6 330.6,369.6 347.6,354.0 364.6,366.4 381.6,367.2" stroke="#D0532C"/><polyline points="76.1,390.8 110.0,394.9 127.0,390.2 144.0,393.2 160.9,391.3 177.9,391.6 194.9,388.2 228.8,389.8" stroke="#E2A532"/><polyline points="76.1,390.8 127.0,387.9 160.9,391.5 177.9,388.3 194.9,379.9 211.9,379.5 228.8,375.3" stroke="#E9C13E"/><polyline points="76.1,390.8 110.0,396.6 127.0,395.4 160.9,394.7 211.9,392.7 228.8,391.7 296.7,390.6" stroke="#E9C13E"/><polyline points="76.1,390.8 110.0,388.5 127.0,391.6 144.0,387.7 160.9,386.2 177.9,383.4 194.9,385.3" stroke="#D0532C"/><polyline points="76.1,390.8 93.1,400.0 127.0,387.8 144.0,384.0 160.9,381.4 177.9,384.8 194.9,372.5 228.8,375.1 245.8,368.6 262.8,385.8 296.7,355.7" stroke="#E9C13E"/><polyline points="76.1,390.8 110.0,392.5 127.0,393.6 144.0,392.8 160.9,387.6 177.9,386.8 194.9,388.3 211.9,388.4 228.8,382.8 245.8,392.8 262.8,388.3 279.7,384.9 296.7,391.6 330.6,389.2 347.6,382.1 364.6,388.0" stroke="#E9C13E"/><polyline points="76.1,390.8 110.0,384.8 127.0,384.8 144.0,383.6 160.9,387.2 228.8,358.7 262.8,370.7" stroke="#E2A532"/><polyline points="76.1,390.8 110.0,395.2 127.0,396.5 160.9,392.1 177.9,393.1 194.9,390.4 228.8,385.5" stroke="#E9C13E"/><polyline points="76.1,390.8 93.1,400.2 110.0,395.1 127.0,396.9 144.0,396.2 160.9,396.2 194.9,395.7 262.8,391.0 296.7,394.9 313.7,395.0" stroke="#DC7C2C"/><polyline points="76.1,390.8 110.0,394.4 144.0,395.6 160.9,393.6 177.9,395.5 194.9,389.8 211.9,383.5 228.8,386.0 262.8,383.8 296.7,382.5 313.7,386.3 347.6,384.7 364.6,381.0 381.6,370.8" stroke="#C22A2D"/><polyline points="76.1,390.8 110.0,393.5 127.0,391.2 144.0,396.2 160.9,393.6 211.9,393.6 228.8,390.5 245.8,389.1 279.7,385.7 296.7,372.4 313.7,390.1 330.6,384.6 347.6,379.3 364.6,388.0 381.6,376.9" stroke="#E2A532"/><polyline points="76.1,390.8 110.0,392.3 127.0,394.2 160.9,386.3 194.9,385.9 228.8,379.5 245.8,373.6" stroke="#8A9C4A"/><polyline points="76.1,390.8 110.0,394.8 127.0,392.3 144.0,393.5 160.9,391.2 177.9,387.1 228.8,378.7" stroke="#DC7C2C"/><polyline points="76.1,390.8 110.0,392.1 127.0,394.5 160.9,387.4 177.9,389.0 194.9,385.7 228.8,387.5 262.8,378.0 279.7,387.1 296.7,384.3 313.7,377.3 330.6,388.8" stroke="#E2A532"/><polyline points="76.1,390.8 127.0,394.6 160.9,391.7 177.9,389.6 194.9,386.3 211.9,386.9 245.8,391.0 262.8,393.0 279.7,383.8" stroke="#E9C13E"/><polyline points="76.1,390.8 110.0,396.3 127.0,394.4 177.9,390.1 194.9,392.1 211.9,387.4 228.8,391.3 245.8,383.0 279.7,388.4 296.7,390.7" stroke="#E9C13E"/><polyline points="76.1,390.8 110.0,389.8 127.0,387.0 144.0,389.4 160.9,381.7 177.9,384.0 194.9,385.1 211.9,379.2 228.8,380.3 245.8,372.3 262.8,367.8 279.7,385.3 296.7,378.4 313.7,372.3 330.6,360.8" stroke="#E2A532"/><polyline points="76.1,390.8 110.0,391.4 127.0,388.8 144.0,387.4 160.9,372.0 177.9,382.2 211.9,382.2 228.8,373.3 296.7,354.7" stroke="#8A9C4A"/><polyline points="76.1,390.8 110.0,397.2 127.0,394.2 144.0,391.2 177.9,394.4 194.9,391.2 228.8,392.9 245.8,391.5 262.8,390.3 279.7,387.5 296.7,379.9 330.6,394.1 347.6,380.8 364.6,391.4 381.6,388.3" stroke="#E9C13E"/><polyline points="76.1,390.8 110.0,395.7 160.9,392.1 177.9,392.7 194.9,387.3 211.9,384.9 228.8,391.9 279.7,391.4 313.7,391.2 347.6,391.1 364.6,386.6" stroke="#DC7C2C"/><polyline points="76.1,390.8 110.0,382.9 144.0,384.0 160.9,385.1 177.9,377.4 194.9,379.9 211.9,373.6 228.8,353.8 245.8,371.4 262.8,366.3 279.7,354.0 296.7,351.2 313.7,363.0 330.6,343.2 364.6,339.4 381.6,346.2" stroke="#E2A532"/><polyline points="76.1,390.8 110.0,396.9 127.0,396.7 144.0,397.9 160.9,398.1 177.9,394.3 194.9,394.7 228.8,397.7 245.8,391.0 262.8,392.8 330.6,397.3 364.6,390.3 381.6,390.6" stroke="#C22A2D"/><polyline points="76.1,390.8 110.0,393.4 127.0,395.0 160.9,395.2" stroke="#C22A2D"/><polyline points="76.1,390.8 110.0,392.3 144.0,389.7 160.9,389.9 177.9,383.8 211.9,370.8" stroke="#E2A532"/><polyline points="76.1,390.8 110.0,394.1 127.0,397.2 144.0,395.7 160.9,397.4" stroke="#E9C13E"/><polyline points="76.1,390.8 110.0,397.2 160.9,397.5 177.9,395.0 194.9,394.9 211.9,395.0 228.8,394.2 245.8,394.3 262.8,394.5 279.7,389.6 296.7,395.5 330.6,391.9 347.6,395.5" stroke="#E2A532"/><polyline points="76.1,390.8 93.1,400.3 127.0,395.4 144.0,391.5 194.9,376.9 211.9,379.0 228.8,387.7 262.8,371.0 296.7,381.9 313.7,385.2 330.6,391.7 364.6,364.4 381.6,378.5" stroke="#C22A2D"/><polyline points="76.1,390.8 127.0,390.9 144.0,382.7 160.9,390.5 177.9,376.1 194.9,372.6 211.9,373.7 228.8,364.5 245.8,377.2 262.8,373.6" stroke="#D0532C"/><polyline points="76.1,390.8 110.0,391.0 127.0,391.8 144.0,392.7 160.9,387.6 177.9,393.5 194.9,390.9 211.9,390.8 228.8,384.8 245.8,387.2 262.8,376.7 279.7,382.0 296.7,379.1" stroke="#DC7C2C"/><polyline points="76.1,390.8 110.0,388.9 127.0,391.5 144.0,390.5 177.9,382.1 194.9,379.8 228.8,383.6 245.8,370.4 262.8,378.1 296.7,362.8 313.7,378.0 330.6,347.9 347.6,353.4" stroke="#DC7C2C"/><polyline points="76.1,390.8 110.0,392.3 127.0,395.0 144.0,395.6 160.9,393.0 177.9,395.0" stroke="#E9C13E"/><polyline points="76.1,390.8 110.0,392.4 127.0,393.8 194.9,385.0 228.8,387.4 262.8,368.7" stroke="#E2A532"/><polyline points="76.1,390.8 127.0,391.0 144.0,391.9 160.9,388.4 177.9,391.4 194.9,393.3 211.9,386.7 245.8,387.1 262.8,386.6 296.7,383.6 313.7,388.3 330.6,383.2" stroke="#E9C13E"/><polyline points="76.1,390.8 110.0,396.4 127.0,394.9 144.0,394.6 160.9,396.4 194.9,397.4 228.8,393.5 245.8,393.4 262.8,394.6 296.7,393.1 313.7,391.6" stroke="#E9C13E"/><polyline points="76.1,390.8 110.0,395.3 127.0,392.7 144.0,395.1 194.9,383.2 228.8,382.4 262.8,384.9 279.7,392.1 296.7,386.6" stroke="#E9C13E"/><polyline points="76.1,390.8 110.0,391.3 127.0,391.7 160.9,389.4 228.8,384.0 245.8,380.3 262.8,387.7 279.7,380.4" stroke="#E2A532"/><polyline points="76.1,390.8 110.0,384.8 127.0,387.3 144.0,376.2 177.9,386.8 194.9,381.3 211.9,367.0 228.8,364.0 262.8,375.3 296.7,380.7" stroke="#E9C13E"/><polyline points="76.1,390.8 110.0,397.4 127.0,395.3 144.0,392.5 160.9,393.3 177.9,395.5 194.9,398.6 245.8,392.9 262.8,397.8 279.7,394.0 296.7,397.7" stroke="#DC7C2C"/><polyline points="76.1,390.8 110.0,389.8 127.0,388.5 144.0,390.8 160.9,391.6 194.9,384.2 211.9,376.1 228.8,373.4 262.8,376.9 313.7,378.9 330.6,366.7" stroke="#E9C13E"/><polyline points="76.1,390.8 110.0,397.0 127.0,398.4 144.0,397.2 160.9,393.0 177.9,395.5 194.9,396.2 211.9,396.2 228.8,395.0 245.8,395.6 262.8,398.1 279.7,397.8" stroke="#E9C13E"/><polyline points="76.1,390.8 127.0,390.9 160.9,382.8 194.9,382.0 211.9,377.0 228.8,376.5 313.7,371.7" stroke="#E9C13E"/><polyline points="76.1,390.8 93.1,401.5 110.0,397.3 127.0,394.5 144.0,394.3 160.9,394.2 194.9,392.6" stroke="#E2A532"/><polyline points="76.1,390.8 110.0,391.6 127.0,389.9 144.0,389.7 160.9,385.5 211.9,373.4 228.8,379.4 245.8,372.2 279.7,386.4 296.7,385.9 313.7,382.9 330.6,385.8 364.6,373.4" stroke="#E2A532"/><polyline points="76.1,390.8 110.0,388.8 144.0,388.2 160.9,385.5 177.9,385.3 194.9,386.9 228.8,388.3 245.8,385.6 262.8,383.9" stroke="#E2A532"/><polyline points="76.1,390.8 110.0,393.7 127.0,396.3 144.0,397.9 160.9,395.5 194.9,392.8 211.9,390.6 228.8,394.3 245.8,395.0 262.8,388.3 296.7,387.2" stroke="#E2A532"/><polyline points="76.1,390.8 211.9,380.8 228.8,309.0 262.8,309.0 296.7,315.8 330.6,306.6 364.6,326.1 381.6,303.5" stroke="#C22A2D"/><polyline points="76.1,390.8 144.0,384.6 160.9,384.4 177.9,388.6 245.8,384.8 279.7,382.8 296.7,377.3 381.6,354.0 449.4,343.3" stroke="#4A5BA8"/><polyline points="76.1,390.8 110.0,391.3 144.0,392.0 194.9,383.8 211.9,393.3 279.7,386.5 313.7,378.7 330.6,384.2 381.6,383.9 415.5,386.2 432.5,382.8 449.4,381.7 466.4,373.3 483.4,367.9 500.4,372.5" stroke="#4A5BA8"/><polyline points="76.1,390.8 228.8,328.0 245.8,312.7 262.8,301.9 279.7,355.8 296.7,342.6 364.6,373.7 415.5,388.5 466.4,393.7 483.4,385.3 500.4,385.8" stroke="#2F3B82"/><polyline points="76.1,390.8 110.0,388.8 127.0,392.4 160.9,389.8 211.9,389.9 228.8,382.2 330.6,379.7 381.6,383.9 398.5,381.7 415.5,379.3 432.5,376.9" stroke="#E9C13E"/><polyline points="76.1,390.8 160.9,392.0 194.9,379.2 211.9,381.7 313.7,386.7 330.6,380.5 364.6,376.5 381.6,362.2 398.5,367.3 432.5,375.9 449.4,372.9" stroke="#C22A2D"/><polyline points="76.1,390.8 127.0,391.5 144.0,392.2 160.9,390.1 194.9,374.4 296.7,383.0 347.6,381.5 364.6,371.3 381.6,377.1 398.5,373.3 415.5,391.9 432.5,388.9 449.4,387.7" stroke="#C22A2D"/><polyline points="76.1,390.8 110.0,393.3 160.9,389.7 194.9,390.3 279.7,383.1 364.6,347.3 398.5,322.0" stroke="#8A9C4A"/><polyline points="76.1,390.8 160.9,384.8 211.9,381.0 313.7,370.1 330.6,379.3 347.6,356.5 364.6,343.9 381.6,362.2 398.5,383.9" stroke="#C22A2D"/><polyline points="76.1,390.8 127.0,394.3 160.9,347.5 177.9,338.8 194.9,325.9 228.8,356.5" stroke="#E2A532"/><polyline points="76.1,390.8 144.0,356.7 160.9,353.3 194.9,333.7 296.7,322.4 347.6,325.6" stroke="#E9C13E"/><polyline points="76.1,390.8 127.0,379.4 160.9,362.2 211.9,342.6 228.8,356.5" stroke="#C22A2D"/><polyline points="76.1,390.8 144.0,391.0 177.9,390.0 245.8,367.9 262.8,373.7 279.7,377.1" stroke="#6B4C94"/><polyline points="76.1,390.8 110.0,396.5 127.0,398.8 160.9,399.7 194.9,397.7 228.8,398.8" stroke="#8A9C4A"/><polyline points="76.1,390.8 93.1,401.7 110.0,397.7 144.0,399.9 177.9,399.7 194.9,399.4 228.8,399.9" stroke="#E9C13E"/><polyline points="76.1,390.8 93.1,401.3 127.0,398.8 160.9,399.4 211.9,399.0 245.8,398.8 279.7,398.2" stroke="#E2A532"/><polyline points="76.1,390.8 127.0,395.4 160.9,399.9 228.8,399.4 296.7,397.7" stroke="#8A9C4A"/></g>
<g fill-opacity="0.8"><g fill="#C22A2D"><circle cx="110.0" cy="393.0" r="2.3"/><circle cx="127.0" cy="395.3" r="2.3"/><circle cx="144.0" cy="395.9" r="2.3"/><circle cx="160.9" cy="395.6" r="2.3"/><circle cx="177.9" cy="392.7" r="2.3"/><circle cx="228.8" cy="391.1" r="2.3"/><circle cx="262.8" cy="394.1" r="2.3"/><circle cx="279.7" cy="389.4" r="2.3"/><circle cx="296.7" cy="387.3" r="2.3"/><circle cx="313.7" cy="393.0" r="2.3"/><circle cx="330.6" cy="385.1" r="2.3"/><circle cx="347.6" cy="378.7" r="2.3"/><circle cx="364.6" cy="378.9" r="2.3"/><circle cx="381.6" cy="387.0" r="2.3"/></g><g fill="#A0242F"><circle cx="127.0" cy="393.9" r="2.3"/><circle cx="144.0" cy="391.3" r="2.3"/><circle cx="160.9" cy="393.5" r="2.3"/><circle cx="177.9" cy="393.7" r="2.3"/><circle cx="194.9" cy="394.0" r="2.3"/><circle cx="211.9" cy="388.4" r="2.3"/><circle cx="228.8" cy="393.8" r="2.3"/><circle cx="245.8" cy="394.2" r="2.3"/><circle cx="262.8" cy="396.5" r="2.3"/><circle cx="279.7" cy="396.2" r="2.3"/><circle cx="296.7" cy="390.1" r="2.3"/><circle cx="330.6" cy="390.8" r="2.3"/><circle cx="364.6" cy="392.8" r="2.3"/><circle cx="381.6" cy="380.2" r="2.3"/></g><g fill="#C22A2D"><circle cx="110.0" cy="396.4" r="2.3"/><circle cx="127.0" cy="396.7" r="2.3"/><circle cx="177.9" cy="394.3" r="2.3"/><circle cx="194.9" cy="387.5" r="2.3"/><circle cx="211.9" cy="391.5" r="2.3"/><circle cx="228.8" cy="390.6" r="2.3"/><circle cx="262.8" cy="390.6" r="2.3"/><circle cx="279.7" cy="384.6" r="2.3"/><circle cx="313.7" cy="390.4" r="2.3"/><circle cx="347.6" cy="385.3" r="2.3"/><circle cx="364.6" cy="385.5" r="2.3"/><circle cx="381.6" cy="385.3" r="2.3"/><circle cx="398.5" cy="382.6" r="2.3"/></g><g fill="#C22A2D"><circle cx="110.0" cy="394.6" r="2.3"/><circle cx="127.0" cy="394.6" r="2.3"/><circle cx="144.0" cy="392.6" r="2.3"/><circle cx="160.9" cy="394.2" r="2.3"/><circle cx="194.9" cy="391.2" r="2.3"/><circle cx="228.8" cy="388.3" r="2.3"/><circle cx="245.8" cy="389.1" r="2.3"/><circle cx="296.7" cy="393.6" r="2.3"/><circle cx="330.6" cy="385.7" r="2.3"/><circle cx="364.6" cy="388.1" r="2.3"/></g><g fill="#C22A2D"><circle cx="110.0" cy="389.4" r="2.3"/><circle cx="127.0" cy="393.2" r="2.3"/><circle cx="144.0" cy="392.3" r="2.3"/><circle cx="160.9" cy="389.6" r="2.3"/><circle cx="177.9" cy="385.9" r="2.3"/><circle cx="194.9" cy="377.9" r="2.3"/><circle cx="228.8" cy="391.8" r="2.3"/><circle cx="245.8" cy="390.7" r="2.3"/></g><g fill="#C22A2D"><circle cx="110.0" cy="397.4" r="2.3"/><circle cx="127.0" cy="398.2" r="2.3"/><circle cx="144.0" cy="398.1" r="2.3"/><circle cx="160.9" cy="396.4" r="2.3"/><circle cx="228.8" cy="392.5" r="2.3"/><circle cx="245.8" cy="392.0" r="2.3"/><circle cx="262.8" cy="392.9" r="2.3"/><circle cx="279.7" cy="398.4" r="2.3"/><circle cx="296.7" cy="392.2" r="2.3"/><circle cx="313.7" cy="396.5" r="2.3"/><circle cx="330.6" cy="391.4" r="2.3"/><circle cx="347.6" cy="395.4" r="2.3"/><circle cx="364.6" cy="389.8" r="2.3"/><circle cx="381.6" cy="394.8" r="2.3"/></g><g fill="#C22A2D"><circle cx="110.0" cy="394.5" r="2.3"/><circle cx="127.0" cy="397.5" r="2.3"/><circle cx="144.0" cy="396.0" r="2.3"/><circle cx="160.9" cy="393.7" r="2.3"/><circle cx="245.8" cy="394.1" r="2.3"/><circle cx="262.8" cy="383.5" r="2.3"/><circle cx="296.7" cy="391.6" r="2.3"/><circle cx="347.6" cy="391.1" r="2.3"/></g><g fill="#A0242F"><circle cx="110.0" cy="391.9" r="2.3"/><circle cx="160.9" cy="392.2" r="2.3"/><circle cx="211.9" cy="388.5" r="2.3"/><circle cx="228.8" cy="384.2" r="2.3"/><circle cx="262.8" cy="364.8" r="2.3"/><circle cx="279.7" cy="367.2" r="2.3"/><circle cx="296.7" cy="374.0" r="2.3"/><circle cx="313.7" cy="381.6" r="2.3"/><circle cx="330.6" cy="378.7" r="2.3"/><circle cx="347.6" cy="381.5" r="2.3"/><circle cx="364.6" cy="371.5" r="2.3"/><circle cx="381.6" cy="358.3" r="2.3"/></g><g fill="#C22A2D"><circle cx="110.0" cy="397.3" r="2.3"/><circle cx="127.0" cy="397.2" r="2.3"/><circle cx="160.9" cy="394.8" r="2.3"/><circle cx="177.9" cy="389.8" r="2.3"/><circle cx="194.9" cy="397.0" r="2.3"/><circle cx="211.9" cy="392.7" r="2.3"/><circle cx="228.8" cy="394.3" r="2.3"/><circle cx="262.8" cy="395.8" r="2.3"/><circle cx="296.7" cy="387.9" r="2.3"/><circle cx="313.7" cy="387.0" r="2.3"/><circle cx="364.6" cy="388.8" r="2.3"/><circle cx="381.6" cy="376.1" r="2.3"/></g><g fill="#C22A2D"><circle cx="110.0" cy="396.1" r="2.3"/><circle cx="160.9" cy="394.0" r="2.3"/><circle cx="177.9" cy="390.5" r="2.3"/><circle cx="194.9" cy="386.8" r="2.3"/><circle cx="228.8" cy="391.9" r="2.3"/><circle cx="245.8" cy="389.5" r="2.3"/><circle cx="262.8" cy="392.2" r="2.3"/><circle cx="279.7" cy="386.3" r="2.3"/><circle cx="296.7" cy="383.8" r="2.3"/><circle cx="330.6" cy="391.5" r="2.3"/></g><g fill="#D0532C"><circle cx="110.0" cy="395.8" r="2.3"/><circle cx="127.0" cy="395.8" r="2.3"/><circle cx="160.9" cy="389.8" r="2.3"/><circle cx="194.9" cy="392.4" r="2.3"/><circle cx="211.9" cy="390.8" r="2.3"/><circle cx="228.8" cy="384.6" r="2.3"/><circle cx="262.8" cy="386.2" r="2.3"/><circle cx="313.7" cy="387.8" r="2.3"/><circle cx="330.6" cy="382.7" r="2.3"/><circle cx="381.6" cy="380.8" r="2.3"/></g><g fill="#C22A2D"><circle cx="144.0" cy="388.9" r="2.3"/><circle cx="160.9" cy="386.4" r="2.3"/><circle cx="177.9" cy="386.0" r="2.3"/><circle cx="194.9" cy="379.4" r="2.3"/><circle cx="211.9" cy="383.3" r="2.3"/><circle cx="262.8" cy="372.1" r="2.3"/><circle cx="279.7" cy="385.0" r="2.3"/><circle cx="296.7" cy="383.8" r="2.3"/><circle cx="313.7" cy="378.3" r="2.3"/><circle cx="330.6" cy="382.0" r="2.3"/><circle cx="347.6" cy="383.3" r="2.3"/></g><g fill="#8A9C4A"><circle cx="110.0" cy="386.5" r="2.3"/><circle cx="127.0" cy="385.4" r="2.3"/><circle cx="160.9" cy="384.3" r="2.3"/><circle cx="177.9" cy="380.8" r="2.3"/><circle cx="194.9" cy="374.5" r="2.3"/></g><g fill="#DC7C2C"><circle cx="110.0" cy="393.1" r="2.3"/><circle cx="127.0" cy="389.7" r="2.3"/><circle cx="177.9" cy="388.0" r="2.3"/><circle cx="194.9" cy="376.8" r="2.3"/><circle cx="211.9" cy="381.3" r="2.3"/><circle cx="228.8" cy="377.4" r="2.3"/><circle cx="245.8" cy="376.1" r="2.3"/><circle cx="279.7" cy="374.9" r="2.3"/><circle cx="296.7" cy="366.3" r="2.3"/><circle cx="313.7" cy="366.7" r="2.3"/><circle cx="330.6" cy="372.5" r="2.3"/><circle cx="364.6" cy="361.6" r="2.3"/></g><g fill="#C22A2D"><circle cx="127.0" cy="395.8" r="2.3"/><circle cx="144.0" cy="394.0" r="2.3"/><circle cx="160.9" cy="390.9" r="2.3"/><circle cx="211.9" cy="392.3" r="2.3"/><circle cx="228.8" cy="394.8" r="2.3"/><circle cx="245.8" cy="394.8" r="2.3"/><circle cx="262.8" cy="396.4" r="2.3"/><circle cx="296.7" cy="390.4" r="2.3"/><circle cx="313.7" cy="394.8" r="2.3"/><circle cx="330.6" cy="393.7" r="2.3"/><circle cx="347.6" cy="389.9" r="2.3"/><circle cx="364.6" cy="392.7" r="2.3"/><circle cx="381.6" cy="390.4" r="2.3"/></g><g fill="#DC7C2C"><circle cx="110.0" cy="392.1" r="2.3"/><circle cx="144.0" cy="393.5" r="2.3"/><circle cx="160.9" cy="393.5" r="2.3"/><circle cx="177.9" cy="393.0" r="2.3"/></g><g fill="#DC7C2C"><circle cx="110.0" cy="395.7" r="2.3"/><circle cx="127.0" cy="396.8" r="2.3"/><circle cx="144.0" cy="393.7" r="2.3"/><circle cx="194.9" cy="393.8" r="2.3"/><circle cx="228.8" cy="393.4" r="2.3"/><circle cx="245.8" cy="394.0" r="2.3"/><circle cx="262.8" cy="394.5" r="2.3"/><circle cx="279.7" cy="393.1" r="2.3"/><circle cx="296.7" cy="389.1" r="2.3"/><circle cx="313.7" cy="391.6" r="2.3"/><circle cx="330.6" cy="394.1" r="2.3"/></g><g fill="#A0242F"><circle cx="110.0" cy="391.9" r="2.3"/><circle cx="127.0" cy="390.6" r="2.3"/><circle cx="160.9" cy="381.9" r="2.3"/><circle cx="194.9" cy="386.1" r="2.3"/><circle cx="211.9" cy="374.9" r="2.3"/><circle cx="228.8" cy="389.7" r="2.3"/><circle cx="245.8" cy="384.8" r="2.3"/><circle cx="262.8" cy="375.9" r="2.3"/><circle cx="330.6" cy="371.7" r="2.3"/><circle cx="364.6" cy="369.1" r="2.3"/></g><g fill="#DC7C2C"><circle cx="110.0" cy="373.9" r="2.3"/><circle cx="127.0" cy="385.4" r="2.3"/><circle cx="144.0" cy="387.5" r="2.3"/><circle cx="160.9" cy="383.5" r="2.3"/><circle cx="177.9" cy="387.1" r="2.3"/><circle cx="211.9" cy="364.2" r="2.3"/><circle cx="228.8" cy="382.8" r="2.3"/><circle cx="245.8" cy="384.4" r="2.3"/><circle cx="279.7" cy="369.2" r="2.3"/><circle cx="330.6" cy="344.9" r="2.3"/><circle cx="364.6" cy="336.0" r="2.3"/></g><g fill="#E2A532"><circle cx="110.0" cy="395.3" r="2.3"/><circle cx="127.0" cy="396.0" r="2.3"/><circle cx="144.0" cy="394.3" r="2.3"/><circle cx="160.9" cy="394.1" r="2.3"/><circle cx="177.9" cy="393.0" r="2.3"/><circle cx="194.9" cy="393.9" r="2.3"/><circle cx="211.9" cy="396.5" r="2.3"/><circle cx="228.8" cy="394.0" r="2.3"/><circle cx="245.8" cy="398.0" r="2.3"/><circle cx="262.8" cy="395.5" r="2.3"/><circle cx="279.7" cy="399.2" r="2.3"/><circle cx="296.7" cy="397.0" r="2.3"/></g><g fill="#C22A2D"><circle cx="110.0" cy="387.6" r="2.3"/><circle cx="160.9" cy="386.5" r="2.3"/><circle cx="194.9" cy="371.0" r="2.3"/><circle cx="228.8" cy="378.0" r="2.3"/><circle cx="245.8" cy="378.3" r="2.3"/><circle cx="262.8" cy="370.1" r="2.3"/><circle cx="279.7" cy="369.3" r="2.3"/><circle cx="296.7" cy="381.1" r="2.3"/><circle cx="313.7" cy="380.1" r="2.3"/><circle cx="330.6" cy="348.7" r="2.3"/><circle cx="364.6" cy="370.6" r="2.3"/><circle cx="381.6" cy="361.9" r="2.3"/></g><g fill="#D0532C"><circle cx="110.0" cy="397.5" r="2.3"/><circle cx="127.0" cy="395.7" r="2.3"/><circle cx="144.0" cy="396.3" r="2.3"/><circle cx="160.9" cy="392.9" r="2.3"/><circle cx="177.9" cy="392.9" r="2.3"/><circle cx="211.9" cy="393.8" r="2.3"/><circle cx="228.8" cy="388.7" r="2.3"/></g><g fill="#A0242F"><circle cx="110.0" cy="383.4" r="2.3"/><circle cx="127.0" cy="388.0" r="2.3"/><circle cx="160.9" cy="388.5" r="2.3"/><circle cx="177.9" cy="378.6" r="2.3"/><circle cx="194.9" cy="383.0" r="2.3"/><circle cx="211.9" cy="352.9" r="2.3"/><circle cx="228.8" cy="367.9" r="2.3"/><circle cx="245.8" cy="362.4" r="2.3"/><circle cx="262.8" cy="347.4" r="2.3"/><circle cx="279.7" cy="358.1" r="2.3"/><circle cx="296.7" cy="368.5" r="2.3"/><circle cx="330.6" cy="343.5" r="2.3"/><circle cx="381.6" cy="362.6" r="2.3"/></g><g fill="#C22A2D"><circle cx="110.0" cy="394.6" r="2.3"/><circle cx="127.0" cy="393.2" r="2.3"/><circle cx="160.9" cy="391.8" r="2.3"/><circle cx="194.9" cy="380.1" r="2.3"/><circle cx="211.9" cy="387.5" r="2.3"/><circle cx="228.8" cy="388.4" r="2.3"/><circle cx="245.8" cy="389.7" r="2.3"/><circle cx="262.8" cy="379.8" r="2.3"/><circle cx="330.6" cy="381.3" r="2.3"/><circle cx="364.6" cy="374.1" r="2.3"/><circle cx="381.6" cy="386.3" r="2.3"/></g><g fill="#A0242F"><circle cx="110.0" cy="388.8" r="2.3"/><circle cx="127.0" cy="381.0" r="2.3"/><circle cx="144.0" cy="387.4" r="2.3"/><circle cx="194.9" cy="373.3" r="2.3"/><circle cx="228.8" cy="368.6" r="2.3"/><circle cx="245.8" cy="361.3" r="2.3"/></g><g fill="#D0532C"><circle cx="110.0" cy="390.6" r="2.3"/><circle cx="127.0" cy="385.5" r="2.3"/><circle cx="144.0" cy="383.5" r="2.3"/><circle cx="160.9" cy="380.3" r="2.3"/><circle cx="194.9" cy="360.8" r="2.3"/><circle cx="211.9" cy="360.0" r="2.3"/><circle cx="228.8" cy="354.2" r="2.3"/><circle cx="245.8" cy="357.2" r="2.3"/><circle cx="262.8" cy="384.2" r="2.3"/><circle cx="279.7" cy="363.6" r="2.3"/><circle cx="330.6" cy="369.6" r="2.3"/><circle cx="347.6" cy="354.0" r="2.3"/><circle cx="364.6" cy="366.4" r="2.3"/><circle cx="381.6" cy="367.2" r="2.3"/></g><g fill="#E2A532"><circle cx="110.0" cy="394.9" r="2.3"/><circle cx="127.0" cy="390.2" r="2.3"/><circle cx="144.0" cy="393.2" r="2.3"/><circle cx="160.9" cy="391.3" r="2.3"/><circle cx="177.9" cy="391.6" r="2.3"/><circle cx="194.9" cy="388.2" r="2.3"/><circle cx="228.8" cy="389.8" r="2.3"/></g><g fill="#E9C13E"><circle cx="127.0" cy="387.9" r="2.3"/><circle cx="160.9" cy="391.5" r="2.3"/><circle cx="177.9" cy="388.3" r="2.3"/><circle cx="194.9" cy="379.9" r="2.3"/><circle cx="211.9" cy="379.5" r="2.3"/><circle cx="228.8" cy="375.3" r="2.3"/></g><g fill="#E9C13E"><circle cx="110.0" cy="396.6" r="2.3"/><circle cx="127.0" cy="395.4" r="2.3"/><circle cx="160.9" cy="394.7" r="2.3"/><circle cx="211.9" cy="392.7" r="2.3"/><circle cx="228.8" cy="391.7" r="2.3"/><circle cx="296.7" cy="390.6" r="2.3"/></g><g fill="#D0532C"><circle cx="110.0" cy="388.5" r="2.3"/><circle cx="127.0" cy="391.6" r="2.3"/><circle cx="144.0" cy="387.7" r="2.3"/><circle cx="160.9" cy="386.2" r="2.3"/><circle cx="177.9" cy="383.4" r="2.3"/><circle cx="194.9" cy="385.3" r="2.3"/></g><g fill="#E9C13E"><circle cx="93.1" cy="400.0" r="2.3"/><circle cx="127.0" cy="387.8" r="2.3"/><circle cx="144.0" cy="384.0" r="2.3"/><circle cx="160.9" cy="381.4" r="2.3"/><circle cx="177.9" cy="384.8" r="2.3"/><circle cx="194.9" cy="372.5" r="2.3"/><circle cx="228.8" cy="375.1" r="2.3"/><circle cx="245.8" cy="368.6" r="2.3"/><circle cx="262.8" cy="385.8" r="2.3"/><circle cx="296.7" cy="355.7" r="2.3"/></g><g fill="#E9C13E"><circle cx="110.0" cy="392.5" r="2.3"/><circle cx="127.0" cy="393.6" r="2.3"/><circle cx="144.0" cy="392.8" r="2.3"/><circle cx="160.9" cy="387.6" r="2.3"/><circle cx="177.9" cy="386.8" r="2.3"/><circle cx="194.9" cy="388.3" r="2.3"/><circle cx="211.9" cy="388.4" r="2.3"/><circle cx="228.8" cy="382.8" r="2.3"/><circle cx="245.8" cy="392.8" r="2.3"/><circle cx="262.8" cy="388.3" r="2.3"/><circle cx="279.7" cy="384.9" r="2.3"/><circle cx="296.7" cy="391.6" r="2.3"/><circle cx="330.6" cy="389.2" r="2.3"/><circle cx="347.6" cy="382.1" r="2.3"/><circle cx="364.6" cy="388.0" r="2.3"/></g><g fill="#E2A532"><circle cx="110.0" cy="384.8" r="2.3"/><circle cx="127.0" cy="384.8" r="2.3"/><circle cx="144.0" cy="383.6" r="2.3"/><circle cx="160.9" cy="387.2" r="2.3"/><circle cx="228.8" cy="358.7" r="2.3"/><circle cx="262.8" cy="370.7" r="2.3"/></g><g fill="#E9C13E"><circle cx="110.0" cy="395.2" r="2.3"/><circle cx="127.0" cy="396.5" r="2.3"/><circle cx="160.9" cy="392.1" r="2.3"/><circle cx="177.9" cy="393.1" r="2.3"/><circle cx="194.9" cy="390.4" r="2.3"/><circle cx="228.8" cy="385.5" r="2.3"/></g><g fill="#DC7C2C"><circle cx="93.1" cy="400.2" r="2.3"/><circle cx="110.0" cy="395.1" r="2.3"/><circle cx="127.0" cy="396.9" r="2.3"/><circle cx="144.0" cy="396.2" r="2.3"/><circle cx="160.9" cy="396.2" r="2.3"/><circle cx="194.9" cy="395.7" r="2.3"/><circle cx="262.8" cy="391.0" r="2.3"/><circle cx="296.7" cy="394.9" r="2.3"/><circle cx="313.7" cy="395.0" r="2.3"/></g><g fill="#C22A2D"><circle cx="110.0" cy="394.4" r="2.3"/><circle cx="144.0" cy="395.6" r="2.3"/><circle cx="160.9" cy="393.6" r="2.3"/><circle cx="177.9" cy="395.5" r="2.3"/><circle cx="194.9" cy="389.8" r="2.3"/><circle cx="211.9" cy="383.5" r="2.3"/><circle cx="228.8" cy="386.0" r="2.3"/><circle cx="262.8" cy="383.8" r="2.3"/><circle cx="296.7" cy="382.5" r="2.3"/><circle cx="313.7" cy="386.3" r="2.3"/><circle cx="347.6" cy="384.7" r="2.3"/><circle cx="364.6" cy="381.0" r="2.3"/><circle cx="381.6" cy="370.8" r="2.3"/></g><g fill="#E2A532"><circle cx="110.0" cy="393.5" r="2.3"/><circle cx="127.0" cy="391.2" r="2.3"/><circle cx="144.0" cy="396.2" r="2.3"/><circle cx="160.9" cy="393.6" r="2.3"/><circle cx="211.9" cy="393.6" r="2.3"/><circle cx="228.8" cy="390.5" r="2.3"/><circle cx="245.8" cy="389.1" r="2.3"/><circle cx="279.7" cy="385.7" r="2.3"/><circle cx="296.7" cy="372.4" r="2.3"/><circle cx="313.7" cy="390.1" r="2.3"/><circle cx="330.6" cy="384.6" r="2.3"/><circle cx="347.6" cy="379.3" r="2.3"/><circle cx="364.6" cy="388.0" r="2.3"/><circle cx="381.6" cy="376.9" r="2.3"/></g><g fill="#8A9C4A"><circle cx="110.0" cy="392.3" r="2.3"/><circle cx="127.0" cy="394.2" r="2.3"/><circle cx="160.9" cy="386.3" r="2.3"/><circle cx="194.9" cy="385.9" r="2.3"/><circle cx="228.8" cy="379.5" r="2.3"/><circle cx="245.8" cy="373.6" r="2.3"/></g><g fill="#DC7C2C"><circle cx="110.0" cy="394.8" r="2.3"/><circle cx="127.0" cy="392.3" r="2.3"/><circle cx="144.0" cy="393.5" r="2.3"/><circle cx="160.9" cy="391.2" r="2.3"/><circle cx="177.9" cy="387.1" r="2.3"/><circle cx="228.8" cy="378.7" r="2.3"/></g><g fill="#E2A532"><circle cx="110.0" cy="392.1" r="2.3"/><circle cx="127.0" cy="394.5" r="2.3"/><circle cx="160.9" cy="387.4" r="2.3"/><circle cx="177.9" cy="389.0" r="2.3"/><circle cx="194.9" cy="385.7" r="2.3"/><circle cx="228.8" cy="387.5" r="2.3"/><circle cx="262.8" cy="378.0" r="2.3"/><circle cx="279.7" cy="387.1" r="2.3"/><circle cx="296.7" cy="384.3" r="2.3"/><circle cx="313.7" cy="377.3" r="2.3"/><circle cx="330.6" cy="388.8" r="2.3"/></g><g fill="#E9C13E"><circle cx="127.0" cy="394.6" r="2.3"/><circle cx="160.9" cy="391.7" r="2.3"/><circle cx="177.9" cy="389.6" r="2.3"/><circle cx="194.9" cy="386.3" r="2.3"/><circle cx="211.9" cy="386.9" r="2.3"/><circle cx="245.8" cy="391.0" r="2.3"/><circle cx="262.8" cy="393.0" r="2.3"/><circle cx="279.7" cy="383.8" r="2.3"/></g><g fill="#E9C13E"><circle cx="110.0" cy="396.3" r="2.3"/><circle cx="127.0" cy="394.4" r="2.3"/><circle cx="177.9" cy="390.1" r="2.3"/><circle cx="194.9" cy="392.1" r="2.3"/><circle cx="211.9" cy="387.4" r="2.3"/><circle cx="228.8" cy="391.3" r="2.3"/><circle cx="245.8" cy="383.0" r="2.3"/><circle cx="279.7" cy="388.4" r="2.3"/><circle cx="296.7" cy="390.7" r="2.3"/></g><g fill="#E2A532"><circle cx="110.0" cy="389.8" r="2.3"/><circle cx="127.0" cy="387.0" r="2.3"/><circle cx="144.0" cy="389.4" r="2.3"/><circle cx="160.9" cy="381.7" r="2.3"/><circle cx="177.9" cy="384.0" r="2.3"/><circle cx="194.9" cy="385.1" r="2.3"/><circle cx="211.9" cy="379.2" r="2.3"/><circle cx="228.8" cy="380.3" r="2.3"/><circle cx="245.8" cy="372.3" r="2.3"/><circle cx="262.8" cy="367.8" r="2.3"/><circle cx="279.7" cy="385.3" r="2.3"/><circle cx="296.7" cy="378.4" r="2.3"/><circle cx="313.7" cy="372.3" r="2.3"/><circle cx="330.6" cy="360.8" r="2.3"/></g><g fill="#8A9C4A"><circle cx="110.0" cy="391.4" r="2.3"/><circle cx="127.0" cy="388.8" r="2.3"/><circle cx="144.0" cy="387.4" r="2.3"/><circle cx="160.9" cy="372.0" r="2.3"/><circle cx="177.9" cy="382.2" r="2.3"/><circle cx="211.9" cy="382.2" r="2.3"/><circle cx="228.8" cy="373.3" r="2.3"/><circle cx="296.7" cy="354.7" r="2.3"/></g><g fill="#E9C13E"><circle cx="110.0" cy="397.2" r="2.3"/><circle cx="127.0" cy="394.2" r="2.3"/><circle cx="144.0" cy="391.2" r="2.3"/><circle cx="177.9" cy="394.4" r="2.3"/><circle cx="194.9" cy="391.2" r="2.3"/><circle cx="228.8" cy="392.9" r="2.3"/><circle cx="245.8" cy="391.5" r="2.3"/><circle cx="262.8" cy="390.3" r="2.3"/><circle cx="279.7" cy="387.5" r="2.3"/><circle cx="296.7" cy="379.9" r="2.3"/><circle cx="330.6" cy="394.1" r="2.3"/><circle cx="347.6" cy="380.8" r="2.3"/><circle cx="364.6" cy="391.4" r="2.3"/><circle cx="381.6" cy="388.3" r="2.3"/></g><g fill="#DC7C2C"><circle cx="110.0" cy="395.7" r="2.3"/><circle cx="160.9" cy="392.1" r="2.3"/><circle cx="177.9" cy="392.7" r="2.3"/><circle cx="194.9" cy="387.3" r="2.3"/><circle cx="211.9" cy="384.9" r="2.3"/><circle cx="228.8" cy="391.9" r="2.3"/><circle cx="279.7" cy="391.4" r="2.3"/><circle cx="313.7" cy="391.2" r="2.3"/><circle cx="347.6" cy="391.1" r="2.3"/><circle cx="364.6" cy="386.6" r="2.3"/></g><g fill="#E2A532"><circle cx="110.0" cy="382.9" r="2.3"/><circle cx="144.0" cy="384.0" r="2.3"/><circle cx="160.9" cy="385.1" r="2.3"/><circle cx="177.9" cy="377.4" r="2.3"/><circle cx="194.9" cy="379.9" r="2.3"/><circle cx="211.9" cy="373.6" r="2.3"/><circle cx="228.8" cy="353.8" r="2.3"/><circle cx="245.8" cy="371.4" r="2.3"/><circle cx="262.8" cy="366.3" r="2.3"/><circle cx="279.7" cy="354.0" r="2.3"/><circle cx="296.7" cy="351.2" r="2.3"/><circle cx="313.7" cy="363.0" r="2.3"/><circle cx="330.6" cy="343.2" r="2.3"/><circle cx="364.6" cy="339.4" r="2.3"/><circle cx="381.6" cy="346.2" r="2.3"/></g><g fill="#C22A2D"><circle cx="110.0" cy="396.9" r="2.3"/><circle cx="127.0" cy="396.7" r="2.3"/><circle cx="144.0" cy="397.9" r="2.3"/><circle cx="160.9" cy="398.1" r="2.3"/><circle cx="177.9" cy="394.3" r="2.3"/><circle cx="194.9" cy="394.7" r="2.3"/><circle cx="228.8" cy="397.7" r="2.3"/><circle cx="245.8" cy="391.0" r="2.3"/><circle cx="262.8" cy="392.8" r="2.3"/><circle cx="330.6" cy="397.3" r="2.3"/><circle cx="364.6" cy="390.3" r="2.3"/><circle cx="381.6" cy="390.6" r="2.3"/></g><g fill="#C22A2D"><circle cx="110.0" cy="393.4" r="2.3"/><circle cx="127.0" cy="395.0" r="2.3"/><circle cx="160.9" cy="395.2" r="2.3"/></g><g fill="#E2A532"><circle cx="110.0" cy="392.3" r="2.3"/><circle cx="144.0" cy="389.7" r="2.3"/><circle cx="160.9" cy="389.9" r="2.3"/><circle cx="177.9" cy="383.8" r="2.3"/><circle cx="211.9" cy="370.8" r="2.3"/></g><g fill="#E9C13E"><circle cx="110.0" cy="394.1" r="2.3"/><circle cx="127.0" cy="397.2" r="2.3"/><circle cx="144.0" cy="395.7" r="2.3"/><circle cx="160.9" cy="397.4" r="2.3"/></g><g fill="#E2A532"><circle cx="110.0" cy="397.2" r="2.3"/><circle cx="160.9" cy="397.5" r="2.3"/><circle cx="177.9" cy="395.0" r="2.3"/><circle cx="194.9" cy="394.9" r="2.3"/><circle cx="211.9" cy="395.0" r="2.3"/><circle cx="228.8" cy="394.2" r="2.3"/><circle cx="245.8" cy="394.3" r="2.3"/><circle cx="262.8" cy="394.5" r="2.3"/><circle cx="279.7" cy="389.6" r="2.3"/><circle cx="296.7" cy="395.5" r="2.3"/><circle cx="330.6" cy="391.9" r="2.3"/><circle cx="347.6" cy="395.5" r="2.3"/></g><g fill="#C22A2D"><circle cx="93.1" cy="400.3" r="2.3"/><circle cx="127.0" cy="395.4" r="2.3"/><circle cx="144.0" cy="391.5" r="2.3"/><circle cx="194.9" cy="376.9" r="2.3"/><circle cx="211.9" cy="379.0" r="2.3"/><circle cx="228.8" cy="387.7" r="2.3"/><circle cx="262.8" cy="371.0" r="2.3"/><circle cx="296.7" cy="381.9" r="2.3"/><circle cx="313.7" cy="385.2" r="2.3"/><circle cx="330.6" cy="391.7" r="2.3"/><circle cx="364.6" cy="364.4" r="2.3"/><circle cx="381.6" cy="378.5" r="2.3"/></g><g fill="#D0532C"><circle cx="127.0" cy="390.9" r="2.3"/><circle cx="144.0" cy="382.7" r="2.3"/><circle cx="160.9" cy="390.5" r="2.3"/><circle cx="177.9" cy="376.1" r="2.3"/><circle cx="194.9" cy="372.6" r="2.3"/><circle cx="211.9" cy="373.7" r="2.3"/><circle cx="228.8" cy="364.5" r="2.3"/><circle cx="245.8" cy="377.2" r="2.3"/><circle cx="262.8" cy="373.6" r="2.3"/></g><g fill="#DC7C2C"><circle cx="110.0" cy="391.0" r="2.3"/><circle cx="127.0" cy="391.8" r="2.3"/><circle cx="144.0" cy="392.7" r="2.3"/><circle cx="160.9" cy="387.6" r="2.3"/><circle cx="177.9" cy="393.5" r="2.3"/><circle cx="194.9" cy="390.9" r="2.3"/><circle cx="211.9" cy="390.8" r="2.3"/><circle cx="228.8" cy="384.8" r="2.3"/><circle cx="245.8" cy="387.2" r="2.3"/><circle cx="262.8" cy="376.7" r="2.3"/><circle cx="279.7" cy="382.0" r="2.3"/><circle cx="296.7" cy="379.1" r="2.3"/></g><g fill="#DC7C2C"><circle cx="110.0" cy="388.9" r="2.3"/><circle cx="127.0" cy="391.5" r="2.3"/><circle cx="144.0" cy="390.5" r="2.3"/><circle cx="177.9" cy="382.1" r="2.3"/><circle cx="194.9" cy="379.8" r="2.3"/><circle cx="228.8" cy="383.6" r="2.3"/><circle cx="245.8" cy="370.4" r="2.3"/><circle cx="262.8" cy="378.1" r="2.3"/><circle cx="296.7" cy="362.8" r="2.3"/><circle cx="313.7" cy="378.0" r="2.3"/><circle cx="330.6" cy="347.9" r="2.3"/><circle cx="347.6" cy="353.4" r="2.3"/></g><g fill="#E9C13E"><circle cx="110.0" cy="392.3" r="2.3"/><circle cx="127.0" cy="395.0" r="2.3"/><circle cx="144.0" cy="395.6" r="2.3"/><circle cx="160.9" cy="393.0" r="2.3"/><circle cx="177.9" cy="395.0" r="2.3"/></g><g fill="#E2A532"><circle cx="110.0" cy="392.4" r="2.3"/><circle cx="127.0" cy="393.8" r="2.3"/><circle cx="194.9" cy="385.0" r="2.3"/><circle cx="228.8" cy="387.4" r="2.3"/><circle cx="262.8" cy="368.7" r="2.3"/></g><g fill="#E9C13E"><circle cx="127.0" cy="391.0" r="2.3"/><circle cx="144.0" cy="391.9" r="2.3"/><circle cx="160.9" cy="388.4" r="2.3"/><circle cx="177.9" cy="391.4" r="2.3"/><circle cx="194.9" cy="393.3" r="2.3"/><circle cx="211.9" cy="386.7" r="2.3"/><circle cx="245.8" cy="387.1" r="2.3"/><circle cx="262.8" cy="386.6" r="2.3"/><circle cx="296.7" cy="383.6" r="2.3"/><circle cx="313.7" cy="388.3" r="2.3"/><circle cx="330.6" cy="383.2" r="2.3"/></g><g fill="#E9C13E"><circle cx="110.0" cy="396.4" r="2.3"/><circle cx="127.0" cy="394.9" r="2.3"/><circle cx="144.0" cy="394.6" r="2.3"/><circle cx="160.9" cy="396.4" r="2.3"/><circle cx="194.9" cy="397.4" r="2.3"/><circle cx="228.8" cy="393.5" r="2.3"/><circle cx="245.8" cy="393.4" r="2.3"/><circle cx="262.8" cy="394.6" r="2.3"/><circle cx="296.7" cy="393.1" r="2.3"/><circle cx="313.7" cy="391.6" r="2.3"/></g><g fill="#E9C13E"><circle cx="110.0" cy="395.3" r="2.3"/><circle cx="127.0" cy="392.7" r="2.3"/><circle cx="144.0" cy="395.1" r="2.3"/><circle cx="194.9" cy="383.2" r="2.3"/><circle cx="228.8" cy="382.4" r="2.3"/><circle cx="262.8" cy="384.9" r="2.3"/><circle cx="279.7" cy="392.1" r="2.3"/><circle cx="296.7" cy="386.6" r="2.3"/></g><g fill="#E2A532"><circle cx="110.0" cy="391.3" r="2.3"/><circle cx="127.0" cy="391.7" r="2.3"/><circle cx="160.9" cy="389.4" r="2.3"/><circle cx="228.8" cy="384.0" r="2.3"/><circle cx="245.8" cy="380.3" r="2.3"/><circle cx="262.8" cy="387.7" r="2.3"/><circle cx="279.7" cy="380.4" r="2.3"/></g><g fill="#E9C13E"><circle cx="110.0" cy="384.8" r="2.3"/><circle cx="127.0" cy="387.3" r="2.3"/><circle cx="144.0" cy="376.2" r="2.3"/><circle cx="177.9" cy="386.8" r="2.3"/><circle cx="194.9" cy="381.3" r="2.3"/><circle cx="211.9" cy="367.0" r="2.3"/><circle cx="228.8" cy="364.0" r="2.3"/><circle cx="262.8" cy="375.3" r="2.3"/><circle cx="296.7" cy="380.7" r="2.3"/></g><g fill="#DC7C2C"><circle cx="110.0" cy="397.4" r="2.3"/><circle cx="127.0" cy="395.3" r="2.3"/><circle cx="144.0" cy="392.5" r="2.3"/><circle cx="160.9" cy="393.3" r="2.3"/><circle cx="177.9" cy="395.5" r="2.3"/><circle cx="194.9" cy="398.6" r="2.3"/><circle cx="245.8" cy="392.9" r="2.3"/><circle cx="262.8" cy="397.8" r="2.3"/><circle cx="279.7" cy="394.0" r="2.3"/><circle cx="296.7" cy="397.7" r="2.3"/></g><g fill="#E9C13E"><circle cx="110.0" cy="389.8" r="2.3"/><circle cx="127.0" cy="388.5" r="2.3"/><circle cx="144.0" cy="390.8" r="2.3"/><circle cx="160.9" cy="391.6" r="2.3"/><circle cx="194.9" cy="384.2" r="2.3"/><circle cx="211.9" cy="376.1" r="2.3"/><circle cx="228.8" cy="373.4" r="2.3"/><circle cx="262.8" cy="376.9" r="2.3"/><circle cx="313.7" cy="378.9" r="2.3"/><circle cx="330.6" cy="366.7" r="2.3"/></g><g fill="#E9C13E"><circle cx="110.0" cy="397.0" r="2.3"/><circle cx="127.0" cy="398.4" r="2.3"/><circle cx="144.0" cy="397.2" r="2.3"/><circle cx="160.9" cy="393.0" r="2.3"/><circle cx="177.9" cy="395.5" r="2.3"/><circle cx="194.9" cy="396.2" r="2.3"/><circle cx="211.9" cy="396.2" r="2.3"/><circle cx="228.8" cy="395.0" r="2.3"/><circle cx="245.8" cy="395.6" r="2.3"/><circle cx="262.8" cy="398.1" r="2.3"/><circle cx="279.7" cy="397.8" r="2.3"/></g><g fill="#E9C13E"><circle cx="127.0" cy="390.9" r="2.3"/><circle cx="160.9" cy="382.8" r="2.3"/><circle cx="194.9" cy="382.0" r="2.3"/><circle cx="211.9" cy="377.0" r="2.3"/><circle cx="228.8" cy="376.5" r="2.3"/><circle cx="313.7" cy="371.7" r="2.3"/></g><g fill="#E2A532"><circle cx="93.1" cy="401.5" r="2.3"/><circle cx="110.0" cy="397.3" r="2.3"/><circle cx="127.0" cy="394.5" r="2.3"/><circle cx="144.0" cy="394.3" r="2.3"/><circle cx="160.9" cy="394.2" r="2.3"/><circle cx="194.9" cy="392.6" r="2.3"/></g><g fill="#E2A532"><circle cx="110.0" cy="391.6" r="2.3"/><circle cx="127.0" cy="389.9" r="2.3"/><circle cx="144.0" cy="389.7" r="2.3"/><circle cx="160.9" cy="385.5" r="2.3"/><circle cx="211.9" cy="373.4" r="2.3"/><circle cx="228.8" cy="379.4" r="2.3"/><circle cx="245.8" cy="372.2" r="2.3"/><circle cx="279.7" cy="386.4" r="2.3"/><circle cx="296.7" cy="385.9" r="2.3"/><circle cx="313.7" cy="382.9" r="2.3"/><circle cx="330.6" cy="385.8" r="2.3"/><circle cx="364.6" cy="373.4" r="2.3"/></g><g fill="#E2A532"><circle cx="110.0" cy="388.8" r="2.3"/><circle cx="144.0" cy="388.2" r="2.3"/><circle cx="160.9" cy="385.5" r="2.3"/><circle cx="177.9" cy="385.3" r="2.3"/><circle cx="194.9" cy="386.9" r="2.3"/><circle cx="228.8" cy="388.3" r="2.3"/><circle cx="245.8" cy="385.6" r="2.3"/><circle cx="262.8" cy="383.9" r="2.3"/></g><g fill="#E2A532"><circle cx="110.0" cy="393.7" r="2.3"/><circle cx="127.0" cy="396.3" r="2.3"/><circle cx="144.0" cy="397.9" r="2.3"/><circle cx="160.9" cy="395.5" r="2.3"/><circle cx="194.9" cy="392.8" r="2.3"/><circle cx="211.9" cy="390.6" r="2.3"/><circle cx="228.8" cy="394.3" r="2.3"/><circle cx="245.8" cy="395.0" r="2.3"/><circle cx="262.8" cy="388.3" r="2.3"/><circle cx="296.7" cy="387.2" r="2.3"/></g><g fill="#C22A2D"><circle cx="211.9" cy="380.8" r="2.3"/><circle cx="228.8" cy="309.0" r="2.3"/><circle cx="262.8" cy="309.0" r="2.3"/><circle cx="296.7" cy="315.8" r="2.3"/><circle cx="330.6" cy="306.6" r="2.3"/><circle cx="364.6" cy="326.1" r="2.3"/><circle cx="381.6" cy="303.5" r="2.3"/></g><g fill="#4A5BA8"><circle cx="144.0" cy="384.6" r="2.3"/><circle cx="160.9" cy="384.4" r="2.3"/><circle cx="177.9" cy="388.6" r="2.3"/><circle cx="245.8" cy="384.8" r="2.3"/><circle cx="279.7" cy="382.8" r="2.3"/><circle cx="296.7" cy="377.3" r="2.3"/><circle cx="381.6" cy="354.0" r="2.3"/><circle cx="449.4" cy="343.3" r="2.3"/></g><g fill="#4A5BA8"><circle cx="110.0" cy="391.3" r="2.3"/><circle cx="144.0" cy="392.0" r="2.3"/><circle cx="194.9" cy="383.8" r="2.3"/><circle cx="211.9" cy="393.3" r="2.3"/><circle cx="279.7" cy="386.5" r="2.3"/><circle cx="313.7" cy="378.7" r="2.3"/><circle cx="330.6" cy="384.2" r="2.3"/><circle cx="381.6" cy="383.9" r="2.3"/><circle cx="415.5" cy="386.2" r="2.3"/><circle cx="432.5" cy="382.8" r="2.3"/><circle cx="449.4" cy="381.7" r="2.3"/><circle cx="466.4" cy="373.3" r="2.3"/><circle cx="483.4" cy="367.9" r="2.3"/><circle cx="500.4" cy="372.5" r="2.3"/></g><g fill="#2F3B82"><circle cx="228.8" cy="328.0" r="2.3"/><circle cx="245.8" cy="312.7" r="2.3"/><circle cx="262.8" cy="301.9" r="2.3"/><circle cx="279.7" cy="355.8" r="2.3"/><circle cx="296.7" cy="342.6" r="2.3"/><circle cx="364.6" cy="373.7" r="2.3"/><circle cx="415.5" cy="388.5" r="2.3"/><circle cx="466.4" cy="393.7" r="2.3"/><circle cx="483.4" cy="385.3" r="2.3"/><circle cx="500.4" cy="385.8" r="2.3"/></g><g fill="#E9C13E"><circle cx="110.0" cy="388.8" r="2.3"/><circle cx="127.0" cy="392.4" r="2.3"/><circle cx="160.9" cy="389.8" r="2.3"/><circle cx="211.9" cy="389.9" r="2.3"/><circle cx="228.8" cy="382.2" r="2.3"/><circle cx="330.6" cy="379.7" r="2.3"/><circle cx="381.6" cy="383.9" r="2.3"/><circle cx="398.5" cy="381.7" r="2.3"/><circle cx="415.5" cy="379.3" r="2.3"/><circle cx="432.5" cy="376.9" r="2.3"/></g><g fill="#C22A2D"><circle cx="160.9" cy="392.0" r="2.3"/><circle cx="194.9" cy="379.2" r="2.3"/><circle cx="211.9" cy="381.7" r="2.3"/><circle cx="313.7" cy="386.7" r="2.3"/><circle cx="330.6" cy="380.5" r="2.3"/><circle cx="364.6" cy="376.5" r="2.3"/><circle cx="381.6" cy="362.2" r="2.3"/><circle cx="398.5" cy="367.3" r="2.3"/><circle cx="432.5" cy="375.9" r="2.3"/><circle cx="449.4" cy="372.9" r="2.3"/></g><g fill="#C22A2D"><circle cx="127.0" cy="391.5" r="2.3"/><circle cx="144.0" cy="392.2" r="2.3"/><circle cx="160.9" cy="390.1" r="2.3"/><circle cx="194.9" cy="374.4" r="2.3"/><circle cx="296.7" cy="383.0" r="2.3"/><circle cx="347.6" cy="381.5" r="2.3"/><circle cx="364.6" cy="371.3" r="2.3"/><circle cx="381.6" cy="377.1" r="2.3"/><circle cx="398.5" cy="373.3" r="2.3"/><circle cx="415.5" cy="391.9" r="2.3"/><circle cx="432.5" cy="388.9" r="2.3"/><circle cx="449.4" cy="387.7" r="2.3"/></g><g fill="#8A9C4A"><circle cx="110.0" cy="393.3" r="2.3"/><circle cx="160.9" cy="389.7" r="2.3"/><circle cx="194.9" cy="390.3" r="2.3"/><circle cx="279.7" cy="383.1" r="2.3"/><circle cx="364.6" cy="347.3" r="2.3"/><circle cx="398.5" cy="322.0" r="2.3"/></g><g fill="#C22A2D"><circle cx="160.9" cy="384.8" r="2.3"/><circle cx="211.9" cy="381.0" r="2.3"/><circle cx="313.7" cy="370.1" r="2.3"/><circle cx="330.6" cy="379.3" r="2.3"/><circle cx="347.6" cy="356.5" r="2.3"/><circle cx="364.6" cy="343.9" r="2.3"/><circle cx="381.6" cy="362.2" r="2.3"/><circle cx="398.5" cy="383.9" r="2.3"/></g><g fill="#E2A532"><circle cx="127.0" cy="394.3" r="2.3"/><circle cx="160.9" cy="347.5" r="2.3"/><circle cx="177.9" cy="338.8" r="2.3"/><circle cx="194.9" cy="325.9" r="2.3"/><circle cx="228.8" cy="356.5" r="2.3"/></g><g fill="#E9C13E"><circle cx="144.0" cy="356.7" r="2.3"/><circle cx="160.9" cy="353.3" r="2.3"/><circle cx="194.9" cy="333.7" r="2.3"/><circle cx="296.7" cy="322.4" r="2.3"/><circle cx="347.6" cy="325.6" r="2.3"/></g><g fill="#C22A2D"><circle cx="127.0" cy="379.4" r="2.3"/><circle cx="160.9" cy="362.2" r="2.3"/><circle cx="211.9" cy="342.6" r="2.3"/><circle cx="228.8" cy="356.5" r="2.3"/></g><g fill="#6B4C94"><circle cx="144.0" cy="391.0" r="2.3"/><circle cx="177.9" cy="390.0" r="2.3"/><circle cx="245.8" cy="367.9" r="2.3"/><circle cx="262.8" cy="373.7" r="2.3"/><circle cx="279.7" cy="377.1" r="2.3"/></g><g fill="#8A9C4A"><circle cx="110.0" cy="396.5" r="2.3"/><circle cx="127.0" cy="398.8" r="2.3"/><circle cx="160.9" cy="399.7" r="2.3"/><circle cx="194.9" cy="397.7" r="2.3"/><circle cx="228.8" cy="398.8" r="2.3"/></g><g fill="#E9C13E"><circle cx="93.1" cy="401.7" r="2.3"/><circle cx="110.0" cy="397.7" r="2.3"/><circle cx="144.0" cy="399.9" r="2.3"/><circle cx="177.9" cy="399.7" r="2.3"/><circle cx="194.9" cy="399.4" r="2.3"/><circle cx="228.8" cy="399.9" r="2.3"/></g><g fill="#E2A532"><circle cx="93.1" cy="401.3" r="2.3"/><circle cx="127.0" cy="398.8" r="2.3"/><circle cx="160.9" cy="399.4" r="2.3"/><circle cx="211.9" cy="399.0" r="2.3"/><circle cx="245.8" cy="398.8" r="2.3"/><circle cx="279.7" cy="398.2" r="2.3"/></g><g fill="#8A9C4A"><circle cx="127.0" cy="395.4" r="2.3"/><circle cx="160.9" cy="399.9" r="2.3"/><circle cx="228.8" cy="399.4" r="2.3"/><circle cx="296.7" cy="397.7" r="2.3"/></g></g>
<polyline points="76.1,390.8 93.1,401.0 110.0,392.7 127.0,393.3 144.0,391.8 160.9,391.1 177.9,390.5 194.9,388.1 211.9,386.5 228.8,387.1 245.8,386.5 262.8,385.0 279.7,385.7 296.7,383.5 313.7,385.0 330.6,382.8 347.6,382.8 364.6,381.0 381.6,378.6 398.5,376.9 415.5,384.2 432.5,384.2 449.4,379.3 466.4,388.4 483.4,381.2 500.4,379.3" fill="none" stroke="#000" stroke-width="2.8" stroke-linejoin="round"/>
<g fill="#000"><circle cx="76.1" cy="390.8" r="2.6"/><circle cx="93.1" cy="401.0" r="2.6"/><circle cx="110.0" cy="392.7" r="2.6"/><circle cx="127.0" cy="393.3" r="2.6"/><circle cx="144.0" cy="391.8" r="2.6"/><circle cx="160.9" cy="391.1" r="2.6"/><circle cx="177.9" cy="390.5" r="2.6"/><circle cx="194.9" cy="388.1" r="2.6"/><circle cx="211.9" cy="386.5" r="2.6"/><circle cx="228.8" cy="387.1" r="2.6"/><circle cx="245.8" cy="386.5" r="2.6"/><circle cx="262.8" cy="385.0" r="2.6"/><circle cx="279.7" cy="385.7" r="2.6"/><circle cx="296.7" cy="383.5" r="2.6"/><circle cx="313.7" cy="385.0" r="2.6"/><circle cx="330.6" cy="382.8" r="2.6"/><circle cx="347.6" cy="382.8" r="2.6"/><circle cx="364.6" cy="381.0" r="2.6"/><circle cx="381.6" cy="378.6" r="2.6"/><circle cx="398.5" cy="376.9" r="2.6"/><circle cx="415.5" cy="384.2" r="2.6"/><circle cx="432.5" cy="384.2" r="2.6"/><circle cx="449.4" cy="379.3" r="2.6"/><circle cx="466.4" cy="388.4" r="2.6"/><circle cx="483.4" cy="381.2" r="2.6"/><circle cx="500.4" cy="379.3" r="2.6"/></g></g>
<line x1="66.2" y1="38.8" x2="66.2" y2="156.5" stroke="#111" stroke-width="1.4"/>
<line x1="61.6" y1="149.6" x2="66.2" y2="149.6" stroke="#111" stroke-width="1.1"/>
<text x="57.2" y="153.3" font-size="12" text-anchor="end" fill="#222">−100</text>
<line x1="61.6" y1="129.6" x2="66.2" y2="129.6" stroke="#111" stroke-width="1.1"/>
<text x="57.2" y="133.3" font-size="12" text-anchor="end" fill="#222">0</text>
<line x1="61.6" y1="109.6" x2="66.2" y2="109.6" stroke="#111" stroke-width="1.1"/>
<text x="57.2" y="113.3" font-size="12" text-anchor="end" fill="#222">100</text>
<line x1="61.6" y1="89.6" x2="66.2" y2="89.6" stroke="#111" stroke-width="1.1"/>
<text x="57.2" y="93.3" font-size="12" text-anchor="end" fill="#222">200</text>
<line x1="61.6" y1="69.6" x2="66.2" y2="69.6" stroke="#111" stroke-width="1.1"/>
<text x="57.2" y="73.3" font-size="12" text-anchor="end" fill="#222">300</text>
<line x1="61.6" y1="49.6" x2="66.2" y2="49.6" stroke="#111" stroke-width="1.1"/>
<text x="57.2" y="53.3" font-size="12" text-anchor="end" fill="#222">400</text>
<text x="273.6" y="42.1" font-size="12.1" font-weight="bold" fill="#111">CD3<tspan font-size="6.8" dy="-4.2">+</tspan></text>
<line x1="66.2" y1="167.0" x2="66.2" y2="282.5" stroke="#111" stroke-width="1.4"/>
<line x1="61.6" y1="276.4" x2="66.2" y2="276.4" stroke="#111" stroke-width="1.1"/>
<text x="57.2" y="280.1" font-size="12" text-anchor="end" fill="#222">−100</text>
<line x1="61.6" y1="251.2" x2="66.2" y2="251.2" stroke="#111" stroke-width="1.1"/>
<text x="57.2" y="254.9" font-size="12" text-anchor="end" fill="#222">0</text>
<line x1="61.6" y1="226.0" x2="66.2" y2="226.0" stroke="#111" stroke-width="1.1"/>
<text x="57.2" y="229.7" font-size="12" text-anchor="end" fill="#222">100</text>
<line x1="61.6" y1="200.8" x2="66.2" y2="200.8" stroke="#111" stroke-width="1.1"/>
<text x="57.2" y="204.5" font-size="12" text-anchor="end" fill="#222">200</text>
<line x1="61.6" y1="175.6" x2="66.2" y2="175.6" stroke="#111" stroke-width="1.1"/>
<text x="57.2" y="179.3" font-size="12" text-anchor="end" fill="#222">300</text>
<text x="273.6" y="169.0" font-size="12.1" font-weight="bold" fill="#111">CD4<tspan font-size="6.8" dy="-4.2">+</tspan></text>
<line x1="66.2" y1="293.2" x2="66.2" y2="409.7" stroke="#111" stroke-width="1.4"/>
<line x1="61.6" y1="390.8" x2="66.2" y2="390.8" stroke="#111" stroke-width="1.1"/>
<text x="57.2" y="394.5" font-size="12" text-anchor="end" fill="#222">0</text>
<line x1="61.6" y1="367.9" x2="66.2" y2="367.9" stroke="#111" stroke-width="1.1"/>
<text x="57.2" y="371.6" font-size="12" text-anchor="end" fill="#222">200</text>
<line x1="61.6" y1="345.1" x2="66.2" y2="345.1" stroke="#111" stroke-width="1.1"/>
<text x="57.2" y="348.8" font-size="12" text-anchor="end" fill="#222">400</text>
<line x1="61.6" y1="322.2" x2="66.2" y2="322.2" stroke="#111" stroke-width="1.1"/>
<text x="57.2" y="325.9" font-size="12" text-anchor="end" fill="#222">600</text>
<line x1="61.6" y1="299.4" x2="66.2" y2="299.4" stroke="#111" stroke-width="1.1"/>
<text x="57.2" y="303.1" font-size="12" text-anchor="end" fill="#222">800</text>
<text x="273.6" y="294.6" font-size="12.1" font-weight="bold" fill="#111">CD8<tspan font-size="6.8" dy="-4.2">+</tspan></text>
<line x1="65.5" y1="409.7" x2="509.6" y2="409.7" stroke="#111" stroke-width="1.4"/>
<line x1="76.1" y1="406.4" x2="76.1" y2="409.7" stroke="#111" stroke-width="1"/>
<text x="76.1" y="425.4" font-size="11.1" text-anchor="middle" fill="#222">−1</text>
<line x1="93.1" y1="406.4" x2="93.1" y2="409.7" stroke="#111" stroke-width="1"/>
<text x="93.1" y="425.4" font-size="11.1" text-anchor="middle" fill="#222">0</text>
<line x1="110.0" y1="406.4" x2="110.0" y2="409.7" stroke="#111" stroke-width="1"/>
<text x="110.0" y="425.4" font-size="11.1" text-anchor="middle" fill="#222">1</text>
<line x1="127.0" y1="406.4" x2="127.0" y2="409.7" stroke="#111" stroke-width="1"/>
<text x="127.0" y="425.4" font-size="11.1" text-anchor="middle" fill="#222">2</text>
<line x1="144.0" y1="406.4" x2="144.0" y2="409.7" stroke="#111" stroke-width="1"/>
<text x="144.0" y="425.4" font-size="11.1" text-anchor="middle" fill="#222">3</text>
<line x1="160.9" y1="406.4" x2="160.9" y2="409.7" stroke="#111" stroke-width="1"/>
<text x="160.9" y="425.4" font-size="11.1" text-anchor="middle" fill="#222">4</text>
<line x1="177.9" y1="406.4" x2="177.9" y2="409.7" stroke="#111" stroke-width="1"/>
<text x="177.9" y="425.4" font-size="11.1" text-anchor="middle" fill="#222">5</text>
<line x1="194.9" y1="406.4" x2="194.9" y2="409.7" stroke="#111" stroke-width="1"/>
<text x="194.9" y="425.4" font-size="11.1" text-anchor="middle" fill="#222">6</text>
<line x1="211.9" y1="406.4" x2="211.9" y2="409.7" stroke="#111" stroke-width="1"/>
<text x="211.9" y="425.4" font-size="11.1" text-anchor="middle" fill="#222">7</text>
<line x1="228.8" y1="406.4" x2="228.8" y2="409.7" stroke="#111" stroke-width="1"/>
<text x="228.8" y="425.4" font-size="11.1" text-anchor="middle" fill="#222">8</text>
<line x1="245.8" y1="406.4" x2="245.8" y2="409.7" stroke="#111" stroke-width="1"/>
<text x="245.8" y="425.4" font-size="11.1" text-anchor="middle" fill="#222">10</text>
<line x1="262.8" y1="406.4" x2="262.8" y2="409.7" stroke="#111" stroke-width="1"/>
<text x="262.8" y="425.4" font-size="11.1" text-anchor="middle" fill="#222">12</text>
<line x1="279.7" y1="406.4" x2="279.7" y2="409.7" stroke="#111" stroke-width="1"/>
<text x="279.7" y="425.4" font-size="11.1" text-anchor="middle" fill="#222">14</text>
<line x1="296.7" y1="406.4" x2="296.7" y2="409.7" stroke="#111" stroke-width="1"/>
<text x="296.7" y="425.4" font-size="11.1" text-anchor="middle" fill="#222">16</text>
<line x1="313.7" y1="406.4" x2="313.7" y2="409.7" stroke="#111" stroke-width="1"/>
<text x="313.7" y="425.4" font-size="11.1" text-anchor="middle" fill="#222">18</text>
<line x1="330.6" y1="406.4" x2="330.6" y2="409.7" stroke="#111" stroke-width="1"/>
<text x="330.6" y="425.4" font-size="11.1" text-anchor="middle" fill="#222">20</text>
<line x1="347.6" y1="406.4" x2="347.6" y2="409.7" stroke="#111" stroke-width="1"/>
<text x="347.6" y="425.4" font-size="11.1" text-anchor="middle" fill="#222">22</text>
<line x1="364.6" y1="406.4" x2="364.6" y2="409.7" stroke="#111" stroke-width="1"/>
<text x="364.6" y="425.4" font-size="11.1" text-anchor="middle" fill="#222">24</text>
<line x1="381.6" y1="406.4" x2="381.6" y2="409.7" stroke="#111" stroke-width="1"/>
<text x="381.6" y="425.4" font-size="11.1" text-anchor="middle" fill="#222">28</text>
<line x1="398.5" y1="406.4" x2="398.5" y2="409.7" stroke="#111" stroke-width="1"/>
<text x="398.5" y="425.4" font-size="11.1" text-anchor="middle" fill="#222">32</text>
<line x1="415.5" y1="406.4" x2="415.5" y2="409.7" stroke="#111" stroke-width="1"/>
<text x="415.5" y="425.4" font-size="11.1" text-anchor="middle" fill="#222">36</text>
<line x1="432.5" y1="406.4" x2="432.5" y2="409.7" stroke="#111" stroke-width="1"/>
<text x="432.5" y="425.4" font-size="11.1" text-anchor="middle" fill="#222">40</text>
<line x1="449.4" y1="406.4" x2="449.4" y2="409.7" stroke="#111" stroke-width="1"/>
<text x="449.4" y="425.4" font-size="11.1" text-anchor="middle" fill="#222">44</text>
<line x1="466.4" y1="406.4" x2="466.4" y2="409.7" stroke="#111" stroke-width="1"/>
<text x="466.4" y="425.4" font-size="11.1" text-anchor="middle" fill="#222">48</text>
<line x1="483.4" y1="406.4" x2="483.4" y2="409.7" stroke="#111" stroke-width="1"/>
<text x="483.4" y="425.4" font-size="11.1" text-anchor="middle" fill="#222">52</text>
<line x1="500.4" y1="406.4" x2="500.4" y2="409.7" stroke="#111" stroke-width="1"/>
<text x="500.4" y="425.4" font-size="11.1" text-anchor="middle" fill="#222">56</text>
<text x="10.6" y="23.1" font-size="17.6" font-weight="bold" fill="#111">A</text>
<text x="11.2" y="487.8" font-size="17.6" font-weight="bold" fill="#111">B</text>
<text transform="translate(23.6,219.1) rotate(-90)" text-anchor="middle" font-size="16.5" textLength="331" lengthAdjust="spacingAndGlyphs" fill="#222">Percent change in absolute counts (×10<tspan font-size="10" dy="-6">6</tspan><tspan dy="6">/L) from baseline</tspan></text>
<text x="272.8" y="444.9" font-size="14.5" textLength="30.3" lengthAdjust="spacingAndGlyphs" fill="#222">Week</text>
<text x="10.2" y="443.5" font-size="9.7" textLength="215.3" lengthAdjust="spacingAndGlyphs" fill="#222">Only visits with more than 2 datapoints are shown.</text>
<line x1="30.7" y1="490.6" x2="409.5" y2="490.6" stroke="#111" stroke-width="1.2"/>
<line x1="30.7" y1="519.6" x2="409.5" y2="519.6" stroke="#111" stroke-width="1.1"/>
<line x1="30.7" y1="599.0" x2="409.5" y2="599.0" stroke="#111" stroke-width="1.2"/>
<text x="90.5" y="502.2" font-size="12.5" fill="#222"><tspan dy="0">CD45</tspan><tspan font-size="6.6" dy="-3.1">+</tspan><tspan dy="3.1">CD3</tspan><tspan font-size="6.6" dy="-3.1">+</tspan></text>
<text x="175.0" y="502.2" font-size="12.5" fill="#222"><tspan dy="0">CD45</tspan><tspan font-size="6.6" dy="-3.1">+</tspan><tspan dy="3.1">CD3</tspan><tspan font-size="6.6" dy="-3.1">+</tspan><tspan dy="3.1">CD4</tspan><tspan font-size="6.6" dy="-3.1">+</tspan></text>
<text x="295.7" y="502.2" font-size="12.5" fill="#222"><tspan dy="0">CD45</tspan><tspan font-size="6.6" dy="-3.1">+</tspan><tspan dy="3.1">CD3</tspan><tspan font-size="6.6" dy="-3.1">+</tspan><tspan dy="3.1">CD8</tspan><tspan font-size="6.6" dy="-3.1">+</tspan></text>
<text x="90.5" y="514.4" font-size="12.5" fill="#222">(*)</text>
<text x="175.0" y="514.4" font-size="12.5" fill="#222">(*)</text>
<text x="295.7" y="514.4" font-size="12.5" fill="#222">(*)</text>
<text x="38.2" y="530.4" font-size="10.7" font-weight="bold" fill="#111">Min</text>
<text x="90.3" y="530.4" font-size="10.5" fill="#222">–40.4</text>
<text x="175.0" y="530.4" font-size="10.5" fill="#222">–60.7</text>
<text x="295.7" y="530.4" font-size="10.5" fill="#222">–10.89</text>
<text x="38.2" y="543.4" font-size="10.7" font-weight="bold" fill="#111">1st Q</text>
<text x="90.3" y="543.4" font-size="10.5" fill="#222">12.13</text>
<text x="175.0" y="543.4" font-size="10.5" fill="#222">–8.666</text>
<text x="295.7" y="543.4" font-size="10.5" fill="#222">14.58</text>
<text x="38.2" y="556.5" font-size="10.7" font-weight="bold" fill="#111">Median</text>
<text x="90.3" y="556.5" font-size="10.5" fill="#222">19.95</text>
<text x="175.0" y="556.5" font-size="10.5" fill="#222">5.66</text>
<text x="295.7" y="556.5" font-size="10.5" fill="#222">26.99</text>
<text x="38.2" y="569.5" font-size="10.7" font-weight="bold" fill="#111">Mean</text>
<text x="90.3" y="569.5" font-size="10.5" fill="#222">29.28</text>
<text x="175.0" y="569.5" font-size="10.5" fill="#222">13.42</text>
<text x="295.7" y="569.5" font-size="10.5" fill="#222">39.09</text>
<text x="38.2" y="582.6" font-size="10.7" font-weight="bold" fill="#111">3rd Q</text>
<text x="90.3" y="582.6" font-size="10.5" fill="#222">47.65</text>
<text x="175.0" y="582.6" font-size="10.5" fill="#222">25.34</text>
<text x="295.7" y="582.6" font-size="10.5" fill="#222">53.71</text>
<text x="38.2" y="595.6" font-size="10.7" font-weight="bold" fill="#111">Max</text>
<text x="90.3" y="595.6" font-size="10.5" fill="#222">121.6</text>
<text x="175.0" y="595.6" font-size="10.5" fill="#222">125.5</text>
<text x="295.7" y="595.6" font-size="10.5" fill="#222">187.9</text>
<text x="38.2" y="610.4" font-size="11.38" fill="#666" class="g"><tspan font-size="7" dy="-4">*</tspan><tspan dy="4">Percent changes to baseline at on-treatment visit of T cells as a</tspan></text>
<text x="37.8" y="622.8" font-size="11.38" fill="#666" class="g">percentage of lymphocytes of 58 subjects.</text>
<g fill="#000"><rect x="0" y="0" width="1.2" height="637"/><rect x="0" y="0" width="520" height="1.2"/><rect x="518.6" y="0" width="1.4" height="637"/><rect x="0" y="635.4" width="520" height="1.6"/></g>
</svg></body></html>
